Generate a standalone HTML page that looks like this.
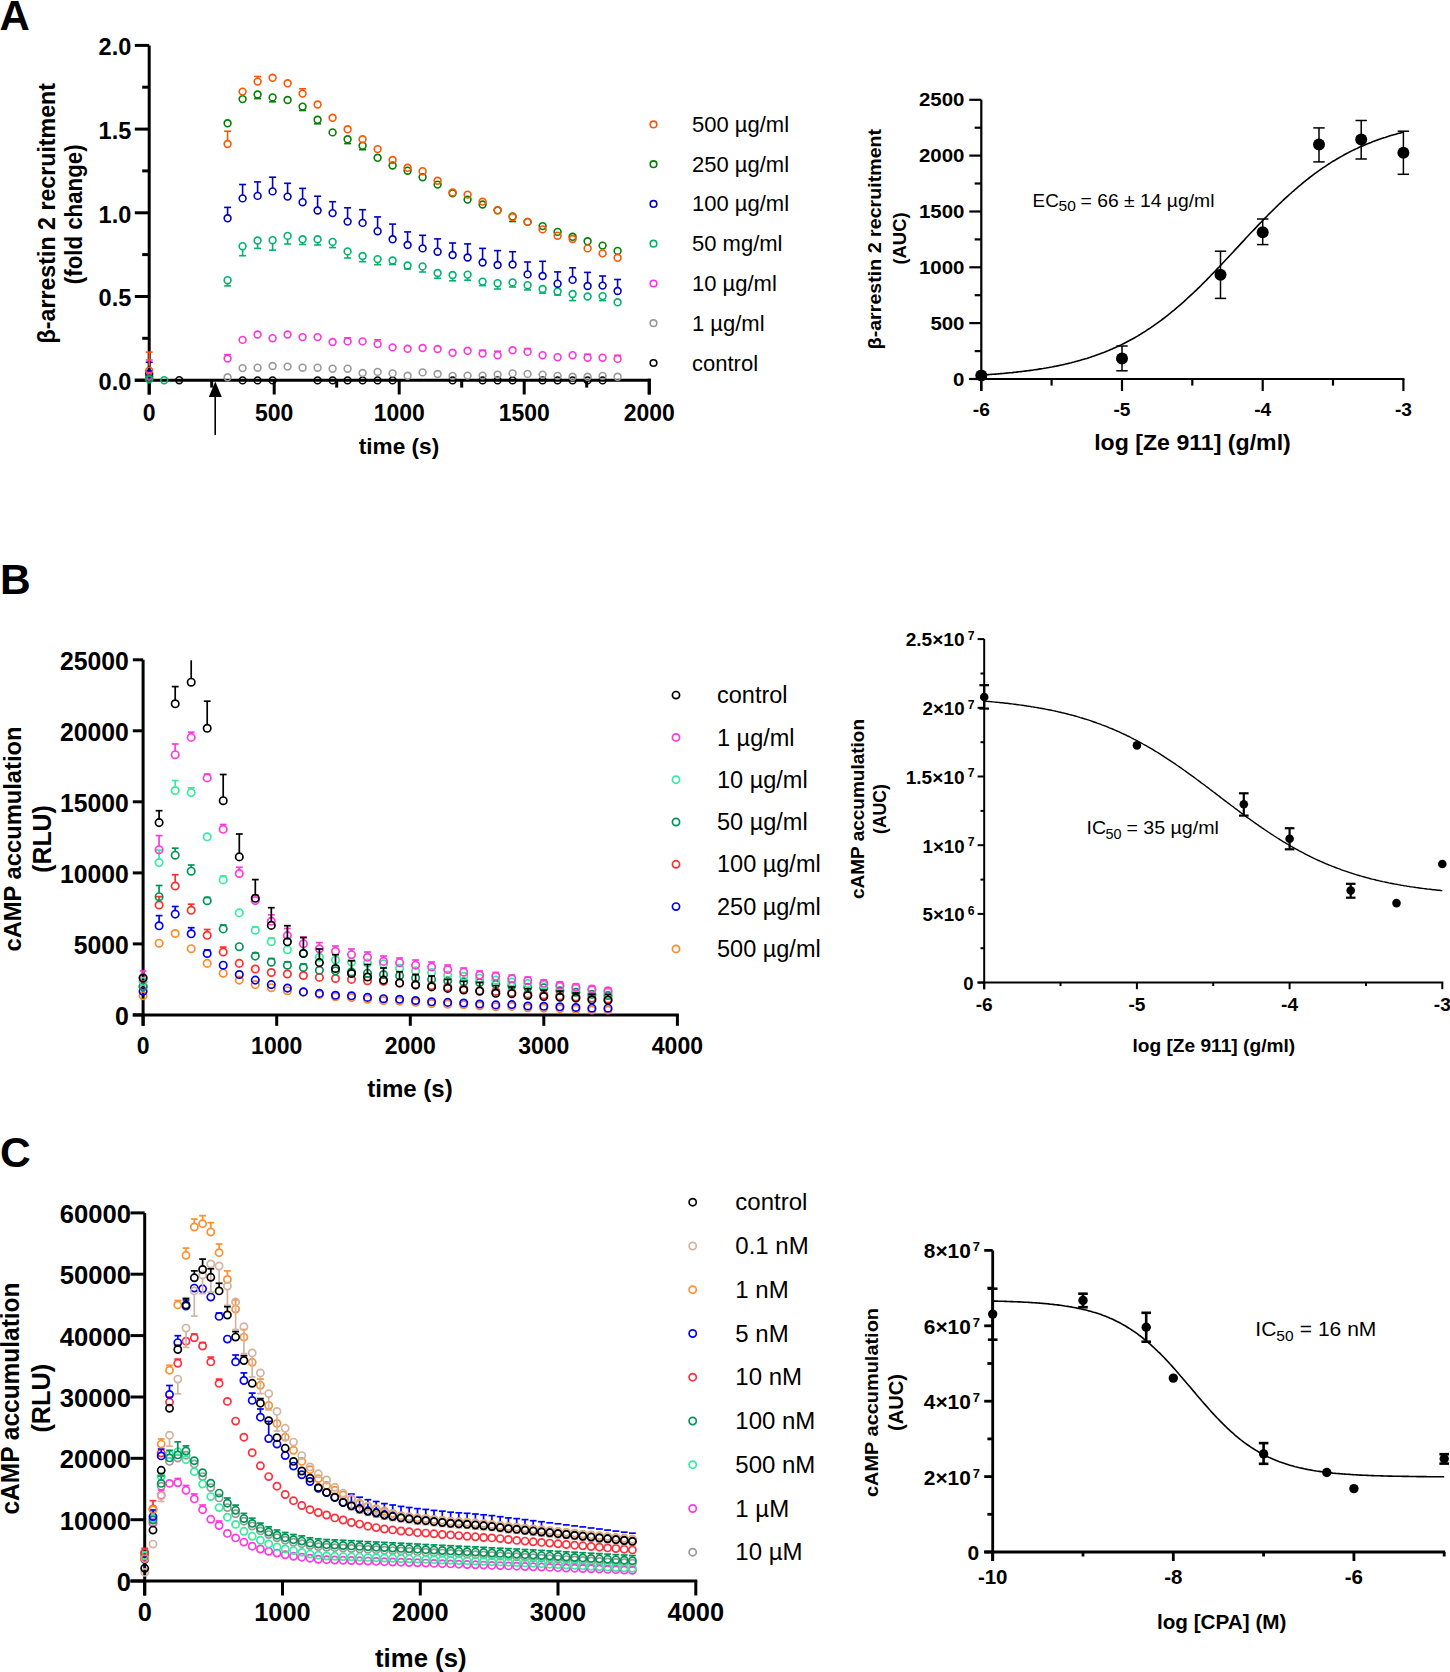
<!DOCTYPE html><html><head><meta charset="utf-8"><style>html,body{margin:0;padding:0;background:#fff;overflow:hidden}svg{display:block}</style></head><body>
<svg width="1450" height="1672" viewBox="0 0 1450 1672" font-family='"Liberation Sans", sans-serif'>
<rect width="1450" height="1672" fill="#fff"/>
<text x="-0.5" y="29.8" font-size="42" font-weight="bold" text-anchor="start" fill="#000">A</text>
<line x1="149.2" y1="45.4" x2="149.2" y2="394.5" stroke="#000" stroke-width="3" stroke-linecap="butt"/>
<line x1="134.8" y1="380.2" x2="650.8" y2="380.2" stroke="#000" stroke-width="3" stroke-linecap="butt"/>
<line x1="134.8" y1="380.2" x2="149.2" y2="380.2" stroke="#000" stroke-width="3" stroke-linecap="butt"/>
<text x="131.3" y="390.1" font-size="23.9" font-weight="bold" text-anchor="end" textLength="32.7" lengthAdjust="spacingAndGlyphs" fill="#000">0.0</text>
<line x1="142.2" y1="338.3" x2="149.2" y2="338.3" stroke="#000" stroke-width="3" stroke-linecap="butt"/>
<line x1="134.8" y1="296.5" x2="149.2" y2="296.5" stroke="#000" stroke-width="3" stroke-linecap="butt"/>
<text x="131.3" y="306.4" font-size="23.9" font-weight="bold" text-anchor="end" textLength="32.7" lengthAdjust="spacingAndGlyphs" fill="#000">0.5</text>
<line x1="142.2" y1="254.6" x2="149.2" y2="254.6" stroke="#000" stroke-width="3" stroke-linecap="butt"/>
<line x1="134.8" y1="212.8" x2="149.2" y2="212.8" stroke="#000" stroke-width="3" stroke-linecap="butt"/>
<text x="131.3" y="222.7" font-size="23.9" font-weight="bold" text-anchor="end" textLength="32.7" lengthAdjust="spacingAndGlyphs" fill="#000">1.0</text>
<line x1="142.2" y1="170.9" x2="149.2" y2="170.9" stroke="#000" stroke-width="3" stroke-linecap="butt"/>
<line x1="134.8" y1="129.1" x2="149.2" y2="129.1" stroke="#000" stroke-width="3" stroke-linecap="butt"/>
<text x="131.3" y="139" font-size="23.9" font-weight="bold" text-anchor="end" textLength="32.7" lengthAdjust="spacingAndGlyphs" fill="#000">1.5</text>
<line x1="142.2" y1="87.2" x2="149.2" y2="87.2" stroke="#000" stroke-width="3" stroke-linecap="butt"/>
<line x1="134.8" y1="45.4" x2="149.2" y2="45.4" stroke="#000" stroke-width="3" stroke-linecap="butt"/>
<text x="131.3" y="55.3" font-size="23.9" font-weight="bold" text-anchor="end" textLength="32.7" lengthAdjust="spacingAndGlyphs" fill="#000">2.0</text>
<line x1="149.2" y1="380.2" x2="149.2" y2="394.5" stroke="#000" stroke-width="3" stroke-linecap="butt"/>
<text x="149.2" y="420.8" font-size="23.9" font-weight="bold" text-anchor="middle" textLength="12.8" lengthAdjust="spacingAndGlyphs" fill="#000">0</text>
<line x1="211.7" y1="380.2" x2="211.7" y2="387.6" stroke="#000" stroke-width="3" stroke-linecap="butt"/>
<line x1="274.2" y1="380.2" x2="274.2" y2="394.5" stroke="#000" stroke-width="3" stroke-linecap="butt"/>
<text x="274.2" y="420.8" font-size="23.9" font-weight="bold" text-anchor="middle" textLength="38.4" lengthAdjust="spacingAndGlyphs" fill="#000">500</text>
<line x1="336.7" y1="380.2" x2="336.7" y2="387.6" stroke="#000" stroke-width="3" stroke-linecap="butt"/>
<line x1="399.2" y1="380.2" x2="399.2" y2="394.5" stroke="#000" stroke-width="3" stroke-linecap="butt"/>
<text x="399.2" y="420.8" font-size="23.9" font-weight="bold" text-anchor="middle" textLength="51.1" lengthAdjust="spacingAndGlyphs" fill="#000">1000</text>
<line x1="461.7" y1="380.2" x2="461.7" y2="387.6" stroke="#000" stroke-width="3" stroke-linecap="butt"/>
<line x1="524.2" y1="380.2" x2="524.2" y2="394.5" stroke="#000" stroke-width="3" stroke-linecap="butt"/>
<text x="524.2" y="420.8" font-size="23.9" font-weight="bold" text-anchor="middle" textLength="51.1" lengthAdjust="spacingAndGlyphs" fill="#000">1500</text>
<line x1="586.7" y1="380.2" x2="586.7" y2="387.6" stroke="#000" stroke-width="3" stroke-linecap="butt"/>
<line x1="649.2" y1="380.2" x2="649.2" y2="394.5" stroke="#000" stroke-width="3" stroke-linecap="butt"/>
<text x="649.2" y="420.8" font-size="23.9" font-weight="bold" text-anchor="middle" textLength="51.1" lengthAdjust="spacingAndGlyphs" fill="#000">2000</text>
<line x1="649.3" y1="378.7" x2="649.3" y2="394.5" stroke="#000" stroke-width="3" stroke-linecap="butt"/>
<text x="399" y="454.3" font-size="22.6" font-weight="bold" text-anchor="middle" textLength="80.4" lengthAdjust="spacingAndGlyphs" fill="#000">time (s)</text>
<text transform="translate(54.8,213.2) rotate(-90)" font-size="24" font-weight="bold" text-anchor="middle" textLength="260.4" lengthAdjust="spacingAndGlyphs" fill="#000">&#946;-arrestin 2 recruitment</text>
<text transform="translate(82,214.3) rotate(-90)" font-size="23" font-weight="bold" text-anchor="middle" textLength="139.8" lengthAdjust="spacingAndGlyphs" fill="#000">(fold change)</text>
<line x1="215.2" y1="396" x2="215.2" y2="435" stroke="#000" stroke-width="1.6" stroke-linecap="butt"/>
<polygon points="215.3,381.6 208.8,397 221.8,397" fill="#000"/>
<circle cx="149.2" cy="376.5" r="3.4" fill="none" stroke="#999999" stroke-width="1.6"/>
<circle cx="149.2" cy="376" r="3.4" fill="none" stroke="#FF33DD" stroke-width="1.6"/>
<line x1="145.7" y1="360" x2="152.7" y2="360" stroke="#FF33DD" stroke-width="1.6" stroke-linecap="butt"/>
<circle cx="149.2" cy="373.5" r="3.4" fill="none" stroke="#0000C0" stroke-width="1.6"/>
<line x1="145.7" y1="362.3" x2="152.7" y2="362.3" stroke="#0000C0" stroke-width="1.6" stroke-linecap="butt"/>
<line x1="149.2" y1="366" x2="149.2" y2="352.1" stroke="#FF5500" stroke-width="1.6" stroke-linecap="butt"/>
<line x1="145.7" y1="352.1" x2="152.7" y2="352.1" stroke="#FF5500" stroke-width="1.6" stroke-linecap="butt"/>
<circle cx="149.2" cy="370.6" r="3.4" fill="none" stroke="#FF5500" stroke-width="1.6"/>
<circle cx="149.2" cy="378.5" r="3.4" fill="none" stroke="#007F00" stroke-width="1.6"/>
<circle cx="149.2" cy="379.4" r="3.4" fill="none" stroke="#00B36B" stroke-width="1.6"/>
<circle cx="164.2" cy="380.2" r="3.4" fill="none" stroke="#00B36B" stroke-width="1.6"/>
<circle cx="179.2" cy="380.2" r="3.4" fill="none" stroke="#000000" stroke-width="1.6"/>
<circle cx="242.6" cy="380.4" r="3.4" fill="none" stroke="#000000" stroke-width="1.6"/>
<circle cx="257.6" cy="380.4" r="3.4" fill="none" stroke="#000000" stroke-width="1.6"/>
<circle cx="272.6" cy="380.4" r="3.4" fill="none" stroke="#000000" stroke-width="1.6"/>
<circle cx="317.6" cy="380.4" r="3.4" fill="none" stroke="#000000" stroke-width="1.6"/>
<circle cx="332.6" cy="380.4" r="3.4" fill="none" stroke="#000000" stroke-width="1.6"/>
<circle cx="347.6" cy="380.4" r="3.4" fill="none" stroke="#000000" stroke-width="1.6"/>
<circle cx="362.6" cy="380.4" r="3.4" fill="none" stroke="#000000" stroke-width="1.6"/>
<circle cx="377.6" cy="380.4" r="3.4" fill="none" stroke="#000000" stroke-width="1.6"/>
<circle cx="392.6" cy="380.4" r="3.4" fill="none" stroke="#000000" stroke-width="1.6"/>
<circle cx="452.6" cy="380.4" r="3.4" fill="none" stroke="#000000" stroke-width="1.6"/>
<circle cx="482.6" cy="380.4" r="3.4" fill="none" stroke="#000000" stroke-width="1.6"/>
<circle cx="497.6" cy="380.4" r="3.4" fill="none" stroke="#000000" stroke-width="1.6"/>
<circle cx="512.6" cy="380.4" r="3.4" fill="none" stroke="#000000" stroke-width="1.6"/>
<circle cx="542.6" cy="380.4" r="3.4" fill="none" stroke="#000000" stroke-width="1.6"/>
<circle cx="557.6" cy="380.4" r="3.4" fill="none" stroke="#000000" stroke-width="1.6"/>
<circle cx="572.6" cy="380.4" r="3.4" fill="none" stroke="#000000" stroke-width="1.6"/>
<circle cx="587.6" cy="380.4" r="3.4" fill="none" stroke="#000000" stroke-width="1.6"/>
<circle cx="602.6" cy="380.4" r="3.4" fill="none" stroke="#000000" stroke-width="1.6"/>
<circle cx="227.6" cy="377.3" r="3.4" fill="none" stroke="#999999" stroke-width="1.6"/>
<circle cx="242.6" cy="368.1" r="3.4" fill="none" stroke="#999999" stroke-width="1.6"/>
<circle cx="257.6" cy="367.7" r="3.4" fill="none" stroke="#999999" stroke-width="1.6"/>
<circle cx="272.6" cy="366" r="3.4" fill="none" stroke="#999999" stroke-width="1.6"/>
<circle cx="287.6" cy="366.6" r="3.4" fill="none" stroke="#999999" stroke-width="1.6"/>
<circle cx="302.6" cy="367.7" r="3.4" fill="none" stroke="#999999" stroke-width="1.6"/>
<circle cx="317.6" cy="367.7" r="3.4" fill="none" stroke="#999999" stroke-width="1.6"/>
<circle cx="332.6" cy="368.7" r="3.4" fill="none" stroke="#999999" stroke-width="1.6"/>
<circle cx="347.6" cy="368.7" r="3.4" fill="none" stroke="#999999" stroke-width="1.6"/>
<circle cx="362.6" cy="373" r="3.4" fill="none" stroke="#999999" stroke-width="1.6"/>
<circle cx="377.6" cy="371.9" r="3.4" fill="none" stroke="#999999" stroke-width="1.6"/>
<circle cx="392.6" cy="373.4" r="3.4" fill="none" stroke="#999999" stroke-width="1.6"/>
<circle cx="407.6" cy="375.8" r="3.4" fill="none" stroke="#999999" stroke-width="1.6"/>
<circle cx="422.6" cy="372.4" r="3.4" fill="none" stroke="#999999" stroke-width="1.6"/>
<circle cx="437.6" cy="374" r="3.4" fill="none" stroke="#999999" stroke-width="1.6"/>
<circle cx="452.6" cy="375.9" r="3.4" fill="none" stroke="#999999" stroke-width="1.6"/>
<circle cx="467.6" cy="375.6" r="3.4" fill="none" stroke="#999999" stroke-width="1.6"/>
<circle cx="482.6" cy="375.6" r="3.4" fill="none" stroke="#999999" stroke-width="1.6"/>
<circle cx="497.6" cy="374.6" r="3.4" fill="none" stroke="#999999" stroke-width="1.6"/>
<circle cx="512.6" cy="373.4" r="3.4" fill="none" stroke="#999999" stroke-width="1.6"/>
<circle cx="527.6" cy="373.9" r="3.4" fill="none" stroke="#999999" stroke-width="1.6"/>
<circle cx="542.6" cy="374.6" r="3.4" fill="none" stroke="#999999" stroke-width="1.6"/>
<circle cx="557.6" cy="375.9" r="3.4" fill="none" stroke="#999999" stroke-width="1.6"/>
<circle cx="572.6" cy="376.8" r="3.4" fill="none" stroke="#999999" stroke-width="1.6"/>
<circle cx="587.6" cy="376.8" r="3.4" fill="none" stroke="#999999" stroke-width="1.6"/>
<circle cx="602.6" cy="375.9" r="3.4" fill="none" stroke="#999999" stroke-width="1.6"/>
<circle cx="617.6" cy="376.8" r="3.4" fill="none" stroke="#999999" stroke-width="1.6"/>
<line x1="224.1" y1="354.6" x2="231.1" y2="354.6" stroke="#FF33DD" stroke-width="1.6" stroke-linecap="butt"/>
<line x1="344.1" y1="337.8" x2="351.1" y2="337.8" stroke="#FF33DD" stroke-width="1.6" stroke-linecap="butt"/>
<line x1="377.6" y1="340.7" x2="377.6" y2="339.8" stroke="#FF33DD" stroke-width="1.6" stroke-linecap="butt"/>
<line x1="374.1" y1="339.8" x2="381.1" y2="339.8" stroke="#FF33DD" stroke-width="1.6" stroke-linecap="butt"/>
<line x1="479.1" y1="350.2" x2="486.1" y2="350.2" stroke="#FF33DD" stroke-width="1.6" stroke-linecap="butt"/>
<line x1="497.6" y1="351.8" x2="497.6" y2="351.2" stroke="#FF33DD" stroke-width="1.6" stroke-linecap="butt"/>
<line x1="494.1" y1="351.2" x2="501.1" y2="351.2" stroke="#FF33DD" stroke-width="1.6" stroke-linecap="butt"/>
<line x1="524.1" y1="348.6" x2="531.1" y2="348.6" stroke="#FF33DD" stroke-width="1.6" stroke-linecap="butt"/>
<line x1="584.1" y1="354.2" x2="591.1" y2="354.2" stroke="#FF33DD" stroke-width="1.6" stroke-linecap="butt"/>
<line x1="614.1" y1="355.3" x2="621.1" y2="355.3" stroke="#FF33DD" stroke-width="1.6" stroke-linecap="butt"/>
<circle cx="227.6" cy="358.5" r="3.4" fill="none" stroke="#FF33DD" stroke-width="1.6"/>
<circle cx="242.6" cy="339.9" r="3.4" fill="none" stroke="#FF33DD" stroke-width="1.6"/>
<circle cx="257.6" cy="334.5" r="3.4" fill="none" stroke="#FF33DD" stroke-width="1.6"/>
<circle cx="272.6" cy="338.2" r="3.4" fill="none" stroke="#FF33DD" stroke-width="1.6"/>
<circle cx="287.6" cy="334.5" r="3.4" fill="none" stroke="#FF33DD" stroke-width="1.6"/>
<circle cx="302.6" cy="337.1" r="3.4" fill="none" stroke="#FF33DD" stroke-width="1.6"/>
<circle cx="317.6" cy="337.1" r="3.4" fill="none" stroke="#FF33DD" stroke-width="1.6"/>
<circle cx="332.6" cy="342" r="3.4" fill="none" stroke="#FF33DD" stroke-width="1.6"/>
<circle cx="347.6" cy="341.4" r="3.4" fill="none" stroke="#FF33DD" stroke-width="1.6"/>
<circle cx="362.6" cy="341.4" r="3.4" fill="none" stroke="#FF33DD" stroke-width="1.6"/>
<circle cx="377.6" cy="344.1" r="3.4" fill="none" stroke="#FF33DD" stroke-width="1.6"/>
<circle cx="392.6" cy="347.4" r="3.4" fill="none" stroke="#FF33DD" stroke-width="1.6"/>
<circle cx="407.6" cy="348.8" r="3.4" fill="none" stroke="#FF33DD" stroke-width="1.6"/>
<circle cx="422.6" cy="348" r="3.4" fill="none" stroke="#FF33DD" stroke-width="1.6"/>
<circle cx="437.6" cy="349" r="3.4" fill="none" stroke="#FF33DD" stroke-width="1.6"/>
<circle cx="452.6" cy="352.8" r="3.4" fill="none" stroke="#FF33DD" stroke-width="1.6"/>
<circle cx="467.6" cy="350.8" r="3.4" fill="none" stroke="#FF33DD" stroke-width="1.6"/>
<circle cx="482.6" cy="353.6" r="3.4" fill="none" stroke="#FF33DD" stroke-width="1.6"/>
<circle cx="497.6" cy="355.2" r="3.4" fill="none" stroke="#FF33DD" stroke-width="1.6"/>
<circle cx="512.6" cy="350.3" r="3.4" fill="none" stroke="#FF33DD" stroke-width="1.6"/>
<circle cx="527.6" cy="351.9" r="3.4" fill="none" stroke="#FF33DD" stroke-width="1.6"/>
<circle cx="542.6" cy="355.2" r="3.4" fill="none" stroke="#FF33DD" stroke-width="1.6"/>
<circle cx="557.6" cy="357.2" r="3.4" fill="none" stroke="#FF33DD" stroke-width="1.6"/>
<circle cx="572.6" cy="355.2" r="3.4" fill="none" stroke="#FF33DD" stroke-width="1.6"/>
<circle cx="587.6" cy="357.7" r="3.4" fill="none" stroke="#FF33DD" stroke-width="1.6"/>
<circle cx="602.6" cy="357.7" r="3.4" fill="none" stroke="#FF33DD" stroke-width="1.6"/>
<circle cx="617.6" cy="358.9" r="3.4" fill="none" stroke="#FF33DD" stroke-width="1.6"/>
<line x1="227.6" y1="283.6" x2="227.6" y2="285.9" stroke="#00B36B" stroke-width="1.6" stroke-linecap="butt"/>
<line x1="224.1" y1="285.9" x2="231.1" y2="285.9" stroke="#00B36B" stroke-width="1.6" stroke-linecap="butt"/>
<line x1="242.6" y1="249.6" x2="242.6" y2="255.7" stroke="#00B36B" stroke-width="1.6" stroke-linecap="butt"/>
<line x1="239.1" y1="255.7" x2="246.1" y2="255.7" stroke="#00B36B" stroke-width="1.6" stroke-linecap="butt"/>
<line x1="257.6" y1="243.9" x2="257.6" y2="248.4" stroke="#00B36B" stroke-width="1.6" stroke-linecap="butt"/>
<line x1="254.1" y1="248.4" x2="261.1" y2="248.4" stroke="#00B36B" stroke-width="1.6" stroke-linecap="butt"/>
<line x1="272.6" y1="243.6" x2="272.6" y2="250.2" stroke="#00B36B" stroke-width="1.6" stroke-linecap="butt"/>
<line x1="269.1" y1="250.2" x2="276.1" y2="250.2" stroke="#00B36B" stroke-width="1.6" stroke-linecap="butt"/>
<line x1="287.6" y1="239.3" x2="287.6" y2="244" stroke="#00B36B" stroke-width="1.6" stroke-linecap="butt"/>
<line x1="284.1" y1="244" x2="291.1" y2="244" stroke="#00B36B" stroke-width="1.6" stroke-linecap="butt"/>
<line x1="302.6" y1="242.7" x2="302.6" y2="244.5" stroke="#00B36B" stroke-width="1.6" stroke-linecap="butt"/>
<line x1="299.1" y1="244.5" x2="306.1" y2="244.5" stroke="#00B36B" stroke-width="1.6" stroke-linecap="butt"/>
<line x1="317.6" y1="242.7" x2="317.6" y2="245" stroke="#00B36B" stroke-width="1.6" stroke-linecap="butt"/>
<line x1="314.1" y1="245" x2="321.1" y2="245" stroke="#00B36B" stroke-width="1.6" stroke-linecap="butt"/>
<line x1="332.6" y1="245.3" x2="332.6" y2="247.6" stroke="#00B36B" stroke-width="1.6" stroke-linecap="butt"/>
<line x1="329.1" y1="247.6" x2="336.1" y2="247.6" stroke="#00B36B" stroke-width="1.6" stroke-linecap="butt"/>
<line x1="347.6" y1="254.8" x2="347.6" y2="258" stroke="#00B36B" stroke-width="1.6" stroke-linecap="butt"/>
<line x1="344.1" y1="258" x2="351.1" y2="258" stroke="#00B36B" stroke-width="1.6" stroke-linecap="butt"/>
<line x1="362.6" y1="259.4" x2="362.6" y2="261.7" stroke="#00B36B" stroke-width="1.6" stroke-linecap="butt"/>
<line x1="359.1" y1="261.7" x2="366.1" y2="261.7" stroke="#00B36B" stroke-width="1.6" stroke-linecap="butt"/>
<line x1="377.6" y1="262.5" x2="377.6" y2="264.7" stroke="#00B36B" stroke-width="1.6" stroke-linecap="butt"/>
<line x1="374.1" y1="264.7" x2="381.1" y2="264.7" stroke="#00B36B" stroke-width="1.6" stroke-linecap="butt"/>
<line x1="392.6" y1="263.9" x2="392.6" y2="264.5" stroke="#00B36B" stroke-width="1.6" stroke-linecap="butt"/>
<line x1="389.1" y1="264.5" x2="396.1" y2="264.5" stroke="#00B36B" stroke-width="1.6" stroke-linecap="butt"/>
<line x1="404.1" y1="269" x2="411.1" y2="269" stroke="#00B36B" stroke-width="1.6" stroke-linecap="butt"/>
<line x1="422.6" y1="269.8" x2="422.6" y2="272" stroke="#00B36B" stroke-width="1.6" stroke-linecap="butt"/>
<line x1="419.1" y1="272" x2="426.1" y2="272" stroke="#00B36B" stroke-width="1.6" stroke-linecap="butt"/>
<line x1="437.6" y1="276.4" x2="437.6" y2="278.3" stroke="#00B36B" stroke-width="1.6" stroke-linecap="butt"/>
<line x1="434.1" y1="278.3" x2="441.1" y2="278.3" stroke="#00B36B" stroke-width="1.6" stroke-linecap="butt"/>
<line x1="452.6" y1="278.4" x2="452.6" y2="280.8" stroke="#00B36B" stroke-width="1.6" stroke-linecap="butt"/>
<line x1="449.1" y1="280.8" x2="456.1" y2="280.8" stroke="#00B36B" stroke-width="1.6" stroke-linecap="butt"/>
<line x1="467.6" y1="278" x2="467.6" y2="280.2" stroke="#00B36B" stroke-width="1.6" stroke-linecap="butt"/>
<line x1="464.1" y1="280.2" x2="471.1" y2="280.2" stroke="#00B36B" stroke-width="1.6" stroke-linecap="butt"/>
<line x1="482.6" y1="285" x2="482.6" y2="285.6" stroke="#00B36B" stroke-width="1.6" stroke-linecap="butt"/>
<line x1="479.1" y1="285.6" x2="486.1" y2="285.6" stroke="#00B36B" stroke-width="1.6" stroke-linecap="butt"/>
<line x1="497.6" y1="286.6" x2="497.6" y2="289" stroke="#00B36B" stroke-width="1.6" stroke-linecap="butt"/>
<line x1="494.1" y1="289" x2="501.1" y2="289" stroke="#00B36B" stroke-width="1.6" stroke-linecap="butt"/>
<line x1="512.6" y1="285.8" x2="512.6" y2="287" stroke="#00B36B" stroke-width="1.6" stroke-linecap="butt"/>
<line x1="509.1" y1="287" x2="516.1" y2="287" stroke="#00B36B" stroke-width="1.6" stroke-linecap="butt"/>
<line x1="527.6" y1="288.6" x2="527.6" y2="289.9" stroke="#00B36B" stroke-width="1.6" stroke-linecap="butt"/>
<line x1="524.1" y1="289.9" x2="531.1" y2="289.9" stroke="#00B36B" stroke-width="1.6" stroke-linecap="butt"/>
<line x1="542.6" y1="292.4" x2="542.6" y2="293.1" stroke="#00B36B" stroke-width="1.6" stroke-linecap="butt"/>
<line x1="539.1" y1="293.1" x2="546.1" y2="293.1" stroke="#00B36B" stroke-width="1.6" stroke-linecap="butt"/>
<line x1="554.1" y1="295.1" x2="561.1" y2="295.1" stroke="#00B36B" stroke-width="1.6" stroke-linecap="butt"/>
<line x1="572.6" y1="297.4" x2="572.6" y2="300.6" stroke="#00B36B" stroke-width="1.6" stroke-linecap="butt"/>
<line x1="569.1" y1="300.6" x2="576.1" y2="300.6" stroke="#00B36B" stroke-width="1.6" stroke-linecap="butt"/>
<line x1="602.6" y1="299.5" x2="602.6" y2="300.6" stroke="#00B36B" stroke-width="1.6" stroke-linecap="butt"/>
<line x1="599.1" y1="300.6" x2="606.1" y2="300.6" stroke="#00B36B" stroke-width="1.6" stroke-linecap="butt"/>
<circle cx="227.6" cy="280.2" r="3.4" fill="none" stroke="#00B36B" stroke-width="1.6"/>
<circle cx="242.6" cy="246.2" r="3.4" fill="none" stroke="#00B36B" stroke-width="1.6"/>
<circle cx="257.6" cy="240.5" r="3.4" fill="none" stroke="#00B36B" stroke-width="1.6"/>
<circle cx="272.6" cy="240.2" r="3.4" fill="none" stroke="#00B36B" stroke-width="1.6"/>
<circle cx="287.6" cy="235.9" r="3.4" fill="none" stroke="#00B36B" stroke-width="1.6"/>
<circle cx="302.6" cy="239.3" r="3.4" fill="none" stroke="#00B36B" stroke-width="1.6"/>
<circle cx="317.6" cy="239.3" r="3.4" fill="none" stroke="#00B36B" stroke-width="1.6"/>
<circle cx="332.6" cy="241.9" r="3.4" fill="none" stroke="#00B36B" stroke-width="1.6"/>
<circle cx="347.6" cy="251.4" r="3.4" fill="none" stroke="#00B36B" stroke-width="1.6"/>
<circle cx="362.6" cy="256" r="3.4" fill="none" stroke="#00B36B" stroke-width="1.6"/>
<circle cx="377.6" cy="259.1" r="3.4" fill="none" stroke="#00B36B" stroke-width="1.6"/>
<circle cx="392.6" cy="260.5" r="3.4" fill="none" stroke="#00B36B" stroke-width="1.6"/>
<circle cx="407.6" cy="265.5" r="3.4" fill="none" stroke="#00B36B" stroke-width="1.6"/>
<circle cx="422.6" cy="266.4" r="3.4" fill="none" stroke="#00B36B" stroke-width="1.6"/>
<circle cx="437.6" cy="273" r="3.4" fill="none" stroke="#00B36B" stroke-width="1.6"/>
<circle cx="452.6" cy="275" r="3.4" fill="none" stroke="#00B36B" stroke-width="1.6"/>
<circle cx="467.6" cy="274.6" r="3.4" fill="none" stroke="#00B36B" stroke-width="1.6"/>
<circle cx="482.6" cy="281.6" r="3.4" fill="none" stroke="#00B36B" stroke-width="1.6"/>
<circle cx="497.6" cy="283.2" r="3.4" fill="none" stroke="#00B36B" stroke-width="1.6"/>
<circle cx="512.6" cy="282.4" r="3.4" fill="none" stroke="#00B36B" stroke-width="1.6"/>
<circle cx="527.6" cy="285.2" r="3.4" fill="none" stroke="#00B36B" stroke-width="1.6"/>
<circle cx="542.6" cy="289" r="3.4" fill="none" stroke="#00B36B" stroke-width="1.6"/>
<circle cx="557.6" cy="291.5" r="3.4" fill="none" stroke="#00B36B" stroke-width="1.6"/>
<circle cx="572.6" cy="294" r="3.4" fill="none" stroke="#00B36B" stroke-width="1.6"/>
<circle cx="587.6" cy="296.5" r="3.4" fill="none" stroke="#00B36B" stroke-width="1.6"/>
<circle cx="602.6" cy="296.1" r="3.4" fill="none" stroke="#00B36B" stroke-width="1.6"/>
<circle cx="617.6" cy="302.3" r="3.4" fill="none" stroke="#00B36B" stroke-width="1.6"/>
<line x1="227.6" y1="214.9" x2="227.6" y2="207.4" stroke="#0000C0" stroke-width="1.6" stroke-linecap="butt"/>
<line x1="224.1" y1="207.4" x2="231.1" y2="207.4" stroke="#0000C0" stroke-width="1.6" stroke-linecap="butt"/>
<line x1="242.6" y1="195" x2="242.6" y2="184.5" stroke="#0000C0" stroke-width="1.6" stroke-linecap="butt"/>
<line x1="239.1" y1="184.5" x2="246.1" y2="184.5" stroke="#0000C0" stroke-width="1.6" stroke-linecap="butt"/>
<line x1="257.6" y1="192.5" x2="257.6" y2="181.9" stroke="#0000C0" stroke-width="1.6" stroke-linecap="butt"/>
<line x1="254.1" y1="181.9" x2="261.1" y2="181.9" stroke="#0000C0" stroke-width="1.6" stroke-linecap="butt"/>
<line x1="272.6" y1="188" x2="272.6" y2="177.2" stroke="#0000C0" stroke-width="1.6" stroke-linecap="butt"/>
<line x1="269.1" y1="177.2" x2="276.1" y2="177.2" stroke="#0000C0" stroke-width="1.6" stroke-linecap="butt"/>
<line x1="287.6" y1="193.2" x2="287.6" y2="183.3" stroke="#0000C0" stroke-width="1.6" stroke-linecap="butt"/>
<line x1="284.1" y1="183.3" x2="291.1" y2="183.3" stroke="#0000C0" stroke-width="1.6" stroke-linecap="butt"/>
<line x1="302.6" y1="198.8" x2="302.6" y2="188.4" stroke="#0000C0" stroke-width="1.6" stroke-linecap="butt"/>
<line x1="299.1" y1="188.4" x2="306.1" y2="188.4" stroke="#0000C0" stroke-width="1.6" stroke-linecap="butt"/>
<line x1="317.6" y1="207.1" x2="317.6" y2="196.2" stroke="#0000C0" stroke-width="1.6" stroke-linecap="butt"/>
<line x1="314.1" y1="196.2" x2="321.1" y2="196.2" stroke="#0000C0" stroke-width="1.6" stroke-linecap="butt"/>
<line x1="332.6" y1="209.7" x2="332.6" y2="201.7" stroke="#0000C0" stroke-width="1.6" stroke-linecap="butt"/>
<line x1="329.1" y1="201.7" x2="336.1" y2="201.7" stroke="#0000C0" stroke-width="1.6" stroke-linecap="butt"/>
<line x1="347.6" y1="218.2" x2="347.6" y2="207.8" stroke="#0000C0" stroke-width="1.6" stroke-linecap="butt"/>
<line x1="344.1" y1="207.8" x2="351.1" y2="207.8" stroke="#0000C0" stroke-width="1.6" stroke-linecap="butt"/>
<line x1="362.6" y1="219.5" x2="362.6" y2="209.7" stroke="#0000C0" stroke-width="1.6" stroke-linecap="butt"/>
<line x1="359.1" y1="209.7" x2="366.1" y2="209.7" stroke="#0000C0" stroke-width="1.6" stroke-linecap="butt"/>
<line x1="377.6" y1="227.8" x2="377.6" y2="216.9" stroke="#0000C0" stroke-width="1.6" stroke-linecap="butt"/>
<line x1="374.1" y1="216.9" x2="381.1" y2="216.9" stroke="#0000C0" stroke-width="1.6" stroke-linecap="butt"/>
<line x1="392.6" y1="235.9" x2="392.6" y2="224.1" stroke="#0000C0" stroke-width="1.6" stroke-linecap="butt"/>
<line x1="389.1" y1="224.1" x2="396.1" y2="224.1" stroke="#0000C0" stroke-width="1.6" stroke-linecap="butt"/>
<line x1="407.6" y1="241.6" x2="407.6" y2="231.9" stroke="#0000C0" stroke-width="1.6" stroke-linecap="butt"/>
<line x1="404.1" y1="231.9" x2="411.1" y2="231.9" stroke="#0000C0" stroke-width="1.6" stroke-linecap="butt"/>
<line x1="422.6" y1="245" x2="422.6" y2="235.3" stroke="#0000C0" stroke-width="1.6" stroke-linecap="butt"/>
<line x1="419.1" y1="235.3" x2="426.1" y2="235.3" stroke="#0000C0" stroke-width="1.6" stroke-linecap="butt"/>
<line x1="437.6" y1="248.3" x2="437.6" y2="238.9" stroke="#0000C0" stroke-width="1.6" stroke-linecap="butt"/>
<line x1="434.1" y1="238.9" x2="441.1" y2="238.9" stroke="#0000C0" stroke-width="1.6" stroke-linecap="butt"/>
<line x1="452.6" y1="251.6" x2="452.6" y2="243" stroke="#0000C0" stroke-width="1.6" stroke-linecap="butt"/>
<line x1="449.1" y1="243" x2="456.1" y2="243" stroke="#0000C0" stroke-width="1.6" stroke-linecap="butt"/>
<line x1="467.6" y1="254.1" x2="467.6" y2="243.9" stroke="#0000C0" stroke-width="1.6" stroke-linecap="butt"/>
<line x1="464.1" y1="243.9" x2="471.1" y2="243.9" stroke="#0000C0" stroke-width="1.6" stroke-linecap="butt"/>
<line x1="482.6" y1="259.1" x2="482.6" y2="248.4" stroke="#0000C0" stroke-width="1.6" stroke-linecap="butt"/>
<line x1="479.1" y1="248.4" x2="486.1" y2="248.4" stroke="#0000C0" stroke-width="1.6" stroke-linecap="butt"/>
<line x1="497.6" y1="261.6" x2="497.6" y2="250.6" stroke="#0000C0" stroke-width="1.6" stroke-linecap="butt"/>
<line x1="494.1" y1="250.6" x2="501.1" y2="250.6" stroke="#0000C0" stroke-width="1.6" stroke-linecap="butt"/>
<line x1="512.6" y1="261.1" x2="512.6" y2="251.7" stroke="#0000C0" stroke-width="1.6" stroke-linecap="butt"/>
<line x1="509.1" y1="251.7" x2="516.1" y2="251.7" stroke="#0000C0" stroke-width="1.6" stroke-linecap="butt"/>
<line x1="527.6" y1="271" x2="527.6" y2="262" stroke="#0000C0" stroke-width="1.6" stroke-linecap="butt"/>
<line x1="524.1" y1="262" x2="531.1" y2="262" stroke="#0000C0" stroke-width="1.6" stroke-linecap="butt"/>
<line x1="542.6" y1="272.6" x2="542.6" y2="261.3" stroke="#0000C0" stroke-width="1.6" stroke-linecap="butt"/>
<line x1="539.1" y1="261.3" x2="546.1" y2="261.3" stroke="#0000C0" stroke-width="1.6" stroke-linecap="butt"/>
<line x1="557.6" y1="280.3" x2="557.6" y2="271.9" stroke="#0000C0" stroke-width="1.6" stroke-linecap="butt"/>
<line x1="554.1" y1="271.9" x2="561.1" y2="271.9" stroke="#0000C0" stroke-width="1.6" stroke-linecap="butt"/>
<line x1="572.6" y1="276.5" x2="572.6" y2="267.8" stroke="#0000C0" stroke-width="1.6" stroke-linecap="butt"/>
<line x1="569.1" y1="267.8" x2="576.1" y2="267.8" stroke="#0000C0" stroke-width="1.6" stroke-linecap="butt"/>
<line x1="587.6" y1="282.6" x2="587.6" y2="272.4" stroke="#0000C0" stroke-width="1.6" stroke-linecap="butt"/>
<line x1="584.1" y1="272.4" x2="591.1" y2="272.4" stroke="#0000C0" stroke-width="1.6" stroke-linecap="butt"/>
<line x1="602.6" y1="282.2" x2="602.6" y2="276" stroke="#0000C0" stroke-width="1.6" stroke-linecap="butt"/>
<line x1="599.1" y1="276" x2="606.1" y2="276" stroke="#0000C0" stroke-width="1.6" stroke-linecap="butt"/>
<line x1="617.6" y1="287.6" x2="617.6" y2="279.5" stroke="#0000C0" stroke-width="1.6" stroke-linecap="butt"/>
<line x1="614.1" y1="279.5" x2="621.1" y2="279.5" stroke="#0000C0" stroke-width="1.6" stroke-linecap="butt"/>
<circle cx="227.6" cy="218.3" r="3.4" fill="none" stroke="#0000C0" stroke-width="1.6"/>
<circle cx="242.6" cy="198.4" r="3.4" fill="none" stroke="#0000C0" stroke-width="1.6"/>
<circle cx="257.6" cy="195.9" r="3.4" fill="none" stroke="#0000C0" stroke-width="1.6"/>
<circle cx="272.6" cy="191.4" r="3.4" fill="none" stroke="#0000C0" stroke-width="1.6"/>
<circle cx="287.6" cy="196.6" r="3.4" fill="none" stroke="#0000C0" stroke-width="1.6"/>
<circle cx="302.6" cy="202.2" r="3.4" fill="none" stroke="#0000C0" stroke-width="1.6"/>
<circle cx="317.6" cy="210.5" r="3.4" fill="none" stroke="#0000C0" stroke-width="1.6"/>
<circle cx="332.6" cy="213.1" r="3.4" fill="none" stroke="#0000C0" stroke-width="1.6"/>
<circle cx="347.6" cy="221.6" r="3.4" fill="none" stroke="#0000C0" stroke-width="1.6"/>
<circle cx="362.6" cy="222.9" r="3.4" fill="none" stroke="#0000C0" stroke-width="1.6"/>
<circle cx="377.6" cy="231.2" r="3.4" fill="none" stroke="#0000C0" stroke-width="1.6"/>
<circle cx="392.6" cy="239.3" r="3.4" fill="none" stroke="#0000C0" stroke-width="1.6"/>
<circle cx="407.6" cy="245" r="3.4" fill="none" stroke="#0000C0" stroke-width="1.6"/>
<circle cx="422.6" cy="248.4" r="3.4" fill="none" stroke="#0000C0" stroke-width="1.6"/>
<circle cx="437.6" cy="251.7" r="3.4" fill="none" stroke="#0000C0" stroke-width="1.6"/>
<circle cx="452.6" cy="255" r="3.4" fill="none" stroke="#0000C0" stroke-width="1.6"/>
<circle cx="467.6" cy="257.5" r="3.4" fill="none" stroke="#0000C0" stroke-width="1.6"/>
<circle cx="482.6" cy="262.5" r="3.4" fill="none" stroke="#0000C0" stroke-width="1.6"/>
<circle cx="497.6" cy="265" r="3.4" fill="none" stroke="#0000C0" stroke-width="1.6"/>
<circle cx="512.6" cy="264.5" r="3.4" fill="none" stroke="#0000C0" stroke-width="1.6"/>
<circle cx="527.6" cy="274.4" r="3.4" fill="none" stroke="#0000C0" stroke-width="1.6"/>
<circle cx="542.6" cy="276" r="3.4" fill="none" stroke="#0000C0" stroke-width="1.6"/>
<circle cx="557.6" cy="283.7" r="3.4" fill="none" stroke="#0000C0" stroke-width="1.6"/>
<circle cx="572.6" cy="279.9" r="3.4" fill="none" stroke="#0000C0" stroke-width="1.6"/>
<circle cx="587.6" cy="286" r="3.4" fill="none" stroke="#0000C0" stroke-width="1.6"/>
<circle cx="602.6" cy="285.6" r="3.4" fill="none" stroke="#0000C0" stroke-width="1.6"/>
<circle cx="617.6" cy="291" r="3.4" fill="none" stroke="#0000C0" stroke-width="1.6"/>
<line x1="257.6" y1="97.9" x2="257.6" y2="98.6" stroke="#007F00" stroke-width="1.6" stroke-linecap="butt"/>
<line x1="254.1" y1="98.6" x2="261.1" y2="98.6" stroke="#007F00" stroke-width="1.6" stroke-linecap="butt"/>
<line x1="272.6" y1="100.8" x2="272.6" y2="101.8" stroke="#007F00" stroke-width="1.6" stroke-linecap="butt"/>
<line x1="269.1" y1="101.8" x2="276.1" y2="101.8" stroke="#007F00" stroke-width="1.6" stroke-linecap="butt"/>
<line x1="302.6" y1="110" x2="302.6" y2="110.5" stroke="#007F00" stroke-width="1.6" stroke-linecap="butt"/>
<line x1="299.1" y1="110.5" x2="306.1" y2="110.5" stroke="#007F00" stroke-width="1.6" stroke-linecap="butt"/>
<line x1="317.6" y1="123.2" x2="317.6" y2="123.8" stroke="#007F00" stroke-width="1.6" stroke-linecap="butt"/>
<line x1="314.1" y1="123.8" x2="321.1" y2="123.8" stroke="#007F00" stroke-width="1.6" stroke-linecap="butt"/>
<line x1="347.6" y1="142.7" x2="347.6" y2="143.6" stroke="#007F00" stroke-width="1.6" stroke-linecap="butt"/>
<line x1="344.1" y1="143.6" x2="351.1" y2="143.6" stroke="#007F00" stroke-width="1.6" stroke-linecap="butt"/>
<line x1="362.6" y1="149.1" x2="362.6" y2="149.7" stroke="#007F00" stroke-width="1.6" stroke-linecap="butt"/>
<line x1="359.1" y1="149.7" x2="366.1" y2="149.7" stroke="#007F00" stroke-width="1.6" stroke-linecap="butt"/>
<line x1="512.6" y1="219.9" x2="512.6" y2="221.5" stroke="#007F00" stroke-width="1.6" stroke-linecap="butt"/>
<line x1="509.1" y1="221.5" x2="516.1" y2="221.5" stroke="#007F00" stroke-width="1.6" stroke-linecap="butt"/>
<circle cx="227.6" cy="123.3" r="3.4" fill="none" stroke="#007F00" stroke-width="1.6"/>
<circle cx="242.6" cy="99.1" r="3.4" fill="none" stroke="#007F00" stroke-width="1.6"/>
<circle cx="257.6" cy="94.5" r="3.4" fill="none" stroke="#007F00" stroke-width="1.6"/>
<circle cx="272.6" cy="97.4" r="3.4" fill="none" stroke="#007F00" stroke-width="1.6"/>
<circle cx="287.6" cy="100" r="3.4" fill="none" stroke="#007F00" stroke-width="1.6"/>
<circle cx="302.6" cy="106.6" r="3.4" fill="none" stroke="#007F00" stroke-width="1.6"/>
<circle cx="317.6" cy="119.8" r="3.4" fill="none" stroke="#007F00" stroke-width="1.6"/>
<circle cx="332.6" cy="132.4" r="3.4" fill="none" stroke="#007F00" stroke-width="1.6"/>
<circle cx="347.6" cy="139.3" r="3.4" fill="none" stroke="#007F00" stroke-width="1.6"/>
<circle cx="362.6" cy="145.7" r="3.4" fill="none" stroke="#007F00" stroke-width="1.6"/>
<circle cx="377.6" cy="157.8" r="3.4" fill="none" stroke="#007F00" stroke-width="1.6"/>
<circle cx="392.6" cy="165.5" r="3.4" fill="none" stroke="#007F00" stroke-width="1.6"/>
<circle cx="407.6" cy="170.7" r="3.4" fill="none" stroke="#007F00" stroke-width="1.6"/>
<circle cx="422.6" cy="177.2" r="3.4" fill="none" stroke="#007F00" stroke-width="1.6"/>
<circle cx="437.6" cy="184.6" r="3.4" fill="none" stroke="#007F00" stroke-width="1.6"/>
<circle cx="452.6" cy="193.3" r="3.4" fill="none" stroke="#007F00" stroke-width="1.6"/>
<circle cx="467.6" cy="199.6" r="3.4" fill="none" stroke="#007F00" stroke-width="1.6"/>
<circle cx="482.6" cy="204.5" r="3.4" fill="none" stroke="#007F00" stroke-width="1.6"/>
<circle cx="497.6" cy="210.3" r="3.4" fill="none" stroke="#007F00" stroke-width="1.6"/>
<circle cx="512.6" cy="216.5" r="3.4" fill="none" stroke="#007F00" stroke-width="1.6"/>
<circle cx="527.6" cy="221.9" r="3.4" fill="none" stroke="#007F00" stroke-width="1.6"/>
<circle cx="542.6" cy="226.1" r="3.4" fill="none" stroke="#007F00" stroke-width="1.6"/>
<circle cx="557.6" cy="231.9" r="3.4" fill="none" stroke="#007F00" stroke-width="1.6"/>
<circle cx="572.6" cy="236.8" r="3.4" fill="none" stroke="#007F00" stroke-width="1.6"/>
<circle cx="587.6" cy="241.3" r="3.4" fill="none" stroke="#007F00" stroke-width="1.6"/>
<circle cx="602.6" cy="245.6" r="3.4" fill="none" stroke="#007F00" stroke-width="1.6"/>
<circle cx="617.6" cy="250.9" r="3.4" fill="none" stroke="#007F00" stroke-width="1.6"/>
<line x1="227.6" y1="140.6" x2="227.6" y2="131.2" stroke="#FF5500" stroke-width="1.6" stroke-linecap="butt"/>
<line x1="224.1" y1="131.2" x2="231.1" y2="131.2" stroke="#FF5500" stroke-width="1.6" stroke-linecap="butt"/>
<line x1="257.6" y1="78.2" x2="257.6" y2="76.5" stroke="#FF5500" stroke-width="1.6" stroke-linecap="butt"/>
<line x1="254.1" y1="76.5" x2="261.1" y2="76.5" stroke="#FF5500" stroke-width="1.6" stroke-linecap="butt"/>
<line x1="302.6" y1="90.2" x2="302.6" y2="88.8" stroke="#FF5500" stroke-width="1.6" stroke-linecap="butt"/>
<line x1="299.1" y1="88.8" x2="306.1" y2="88.8" stroke="#FF5500" stroke-width="1.6" stroke-linecap="butt"/>
<circle cx="227.6" cy="144" r="3.4" fill="none" stroke="#FF5500" stroke-width="1.6"/>
<circle cx="242.6" cy="91.6" r="3.4" fill="none" stroke="#FF5500" stroke-width="1.6"/>
<circle cx="257.6" cy="81.6" r="3.4" fill="none" stroke="#FF5500" stroke-width="1.6"/>
<circle cx="272.6" cy="77.8" r="3.4" fill="none" stroke="#FF5500" stroke-width="1.6"/>
<circle cx="287.6" cy="83.3" r="3.4" fill="none" stroke="#FF5500" stroke-width="1.6"/>
<circle cx="302.6" cy="93.6" r="3.4" fill="none" stroke="#FF5500" stroke-width="1.6"/>
<circle cx="317.6" cy="104.5" r="3.4" fill="none" stroke="#FF5500" stroke-width="1.6"/>
<circle cx="332.6" cy="117.8" r="3.4" fill="none" stroke="#FF5500" stroke-width="1.6"/>
<circle cx="347.6" cy="129.3" r="3.4" fill="none" stroke="#FF5500" stroke-width="1.6"/>
<circle cx="362.6" cy="139.3" r="3.4" fill="none" stroke="#FF5500" stroke-width="1.6"/>
<circle cx="377.6" cy="149.1" r="3.4" fill="none" stroke="#FF5500" stroke-width="1.6"/>
<circle cx="392.6" cy="160" r="3.4" fill="none" stroke="#FF5500" stroke-width="1.6"/>
<circle cx="407.6" cy="167.8" r="3.4" fill="none" stroke="#FF5500" stroke-width="1.6"/>
<circle cx="422.6" cy="171.2" r="3.4" fill="none" stroke="#FF5500" stroke-width="1.6"/>
<circle cx="437.6" cy="180.8" r="3.4" fill="none" stroke="#FF5500" stroke-width="1.6"/>
<circle cx="452.6" cy="192.5" r="3.4" fill="none" stroke="#FF5500" stroke-width="1.6"/>
<circle cx="467.6" cy="194.6" r="3.4" fill="none" stroke="#FF5500" stroke-width="1.6"/>
<circle cx="482.6" cy="201.6" r="3.4" fill="none" stroke="#FF5500" stroke-width="1.6"/>
<circle cx="497.6" cy="210.3" r="3.4" fill="none" stroke="#FF5500" stroke-width="1.6"/>
<circle cx="512.6" cy="217" r="3.4" fill="none" stroke="#FF5500" stroke-width="1.6"/>
<circle cx="527.6" cy="221.9" r="3.4" fill="none" stroke="#FF5500" stroke-width="1.6"/>
<circle cx="542.6" cy="229.4" r="3.4" fill="none" stroke="#FF5500" stroke-width="1.6"/>
<circle cx="557.6" cy="235.7" r="3.4" fill="none" stroke="#FF5500" stroke-width="1.6"/>
<circle cx="572.6" cy="239" r="3.4" fill="none" stroke="#FF5500" stroke-width="1.6"/>
<circle cx="587.6" cy="248.4" r="3.4" fill="none" stroke="#FF5500" stroke-width="1.6"/>
<circle cx="602.6" cy="253.4" r="3.4" fill="none" stroke="#FF5500" stroke-width="1.6"/>
<circle cx="617.6" cy="257.8" r="3.4" fill="none" stroke="#FF5500" stroke-width="1.6"/>
<circle cx="653.5" cy="124.4" r="3.3" fill="none" stroke="#FF5500" stroke-width="1.6"/>
<text x="692" y="131.9" font-size="22" text-anchor="start" fill="#000">500 &#181;g/ml</text>
<circle cx="653.5" cy="164.2" r="3.3" fill="none" stroke="#007F00" stroke-width="1.6"/>
<text x="692" y="171.7" font-size="22" text-anchor="start" fill="#000">250 &#181;g/ml</text>
<circle cx="653.5" cy="203.9" r="3.3" fill="none" stroke="#0000C0" stroke-width="1.6"/>
<text x="692" y="211.4" font-size="22" text-anchor="start" fill="#000">100 &#181;g/ml</text>
<circle cx="653.5" cy="243.7" r="3.3" fill="none" stroke="#00B36B" stroke-width="1.6"/>
<text x="692" y="251.2" font-size="22" text-anchor="start" fill="#000">50 mg/ml</text>
<circle cx="653.5" cy="283.5" r="3.3" fill="none" stroke="#FF33DD" stroke-width="1.6"/>
<text x="692" y="291" font-size="22" text-anchor="start" fill="#000">10 &#181;g/ml</text>
<circle cx="653.5" cy="323.2" r="3.3" fill="none" stroke="#999999" stroke-width="1.6"/>
<text x="692" y="330.8" font-size="22" text-anchor="start" fill="#000">1 &#181;g/ml</text>
<circle cx="653.5" cy="363" r="3.3" fill="none" stroke="#000000" stroke-width="1.6"/>
<text x="692" y="370.5" font-size="22" text-anchor="start" fill="#000">control</text>
<line x1="981.3" y1="99.8" x2="981.3" y2="391" stroke="#000" stroke-width="2.2" stroke-linecap="butt"/>
<line x1="969.3" y1="379" x2="1404.4" y2="379" stroke="#000" stroke-width="2.2" stroke-linecap="butt"/>
<line x1="969.3" y1="379" x2="981.3" y2="379" stroke="#000" stroke-width="2.2" stroke-linecap="butt"/>
<text x="964.5" y="385.5" font-size="17.5" font-weight="bold" text-anchor="end" textLength="11.4" lengthAdjust="spacingAndGlyphs" fill="#000">0</text>
<line x1="974.7" y1="351.1" x2="981.3" y2="351.1" stroke="#000" stroke-width="2.2" stroke-linecap="butt"/>
<line x1="969.3" y1="323.1" x2="981.3" y2="323.1" stroke="#000" stroke-width="2.2" stroke-linecap="butt"/>
<text x="964.5" y="329.6" font-size="17.5" font-weight="bold" text-anchor="end" textLength="34.1" lengthAdjust="spacingAndGlyphs" fill="#000">500</text>
<line x1="974.7" y1="295.2" x2="981.3" y2="295.2" stroke="#000" stroke-width="2.2" stroke-linecap="butt"/>
<line x1="969.3" y1="267.3" x2="981.3" y2="267.3" stroke="#000" stroke-width="2.2" stroke-linecap="butt"/>
<text x="964.5" y="273.8" font-size="17.5" font-weight="bold" text-anchor="end" textLength="45.5" lengthAdjust="spacingAndGlyphs" fill="#000">1000</text>
<line x1="974.7" y1="239.4" x2="981.3" y2="239.4" stroke="#000" stroke-width="2.2" stroke-linecap="butt"/>
<line x1="969.3" y1="211.5" x2="981.3" y2="211.5" stroke="#000" stroke-width="2.2" stroke-linecap="butt"/>
<text x="964.5" y="218" font-size="17.5" font-weight="bold" text-anchor="end" textLength="45.5" lengthAdjust="spacingAndGlyphs" fill="#000">1500</text>
<line x1="974.7" y1="183.5" x2="981.3" y2="183.5" stroke="#000" stroke-width="2.2" stroke-linecap="butt"/>
<line x1="969.3" y1="155.6" x2="981.3" y2="155.6" stroke="#000" stroke-width="2.2" stroke-linecap="butt"/>
<text x="964.5" y="162.1" font-size="17.5" font-weight="bold" text-anchor="end" textLength="45.5" lengthAdjust="spacingAndGlyphs" fill="#000">2000</text>
<line x1="974.7" y1="127.7" x2="981.3" y2="127.7" stroke="#000" stroke-width="2.2" stroke-linecap="butt"/>
<line x1="969.3" y1="99.8" x2="981.3" y2="99.8" stroke="#000" stroke-width="2.2" stroke-linecap="butt"/>
<text x="964.5" y="106.2" font-size="17.5" font-weight="bold" text-anchor="end" textLength="45.5" lengthAdjust="spacingAndGlyphs" fill="#000">2500</text>
<line x1="981.3" y1="379" x2="981.3" y2="391" stroke="#000" stroke-width="2.2" stroke-linecap="butt"/>
<text x="981.3" y="415.5" font-size="17.5" font-weight="bold" text-anchor="middle" textLength="17" lengthAdjust="spacingAndGlyphs" fill="#000">-6</text>
<line x1="1051.6" y1="379" x2="1051.6" y2="385.6" stroke="#000" stroke-width="2.2" stroke-linecap="butt"/>
<line x1="1122" y1="379" x2="1122" y2="391" stroke="#000" stroke-width="2.2" stroke-linecap="butt"/>
<text x="1122" y="415.5" font-size="17.5" font-weight="bold" text-anchor="middle" textLength="17" lengthAdjust="spacingAndGlyphs" fill="#000">-5</text>
<line x1="1192.3" y1="379" x2="1192.3" y2="385.6" stroke="#000" stroke-width="2.2" stroke-linecap="butt"/>
<line x1="1262.7" y1="379" x2="1262.7" y2="391" stroke="#000" stroke-width="2.2" stroke-linecap="butt"/>
<text x="1262.7" y="415.5" font-size="17.5" font-weight="bold" text-anchor="middle" textLength="17" lengthAdjust="spacingAndGlyphs" fill="#000">-4</text>
<line x1="1333" y1="379" x2="1333" y2="385.6" stroke="#000" stroke-width="2.2" stroke-linecap="butt"/>
<line x1="1403.4" y1="379" x2="1403.4" y2="391" stroke="#000" stroke-width="2.2" stroke-linecap="butt"/>
<text x="1403.4" y="415.5" font-size="17.5" font-weight="bold" text-anchor="middle" textLength="17" lengthAdjust="spacingAndGlyphs" fill="#000">-3</text>
<text x="1192.5" y="449.7" font-size="22" font-weight="bold" text-anchor="middle" textLength="196.6" lengthAdjust="spacingAndGlyphs" fill="#000">log [Ze 911] (g/ml)</text>
<text transform="translate(881,239.1) rotate(-90)" font-size="18" font-weight="bold" text-anchor="middle" textLength="220.5" lengthAdjust="spacingAndGlyphs" fill="#000">&#946;-arrestin 2 recruitment</text>
<text transform="translate(906,238.5) rotate(-90)" font-size="18.5" font-weight="bold" text-anchor="middle" textLength="52" lengthAdjust="spacingAndGlyphs" fill="#000">(AUC)</text>
<text x="1032.6" y="207.1" font-size="17.8" text-anchor="start" textLength="26.2" lengthAdjust="spacingAndGlyphs" fill="#000">EC</text>
<text x="1058.6" y="211.2" font-size="15.4" text-anchor="start" textLength="17.3" lengthAdjust="spacingAndGlyphs" fill="#000">50</text>
<text x="1080.5" y="207.1" font-size="17.8" text-anchor="start" textLength="134" lengthAdjust="spacingAndGlyphs" fill="#000">= 66 &#177; 14 &#181;g/ml</text>
<polyline points="981.3,375.1 982.7,375 984.1,374.9 985.5,374.8 986.9,374.7 988.3,374.6 989.7,374.5 991.1,374.4 992.6,374.3 994,374.2 995.4,374.1 996.8,374 998.2,373.9 999.6,373.7 1001,373.6 1002.4,373.5 1003.8,373.4 1005.2,373.2 1006.6,373.1 1008,373 1009.4,372.8 1010.8,372.7 1012.3,372.6 1013.7,372.4 1015.1,372.3 1016.5,372.1 1017.9,371.9 1019.3,371.8 1020.7,371.6 1022.1,371.5 1023.5,371.3 1024.9,371.1 1026.3,370.9 1027.7,370.8 1029.1,370.6 1030.5,370.4 1032,370.2 1033.4,370 1034.8,369.8 1036.2,369.6 1037.6,369.4 1039,369.1 1040.4,368.9 1041.8,368.7 1043.2,368.5 1044.6,368.2 1046,368 1047.4,367.7 1048.8,367.5 1050.2,367.2 1051.6,367 1053.1,366.7 1054.5,366.4 1055.9,366.2 1057.3,365.9 1058.7,365.6 1060.1,365.3 1061.5,365 1062.9,364.7 1064.3,364.4 1065.7,364 1067.1,363.7 1068.5,363.4 1069.9,363 1071.3,362.7 1072.8,362.3 1074.2,362 1075.6,361.6 1077,361.2 1078.4,360.8 1079.8,360.4 1081.2,360 1082.6,359.6 1084,359.2 1085.4,358.8 1086.8,358.4 1088.2,357.9 1089.6,357.5 1091,357 1092.5,356.5 1093.9,356.1 1095.3,355.6 1096.7,355.1 1098.1,354.6 1099.5,354.1 1100.9,353.5 1102.3,353 1103.7,352.5 1105.1,351.9 1106.5,351.3 1107.9,350.8 1109.3,350.2 1110.7,349.6 1112.2,349 1113.6,348.3 1115,347.7 1116.4,347.1 1117.8,346.4 1119.2,345.8 1120.6,345.1 1122,344.4 1123.4,343.7 1124.8,343 1126.2,342.3 1127.6,341.5 1129,340.8 1130.4,340 1131.8,339.3 1133.3,338.5 1134.7,337.7 1136.1,336.9 1137.5,336.1 1138.9,335.2 1140.3,334.4 1141.7,333.5 1143.1,332.6 1144.5,331.8 1145.9,330.9 1147.3,329.9 1148.7,329 1150.1,328.1 1151.5,327.1 1153,326.2 1154.4,325.2 1155.8,324.2 1157.2,323.2 1158.6,322.2 1160,321.1 1161.4,320.1 1162.8,319 1164.2,318 1165.6,316.9 1167,315.8 1168.4,314.7 1169.8,313.5 1171.2,312.4 1172.7,311.2 1174.1,310.1 1175.5,308.9 1176.9,307.7 1178.3,306.5 1179.7,305.3 1181.1,304.1 1182.5,302.8 1183.9,301.6 1185.3,300.3 1186.7,299 1188.1,297.7 1189.5,296.4 1190.9,295.1 1192.3,293.8 1193.8,292.5 1195.2,291.1 1196.6,289.8 1198,288.4 1199.4,287.1 1200.8,285.7 1202.2,284.3 1203.6,282.9 1205,281.5 1206.4,280.1 1207.8,278.6 1209.2,277.2 1210.6,275.8 1212,274.3 1213.5,272.8 1214.9,271.4 1216.3,269.9 1217.7,268.4 1219.1,267 1220.5,265.5 1221.9,264 1223.3,262.5 1224.7,261 1226.1,259.5 1227.5,258 1228.9,256.5 1230.3,255 1231.7,253.5 1233.2,252 1234.6,250.4 1236,248.9 1237.4,247.4 1238.8,245.9 1240.2,244.4 1241.6,242.9 1243,241.4 1244.4,239.9 1245.8,238.3 1247.2,236.8 1248.6,235.3 1250,233.8 1251.4,232.3 1252.9,230.8 1254.3,229.4 1255.7,227.9 1257.1,226.4 1258.5,224.9 1259.9,223.4 1261.3,222 1262.7,220.5 1264.1,219.1 1265.5,217.6 1266.9,216.2 1268.3,214.8 1269.7,213.4 1271.1,212 1272.5,210.6 1274,209.2 1275.4,207.8 1276.8,206.4 1278.2,205 1279.6,203.7 1281,202.4 1282.4,201 1283.8,199.7 1285.2,198.4 1286.6,197.1 1288,195.8 1289.4,194.5 1290.8,193.3 1292.2,192 1293.7,190.8 1295.1,189.5 1296.5,188.3 1297.9,187.1 1299.3,185.9 1300.7,184.8 1302.1,183.6 1303.5,182.4 1304.9,181.3 1306.3,180.2 1307.7,179.1 1309.1,178 1310.5,176.9 1311.9,175.8 1313.4,174.7 1314.8,173.7 1316.2,172.7 1317.6,171.6 1319,170.6 1320.4,169.6 1321.8,168.7 1323.2,167.7 1324.6,166.8 1326,165.8 1327.4,164.9 1328.8,164 1330.2,163.1 1331.6,162.2 1333,161.3 1334.5,160.5 1335.9,159.6 1337.3,158.8 1338.7,158 1340.1,157.1 1341.5,156.4 1342.9,155.6 1344.3,154.8 1345.7,154 1347.1,153.3 1348.5,152.6 1349.9,151.8 1351.3,151.1 1352.7,150.4 1354.2,149.7 1355.6,149.1 1357,148.4 1358.4,147.8 1359.8,147.1 1361.2,146.5 1362.6,145.9 1364,145.3 1365.4,144.7 1366.8,144.1 1368.2,143.5 1369.6,142.9 1371,142.4 1372.4,141.8 1373.9,141.3 1375.3,140.8 1376.7,140.3 1378.1,139.8 1379.5,139.3 1380.9,138.8 1382.3,138.3 1383.7,137.8 1385.1,137.4 1386.5,136.9 1387.9,136.5 1389.3,136 1390.7,135.6 1392.1,135.2 1393.6,134.8 1395,134.4 1396.4,134 1397.8,133.6 1399.2,133.2 1400.6,132.9 1402,132.5 1403.4,132.1" fill="none" stroke="#000" stroke-width="1.6"/>
<circle cx="981.3" cy="375.6" r="6" fill="#000" stroke="#000" stroke-width="0"/>
<line x1="1122" y1="346" x2="1122" y2="370.8" stroke="#000" stroke-width="1.5" stroke-linecap="butt"/>
<line x1="1116.3" y1="346" x2="1127.7" y2="346" stroke="#000" stroke-width="1.5" stroke-linecap="butt"/>
<line x1="1116.3" y1="370.8" x2="1127.7" y2="370.8" stroke="#000" stroke-width="1.5" stroke-linecap="butt"/>
<circle cx="1122" cy="358.5" r="6" fill="#000" stroke="#000" stroke-width="0"/>
<line x1="1220.5" y1="251.2" x2="1220.5" y2="298.4" stroke="#000" stroke-width="1.5" stroke-linecap="butt"/>
<line x1="1214.8" y1="251.2" x2="1226.2" y2="251.2" stroke="#000" stroke-width="1.5" stroke-linecap="butt"/>
<line x1="1214.8" y1="298.4" x2="1226.2" y2="298.4" stroke="#000" stroke-width="1.5" stroke-linecap="butt"/>
<circle cx="1220.5" cy="274.8" r="6" fill="#000" stroke="#000" stroke-width="0"/>
<line x1="1262.7" y1="219" x2="1262.7" y2="244.6" stroke="#000" stroke-width="1.5" stroke-linecap="butt"/>
<line x1="1257" y1="219" x2="1268.4" y2="219" stroke="#000" stroke-width="1.5" stroke-linecap="butt"/>
<line x1="1257" y1="244.6" x2="1268.4" y2="244.6" stroke="#000" stroke-width="1.5" stroke-linecap="butt"/>
<circle cx="1262.7" cy="232.2" r="6" fill="#000" stroke="#000" stroke-width="0"/>
<line x1="1319" y1="127.9" x2="1319" y2="161.9" stroke="#000" stroke-width="1.5" stroke-linecap="butt"/>
<line x1="1313.3" y1="127.9" x2="1324.7" y2="127.9" stroke="#000" stroke-width="1.5" stroke-linecap="butt"/>
<line x1="1313.3" y1="161.9" x2="1324.7" y2="161.9" stroke="#000" stroke-width="1.5" stroke-linecap="butt"/>
<circle cx="1319" cy="144.5" r="6" fill="#000" stroke="#000" stroke-width="0"/>
<line x1="1361.2" y1="120.5" x2="1361.2" y2="159" stroke="#000" stroke-width="1.5" stroke-linecap="butt"/>
<line x1="1355.5" y1="120.5" x2="1366.9" y2="120.5" stroke="#000" stroke-width="1.5" stroke-linecap="butt"/>
<line x1="1355.5" y1="159" x2="1366.9" y2="159" stroke="#000" stroke-width="1.5" stroke-linecap="butt"/>
<circle cx="1361.2" cy="139.5" r="6" fill="#000" stroke="#000" stroke-width="0"/>
<line x1="1403.4" y1="131.2" x2="1403.4" y2="174.3" stroke="#000" stroke-width="1.5" stroke-linecap="butt"/>
<line x1="1397.7" y1="131.2" x2="1409.1" y2="131.2" stroke="#000" stroke-width="1.5" stroke-linecap="butt"/>
<line x1="1397.7" y1="174.3" x2="1409.1" y2="174.3" stroke="#000" stroke-width="1.5" stroke-linecap="butt"/>
<circle cx="1403.4" cy="152.8" r="6" fill="#000" stroke="#000" stroke-width="0"/>
<text x="0" y="593.5" font-size="42.5" font-weight="bold" text-anchor="start" fill="#000">B</text>
<line x1="143.1" y1="659.8" x2="143.1" y2="1025.8" stroke="#000" stroke-width="3" stroke-linecap="butt"/>
<line x1="132.8" y1="1014.9" x2="678.9" y2="1014.9" stroke="#000" stroke-width="3" stroke-linecap="butt"/>
<line x1="132.8" y1="1014.9" x2="143.1" y2="1014.9" stroke="#000" stroke-width="3" stroke-linecap="butt"/>
<text x="128.8" y="1025.3" font-size="24.9" font-weight="bold" text-anchor="end" textLength="13.8" lengthAdjust="spacingAndGlyphs" fill="#000">0</text>
<line x1="132.8" y1="943.9" x2="143.1" y2="943.9" stroke="#000" stroke-width="3" stroke-linecap="butt"/>
<text x="128.8" y="954.3" font-size="24.9" font-weight="bold" text-anchor="end" textLength="55" lengthAdjust="spacingAndGlyphs" fill="#000">5000</text>
<line x1="132.8" y1="872.9" x2="143.1" y2="872.9" stroke="#000" stroke-width="3" stroke-linecap="butt"/>
<text x="128.8" y="883.3" font-size="24.9" font-weight="bold" text-anchor="end" textLength="68.8" lengthAdjust="spacingAndGlyphs" fill="#000">10000</text>
<line x1="132.8" y1="801.8" x2="143.1" y2="801.8" stroke="#000" stroke-width="3" stroke-linecap="butt"/>
<text x="128.8" y="812.2" font-size="24.9" font-weight="bold" text-anchor="end" textLength="68.8" lengthAdjust="spacingAndGlyphs" fill="#000">15000</text>
<line x1="132.8" y1="730.8" x2="143.1" y2="730.8" stroke="#000" stroke-width="3" stroke-linecap="butt"/>
<text x="128.8" y="741.2" font-size="24.9" font-weight="bold" text-anchor="end" textLength="68.8" lengthAdjust="spacingAndGlyphs" fill="#000">20000</text>
<line x1="132.8" y1="659.8" x2="143.1" y2="659.8" stroke="#000" stroke-width="3" stroke-linecap="butt"/>
<text x="128.8" y="670.2" font-size="24.9" font-weight="bold" text-anchor="end" textLength="68.8" lengthAdjust="spacingAndGlyphs" fill="#000">25000</text>
<line x1="143.1" y1="1014.9" x2="143.1" y2="1025.8" stroke="#000" stroke-width="3" stroke-linecap="butt"/>
<text x="143.1" y="1053.6" font-size="23" font-weight="bold" text-anchor="middle" fill="#000">0</text>
<line x1="276.7" y1="1014.9" x2="276.7" y2="1025.8" stroke="#000" stroke-width="3" stroke-linecap="butt"/>
<text x="276.7" y="1053.6" font-size="23" font-weight="bold" text-anchor="middle" fill="#000">1000</text>
<line x1="410.3" y1="1014.9" x2="410.3" y2="1025.8" stroke="#000" stroke-width="3" stroke-linecap="butt"/>
<text x="410.3" y="1053.6" font-size="23" font-weight="bold" text-anchor="middle" fill="#000">2000</text>
<line x1="543.8" y1="1014.9" x2="543.8" y2="1025.8" stroke="#000" stroke-width="3" stroke-linecap="butt"/>
<text x="543.8" y="1053.6" font-size="23" font-weight="bold" text-anchor="middle" fill="#000">3000</text>
<line x1="677.4" y1="1014.9" x2="677.4" y2="1025.8" stroke="#000" stroke-width="3" stroke-linecap="butt"/>
<text x="677.4" y="1053.6" font-size="23" font-weight="bold" text-anchor="middle" fill="#000">4000</text>
<text x="410" y="1096.9" font-size="24" font-weight="bold" text-anchor="middle" textLength="85.5" lengthAdjust="spacingAndGlyphs" fill="#000">time (s)</text>
<text transform="translate(21,839) rotate(-90)" font-size="24" font-weight="bold" text-anchor="middle" textLength="225" lengthAdjust="spacingAndGlyphs" fill="#000">cAMP accumulation</text>
<text transform="translate(50.5,839) rotate(-90)" font-size="25" font-weight="bold" text-anchor="middle" textLength="67.7" lengthAdjust="spacingAndGlyphs" fill="#000">(RLU)</text>
<circle cx="143.1" cy="995.7" r="3.7" fill="none" stroke="#FF8A28" stroke-width="1.7"/>
<circle cx="159.1" cy="943.2" r="3.7" fill="none" stroke="#FF8A28" stroke-width="1.7"/>
<circle cx="175.2" cy="933.5" r="3.7" fill="none" stroke="#FF8A28" stroke-width="1.7"/>
<circle cx="191.2" cy="948.7" r="3.7" fill="none" stroke="#FF8A28" stroke-width="1.7"/>
<circle cx="207.2" cy="963.4" r="3.7" fill="none" stroke="#FF8A28" stroke-width="1.7"/>
<circle cx="223.2" cy="973.2" r="3.7" fill="none" stroke="#FF8A28" stroke-width="1.7"/>
<circle cx="239.3" cy="980.1" r="3.7" fill="none" stroke="#FF8A28" stroke-width="1.7"/>
<circle cx="255.3" cy="984.6" r="3.7" fill="none" stroke="#FF8A28" stroke-width="1.7"/>
<circle cx="271.3" cy="987.7" r="3.7" fill="none" stroke="#FF8A28" stroke-width="1.7"/>
<circle cx="287.4" cy="990.7" r="3.7" fill="none" stroke="#FF8A28" stroke-width="1.7"/>
<circle cx="303.4" cy="992.2" r="3.7" fill="none" stroke="#FF8A28" stroke-width="1.7"/>
<circle cx="319.4" cy="994.5" r="3.7" fill="none" stroke="#FF8A28" stroke-width="1.7"/>
<circle cx="335.5" cy="996.8" r="3.7" fill="none" stroke="#FF8A28" stroke-width="1.7"/>
<circle cx="351.5" cy="997.6" r="3.7" fill="none" stroke="#FF8A28" stroke-width="1.7"/>
<circle cx="367.5" cy="999.2" r="3.7" fill="none" stroke="#FF8A28" stroke-width="1.7"/>
<circle cx="383.5" cy="1000.5" r="3.7" fill="none" stroke="#FF8A28" stroke-width="1.7"/>
<circle cx="399.6" cy="1001.1" r="3.7" fill="none" stroke="#FF8A28" stroke-width="1.7"/>
<circle cx="415.6" cy="1002.3" r="3.7" fill="none" stroke="#FF8A28" stroke-width="1.7"/>
<circle cx="431.6" cy="1003.6" r="3.7" fill="none" stroke="#FF8A28" stroke-width="1.7"/>
<circle cx="447.7" cy="1004.2" r="3.7" fill="none" stroke="#FF8A28" stroke-width="1.7"/>
<circle cx="463.7" cy="1004.8" r="3.7" fill="none" stroke="#FF8A28" stroke-width="1.7"/>
<circle cx="479.7" cy="1005.8" r="3.7" fill="none" stroke="#FF8A28" stroke-width="1.7"/>
<circle cx="495.8" cy="1006.7" r="3.7" fill="none" stroke="#FF8A28" stroke-width="1.7"/>
<circle cx="511.8" cy="1006.4" r="3.7" fill="none" stroke="#FF8A28" stroke-width="1.7"/>
<circle cx="527.8" cy="1007.8" r="3.7" fill="none" stroke="#FF8A28" stroke-width="1.7"/>
<circle cx="543.8" cy="1008.1" r="3.7" fill="none" stroke="#FF8A28" stroke-width="1.7"/>
<circle cx="559.9" cy="1008.6" r="3.7" fill="none" stroke="#FF8A28" stroke-width="1.7"/>
<circle cx="575.9" cy="1009.3" r="3.7" fill="none" stroke="#FF8A28" stroke-width="1.7"/>
<circle cx="591.9" cy="1010" r="3.7" fill="none" stroke="#FF8A28" stroke-width="1.7"/>
<circle cx="608" cy="1010" r="3.7" fill="none" stroke="#FF8A28" stroke-width="1.7"/>
<line x1="159.1" y1="922.1" x2="159.1" y2="915.6" stroke="#0000F5" stroke-width="1.7" stroke-linecap="butt"/>
<line x1="155.7" y1="915.6" x2="162.5" y2="915.6" stroke="#0000F5" stroke-width="1.7" stroke-linecap="butt"/>
<line x1="175.2" y1="910.4" x2="175.2" y2="906.5" stroke="#0000F5" stroke-width="1.7" stroke-linecap="butt"/>
<line x1="171.8" y1="906.5" x2="178.6" y2="906.5" stroke="#0000F5" stroke-width="1.7" stroke-linecap="butt"/>
<line x1="191.2" y1="930.1" x2="191.2" y2="927.7" stroke="#0000F5" stroke-width="1.7" stroke-linecap="butt"/>
<line x1="187.8" y1="927.7" x2="194.6" y2="927.7" stroke="#0000F5" stroke-width="1.7" stroke-linecap="butt"/>
<line x1="203.8" y1="950" x2="210.6" y2="950" stroke="#0000F5" stroke-width="1.7" stroke-linecap="butt"/>
<circle cx="143.1" cy="991.2" r="3.7" fill="none" stroke="#0000F5" stroke-width="1.7"/>
<circle cx="159.1" cy="925.8" r="3.7" fill="none" stroke="#0000F5" stroke-width="1.7"/>
<circle cx="175.2" cy="914.1" r="3.7" fill="none" stroke="#0000F5" stroke-width="1.7"/>
<circle cx="191.2" cy="933.8" r="3.7" fill="none" stroke="#0000F5" stroke-width="1.7"/>
<circle cx="207.2" cy="953.5" r="3.7" fill="none" stroke="#0000F5" stroke-width="1.7"/>
<circle cx="223.2" cy="965.2" r="3.7" fill="none" stroke="#0000F5" stroke-width="1.7"/>
<circle cx="239.3" cy="974.5" r="3.7" fill="none" stroke="#0000F5" stroke-width="1.7"/>
<circle cx="255.3" cy="980.1" r="3.7" fill="none" stroke="#0000F5" stroke-width="1.7"/>
<circle cx="271.3" cy="984.6" r="3.7" fill="none" stroke="#0000F5" stroke-width="1.7"/>
<circle cx="287.4" cy="988.1" r="3.7" fill="none" stroke="#0000F5" stroke-width="1.7"/>
<circle cx="303.4" cy="991.9" r="3.7" fill="none" stroke="#0000F5" stroke-width="1.7"/>
<circle cx="319.4" cy="993.4" r="3.7" fill="none" stroke="#0000F5" stroke-width="1.7"/>
<circle cx="335.5" cy="995.3" r="3.7" fill="none" stroke="#0000F5" stroke-width="1.7"/>
<circle cx="351.5" cy="995.8" r="3.7" fill="none" stroke="#0000F5" stroke-width="1.7"/>
<circle cx="367.5" cy="997.4" r="3.7" fill="none" stroke="#0000F5" stroke-width="1.7"/>
<circle cx="383.5" cy="998.7" r="3.7" fill="none" stroke="#0000F5" stroke-width="1.7"/>
<circle cx="399.6" cy="999.3" r="3.7" fill="none" stroke="#0000F5" stroke-width="1.7"/>
<circle cx="415.6" cy="1000.5" r="3.7" fill="none" stroke="#0000F5" stroke-width="1.7"/>
<circle cx="431.6" cy="1001.8" r="3.7" fill="none" stroke="#0000F5" stroke-width="1.7"/>
<circle cx="447.7" cy="1002.4" r="3.7" fill="none" stroke="#0000F5" stroke-width="1.7"/>
<circle cx="463.7" cy="1003" r="3.7" fill="none" stroke="#0000F5" stroke-width="1.7"/>
<circle cx="479.7" cy="1004" r="3.7" fill="none" stroke="#0000F5" stroke-width="1.7"/>
<circle cx="495.8" cy="1004.9" r="3.7" fill="none" stroke="#0000F5" stroke-width="1.7"/>
<circle cx="511.8" cy="1004.6" r="3.7" fill="none" stroke="#0000F5" stroke-width="1.7"/>
<circle cx="527.8" cy="1006" r="3.7" fill="none" stroke="#0000F5" stroke-width="1.7"/>
<circle cx="543.8" cy="1006.3" r="3.7" fill="none" stroke="#0000F5" stroke-width="1.7"/>
<circle cx="559.9" cy="1006.8" r="3.7" fill="none" stroke="#0000F5" stroke-width="1.7"/>
<circle cx="575.9" cy="1007.5" r="3.7" fill="none" stroke="#0000F5" stroke-width="1.7"/>
<circle cx="591.9" cy="1008.2" r="3.7" fill="none" stroke="#0000F5" stroke-width="1.7"/>
<circle cx="608" cy="1008.2" r="3.7" fill="none" stroke="#0000F5" stroke-width="1.7"/>
<line x1="159.1" y1="901.3" x2="159.1" y2="896.6" stroke="#FF2E2E" stroke-width="1.7" stroke-linecap="butt"/>
<line x1="155.7" y1="896.6" x2="162.5" y2="896.6" stroke="#FF2E2E" stroke-width="1.7" stroke-linecap="butt"/>
<line x1="175.2" y1="882.3" x2="175.2" y2="874.7" stroke="#FF2E2E" stroke-width="1.7" stroke-linecap="butt"/>
<line x1="171.8" y1="874.7" x2="178.6" y2="874.7" stroke="#FF2E2E" stroke-width="1.7" stroke-linecap="butt"/>
<line x1="191.2" y1="906.6" x2="191.2" y2="904.2" stroke="#FF2E2E" stroke-width="1.7" stroke-linecap="butt"/>
<line x1="187.8" y1="904.2" x2="194.6" y2="904.2" stroke="#FF2E2E" stroke-width="1.7" stroke-linecap="butt"/>
<line x1="207.2" y1="931.6" x2="207.2" y2="929.5" stroke="#FF2E2E" stroke-width="1.7" stroke-linecap="butt"/>
<line x1="203.8" y1="929.5" x2="210.6" y2="929.5" stroke="#FF2E2E" stroke-width="1.7" stroke-linecap="butt"/>
<line x1="223.2" y1="948.3" x2="223.2" y2="947.1" stroke="#FF2E2E" stroke-width="1.7" stroke-linecap="butt"/>
<line x1="219.8" y1="947.1" x2="226.6" y2="947.1" stroke="#FF2E2E" stroke-width="1.7" stroke-linecap="butt"/>
<circle cx="143.1" cy="986.2" r="3.7" fill="none" stroke="#FF2E2E" stroke-width="1.7"/>
<circle cx="159.1" cy="905" r="3.7" fill="none" stroke="#FF2E2E" stroke-width="1.7"/>
<circle cx="175.2" cy="886" r="3.7" fill="none" stroke="#FF2E2E" stroke-width="1.7"/>
<circle cx="191.2" cy="910.3" r="3.7" fill="none" stroke="#FF2E2E" stroke-width="1.7"/>
<circle cx="207.2" cy="935.3" r="3.7" fill="none" stroke="#FF2E2E" stroke-width="1.7"/>
<circle cx="223.2" cy="952" r="3.7" fill="none" stroke="#FF2E2E" stroke-width="1.7"/>
<circle cx="239.3" cy="963.4" r="3.7" fill="none" stroke="#FF2E2E" stroke-width="1.7"/>
<circle cx="255.3" cy="969" r="3.7" fill="none" stroke="#FF2E2E" stroke-width="1.7"/>
<circle cx="271.3" cy="972.5" r="3.7" fill="none" stroke="#FF2E2E" stroke-width="1.7"/>
<circle cx="287.4" cy="974" r="3.7" fill="none" stroke="#FF2E2E" stroke-width="1.7"/>
<circle cx="303.4" cy="975.5" r="3.7" fill="none" stroke="#FF2E2E" stroke-width="1.7"/>
<circle cx="319.4" cy="977.4" r="3.7" fill="none" stroke="#FF2E2E" stroke-width="1.7"/>
<circle cx="335.5" cy="978.5" r="3.7" fill="none" stroke="#FF2E2E" stroke-width="1.7"/>
<circle cx="351.5" cy="979.4" r="3.7" fill="none" stroke="#FF2E2E" stroke-width="1.7"/>
<circle cx="367.5" cy="980.7" r="3.7" fill="none" stroke="#FF2E2E" stroke-width="1.7"/>
<circle cx="383.5" cy="981.3" r="3.7" fill="none" stroke="#FF2E2E" stroke-width="1.7"/>
<circle cx="399.6" cy="983.2" r="3.7" fill="none" stroke="#FF2E2E" stroke-width="1.7"/>
<circle cx="415.6" cy="984.4" r="3.7" fill="none" stroke="#FF2E2E" stroke-width="1.7"/>
<circle cx="431.6" cy="985.6" r="3.7" fill="none" stroke="#FF2E2E" stroke-width="1.7"/>
<circle cx="447.7" cy="986.9" r="3.7" fill="none" stroke="#FF2E2E" stroke-width="1.7"/>
<circle cx="463.7" cy="988.8" r="3.7" fill="none" stroke="#FF2E2E" stroke-width="1.7"/>
<circle cx="479.7" cy="990.6" r="3.7" fill="none" stroke="#FF2E2E" stroke-width="1.7"/>
<circle cx="495.8" cy="991.5" r="3.7" fill="none" stroke="#FF2E2E" stroke-width="1.7"/>
<circle cx="511.8" cy="992.5" r="3.7" fill="none" stroke="#FF2E2E" stroke-width="1.7"/>
<circle cx="527.8" cy="994" r="3.7" fill="none" stroke="#FF2E2E" stroke-width="1.7"/>
<circle cx="543.8" cy="995" r="3.7" fill="none" stroke="#FF2E2E" stroke-width="1.7"/>
<circle cx="559.9" cy="996" r="3.7" fill="none" stroke="#FF2E2E" stroke-width="1.7"/>
<circle cx="575.9" cy="997" r="3.7" fill="none" stroke="#FF2E2E" stroke-width="1.7"/>
<circle cx="591.9" cy="998" r="3.7" fill="none" stroke="#FF2E2E" stroke-width="1.7"/>
<circle cx="608" cy="999" r="3.7" fill="none" stroke="#FF2E2E" stroke-width="1.7"/>
<line x1="159.1" y1="893" x2="159.1" y2="885.5" stroke="#009557" stroke-width="1.7" stroke-linecap="butt"/>
<line x1="155.7" y1="885.5" x2="162.5" y2="885.5" stroke="#009557" stroke-width="1.7" stroke-linecap="butt"/>
<line x1="175.2" y1="851.5" x2="175.2" y2="848.2" stroke="#009557" stroke-width="1.7" stroke-linecap="butt"/>
<line x1="171.8" y1="848.2" x2="178.6" y2="848.2" stroke="#009557" stroke-width="1.7" stroke-linecap="butt"/>
<line x1="191.2" y1="867.5" x2="191.2" y2="865" stroke="#009557" stroke-width="1.7" stroke-linecap="butt"/>
<line x1="187.8" y1="865" x2="194.6" y2="865" stroke="#009557" stroke-width="1.7" stroke-linecap="butt"/>
<line x1="203.8" y1="897.5" x2="210.6" y2="897.5" stroke="#009557" stroke-width="1.7" stroke-linecap="butt"/>
<line x1="219.8" y1="925" x2="226.6" y2="925" stroke="#009557" stroke-width="1.7" stroke-linecap="butt"/>
<line x1="251.9" y1="953" x2="258.7" y2="953" stroke="#009557" stroke-width="1.7" stroke-linecap="butt"/>
<line x1="267.9" y1="958.5" x2="274.7" y2="958.5" stroke="#009557" stroke-width="1.7" stroke-linecap="butt"/>
<line x1="284" y1="962" x2="290.8" y2="962" stroke="#009557" stroke-width="1.7" stroke-linecap="butt"/>
<line x1="300" y1="964" x2="306.8" y2="964" stroke="#009557" stroke-width="1.7" stroke-linecap="butt"/>
<circle cx="143.1" cy="986.8" r="3.7" fill="none" stroke="#009557" stroke-width="1.7"/>
<circle cx="159.1" cy="896.7" r="3.7" fill="none" stroke="#009557" stroke-width="1.7"/>
<circle cx="175.2" cy="855.2" r="3.7" fill="none" stroke="#009557" stroke-width="1.7"/>
<circle cx="191.2" cy="871.2" r="3.7" fill="none" stroke="#009557" stroke-width="1.7"/>
<circle cx="207.2" cy="900.7" r="3.7" fill="none" stroke="#009557" stroke-width="1.7"/>
<circle cx="223.2" cy="928.9" r="3.7" fill="none" stroke="#009557" stroke-width="1.7"/>
<circle cx="239.3" cy="946.7" r="3.7" fill="none" stroke="#009557" stroke-width="1.7"/>
<circle cx="255.3" cy="956.1" r="3.7" fill="none" stroke="#009557" stroke-width="1.7"/>
<circle cx="271.3" cy="962.2" r="3.7" fill="none" stroke="#009557" stroke-width="1.7"/>
<circle cx="287.4" cy="965.2" r="3.7" fill="none" stroke="#009557" stroke-width="1.7"/>
<circle cx="303.4" cy="967.5" r="3.7" fill="none" stroke="#009557" stroke-width="1.7"/>
<circle cx="319.4" cy="970.3" r="3.7" fill="none" stroke="#009557" stroke-width="1.7"/>
<circle cx="335.5" cy="970.8" r="3.7" fill="none" stroke="#009557" stroke-width="1.7"/>
<circle cx="351.5" cy="972" r="3.7" fill="none" stroke="#009557" stroke-width="1.7"/>
<circle cx="367.5" cy="973.2" r="3.7" fill="none" stroke="#009557" stroke-width="1.7"/>
<circle cx="383.5" cy="974.5" r="3.7" fill="none" stroke="#009557" stroke-width="1.7"/>
<circle cx="399.6" cy="975.7" r="3.7" fill="none" stroke="#009557" stroke-width="1.7"/>
<circle cx="415.6" cy="978" r="3.7" fill="none" stroke="#009557" stroke-width="1.7"/>
<circle cx="431.6" cy="979.4" r="3.7" fill="none" stroke="#009557" stroke-width="1.7"/>
<circle cx="447.7" cy="980.7" r="3.7" fill="none" stroke="#009557" stroke-width="1.7"/>
<circle cx="463.7" cy="981.9" r="3.7" fill="none" stroke="#009557" stroke-width="1.7"/>
<circle cx="479.7" cy="982.5" r="3.7" fill="none" stroke="#009557" stroke-width="1.7"/>
<circle cx="495.8" cy="984.3" r="3.7" fill="none" stroke="#009557" stroke-width="1.7"/>
<circle cx="511.8" cy="985.8" r="3.7" fill="none" stroke="#009557" stroke-width="1.7"/>
<circle cx="527.8" cy="987.2" r="3.7" fill="none" stroke="#009557" stroke-width="1.7"/>
<circle cx="543.8" cy="987.9" r="3.7" fill="none" stroke="#009557" stroke-width="1.7"/>
<circle cx="559.9" cy="990.8" r="3.7" fill="none" stroke="#009557" stroke-width="1.7"/>
<circle cx="575.9" cy="992.3" r="3.7" fill="none" stroke="#009557" stroke-width="1.7"/>
<circle cx="591.9" cy="994.4" r="3.7" fill="none" stroke="#009557" stroke-width="1.7"/>
<circle cx="608" cy="995.5" r="3.7" fill="none" stroke="#009557" stroke-width="1.7"/>
<line x1="159.1" y1="858.9" x2="159.1" y2="850" stroke="#33EE9E" stroke-width="1.7" stroke-linecap="butt"/>
<line x1="155.7" y1="850" x2="162.5" y2="850" stroke="#33EE9E" stroke-width="1.7" stroke-linecap="butt"/>
<line x1="175.2" y1="786.8" x2="175.2" y2="780.5" stroke="#33EE9E" stroke-width="1.7" stroke-linecap="butt"/>
<line x1="171.8" y1="780.5" x2="178.6" y2="780.5" stroke="#33EE9E" stroke-width="1.7" stroke-linecap="butt"/>
<line x1="191.2" y1="788.9" x2="191.2" y2="787.9" stroke="#33EE9E" stroke-width="1.7" stroke-linecap="butt"/>
<line x1="187.8" y1="787.9" x2="194.6" y2="787.9" stroke="#33EE9E" stroke-width="1.7" stroke-linecap="butt"/>
<line x1="219.8" y1="876" x2="226.6" y2="876" stroke="#33EE9E" stroke-width="1.7" stroke-linecap="butt"/>
<line x1="251.9" y1="927" x2="258.7" y2="927" stroke="#33EE9E" stroke-width="1.7" stroke-linecap="butt"/>
<line x1="267.9" y1="938" x2="274.7" y2="938" stroke="#33EE9E" stroke-width="1.7" stroke-linecap="butt"/>
<circle cx="143.1" cy="981.4" r="3.7" fill="none" stroke="#33EE9E" stroke-width="1.7"/>
<circle cx="159.1" cy="862.6" r="3.7" fill="none" stroke="#33EE9E" stroke-width="1.7"/>
<circle cx="175.2" cy="790.5" r="3.7" fill="none" stroke="#33EE9E" stroke-width="1.7"/>
<circle cx="191.2" cy="792.6" r="3.7" fill="none" stroke="#33EE9E" stroke-width="1.7"/>
<circle cx="207.2" cy="836.8" r="3.7" fill="none" stroke="#33EE9E" stroke-width="1.7"/>
<circle cx="223.2" cy="879.9" r="3.7" fill="none" stroke="#33EE9E" stroke-width="1.7"/>
<circle cx="239.3" cy="912.9" r="3.7" fill="none" stroke="#33EE9E" stroke-width="1.7"/>
<circle cx="255.3" cy="930.3" r="3.7" fill="none" stroke="#33EE9E" stroke-width="1.7"/>
<circle cx="271.3" cy="941.7" r="3.7" fill="none" stroke="#33EE9E" stroke-width="1.7"/>
<circle cx="287.4" cy="949.7" r="3.7" fill="none" stroke="#33EE9E" stroke-width="1.7"/>
<circle cx="303.4" cy="953" r="3.7" fill="none" stroke="#33EE9E" stroke-width="1.7"/>
<circle cx="319.4" cy="957.2" r="3.7" fill="none" stroke="#33EE9E" stroke-width="1.7"/>
<circle cx="335.5" cy="960" r="3.7" fill="none" stroke="#33EE9E" stroke-width="1.7"/>
<circle cx="351.5" cy="962" r="3.7" fill="none" stroke="#33EE9E" stroke-width="1.7"/>
<circle cx="367.5" cy="963" r="3.7" fill="none" stroke="#33EE9E" stroke-width="1.7"/>
<circle cx="383.5" cy="963.9" r="3.7" fill="none" stroke="#33EE9E" stroke-width="1.7"/>
<circle cx="399.6" cy="968.3" r="3.7" fill="none" stroke="#33EE9E" stroke-width="1.7"/>
<circle cx="415.6" cy="970.8" r="3.7" fill="none" stroke="#33EE9E" stroke-width="1.7"/>
<circle cx="431.6" cy="972.6" r="3.7" fill="none" stroke="#33EE9E" stroke-width="1.7"/>
<circle cx="447.7" cy="975.1" r="3.7" fill="none" stroke="#33EE9E" stroke-width="1.7"/>
<circle cx="463.7" cy="976.3" r="3.7" fill="none" stroke="#33EE9E" stroke-width="1.7"/>
<circle cx="479.7" cy="978.2" r="3.7" fill="none" stroke="#33EE9E" stroke-width="1.7"/>
<circle cx="495.8" cy="980" r="3.7" fill="none" stroke="#33EE9E" stroke-width="1.7"/>
<circle cx="511.8" cy="982.1" r="3.7" fill="none" stroke="#33EE9E" stroke-width="1.7"/>
<circle cx="527.8" cy="983.6" r="3.7" fill="none" stroke="#33EE9E" stroke-width="1.7"/>
<circle cx="543.8" cy="985" r="3.7" fill="none" stroke="#33EE9E" stroke-width="1.7"/>
<circle cx="559.9" cy="986.8" r="3.7" fill="none" stroke="#33EE9E" stroke-width="1.7"/>
<circle cx="575.9" cy="988.7" r="3.7" fill="none" stroke="#33EE9E" stroke-width="1.7"/>
<circle cx="591.9" cy="990.1" r="3.7" fill="none" stroke="#33EE9E" stroke-width="1.7"/>
<circle cx="608" cy="992.3" r="3.7" fill="none" stroke="#33EE9E" stroke-width="1.7"/>
<line x1="143.1" y1="973.8" x2="143.1" y2="971" stroke="#FF38E0" stroke-width="1.7" stroke-linecap="butt"/>
<line x1="139.7" y1="971" x2="146.5" y2="971" stroke="#FF38E0" stroke-width="1.7" stroke-linecap="butt"/>
<line x1="159.1" y1="846" x2="159.1" y2="835.6" stroke="#FF38E0" stroke-width="1.7" stroke-linecap="butt"/>
<line x1="155.7" y1="835.6" x2="162.5" y2="835.6" stroke="#FF38E0" stroke-width="1.7" stroke-linecap="butt"/>
<line x1="175.2" y1="751" x2="175.2" y2="744" stroke="#FF38E0" stroke-width="1.7" stroke-linecap="butt"/>
<line x1="171.8" y1="744" x2="178.6" y2="744" stroke="#FF38E0" stroke-width="1.7" stroke-linecap="butt"/>
<line x1="191.2" y1="733.7" x2="191.2" y2="732.2" stroke="#FF38E0" stroke-width="1.7" stroke-linecap="butt"/>
<line x1="187.8" y1="732.2" x2="194.6" y2="732.2" stroke="#FF38E0" stroke-width="1.7" stroke-linecap="butt"/>
<line x1="203.8" y1="774.1" x2="210.6" y2="774.1" stroke="#FF38E0" stroke-width="1.7" stroke-linecap="butt"/>
<line x1="223.2" y1="825.6" x2="223.2" y2="824.5" stroke="#FF38E0" stroke-width="1.7" stroke-linecap="butt"/>
<line x1="219.8" y1="824.5" x2="226.6" y2="824.5" stroke="#FF38E0" stroke-width="1.7" stroke-linecap="butt"/>
<line x1="239.3" y1="869.8" x2="239.3" y2="867.3" stroke="#FF38E0" stroke-width="1.7" stroke-linecap="butt"/>
<line x1="235.9" y1="867.3" x2="242.7" y2="867.3" stroke="#FF38E0" stroke-width="1.7" stroke-linecap="butt"/>
<line x1="255.3" y1="896.9" x2="255.3" y2="895" stroke="#FF38E0" stroke-width="1.7" stroke-linecap="butt"/>
<line x1="251.9" y1="895" x2="258.7" y2="895" stroke="#FF38E0" stroke-width="1.7" stroke-linecap="butt"/>
<line x1="271.3" y1="917.6" x2="271.3" y2="914.8" stroke="#FF38E0" stroke-width="1.7" stroke-linecap="butt"/>
<line x1="267.9" y1="914.8" x2="274.7" y2="914.8" stroke="#FF38E0" stroke-width="1.7" stroke-linecap="butt"/>
<line x1="287.4" y1="931.9" x2="287.4" y2="928.5" stroke="#FF38E0" stroke-width="1.7" stroke-linecap="butt"/>
<line x1="284" y1="928.5" x2="290.8" y2="928.5" stroke="#FF38E0" stroke-width="1.7" stroke-linecap="butt"/>
<line x1="303.4" y1="940" x2="303.4" y2="937" stroke="#FF38E0" stroke-width="1.7" stroke-linecap="butt"/>
<line x1="300" y1="937" x2="306.8" y2="937" stroke="#FF38E0" stroke-width="1.7" stroke-linecap="butt"/>
<line x1="319.4" y1="945.1" x2="319.4" y2="942.6" stroke="#FF38E0" stroke-width="1.7" stroke-linecap="butt"/>
<line x1="316" y1="942.6" x2="322.8" y2="942.6" stroke="#FF38E0" stroke-width="1.7" stroke-linecap="butt"/>
<line x1="335.5" y1="947.6" x2="335.5" y2="946" stroke="#FF38E0" stroke-width="1.7" stroke-linecap="butt"/>
<line x1="332.1" y1="946" x2="338.9" y2="946" stroke="#FF38E0" stroke-width="1.7" stroke-linecap="butt"/>
<line x1="351.5" y1="950.9" x2="351.5" y2="949" stroke="#FF38E0" stroke-width="1.7" stroke-linecap="butt"/>
<line x1="348.1" y1="949" x2="354.9" y2="949" stroke="#FF38E0" stroke-width="1.7" stroke-linecap="butt"/>
<line x1="367.5" y1="953.6" x2="367.5" y2="952" stroke="#FF38E0" stroke-width="1.7" stroke-linecap="butt"/>
<line x1="364.1" y1="952" x2="370.9" y2="952" stroke="#FF38E0" stroke-width="1.7" stroke-linecap="butt"/>
<line x1="383.5" y1="957.7" x2="383.5" y2="956" stroke="#FF38E0" stroke-width="1.7" stroke-linecap="butt"/>
<line x1="380.1" y1="956" x2="386.9" y2="956" stroke="#FF38E0" stroke-width="1.7" stroke-linecap="butt"/>
<line x1="399.6" y1="959" x2="399.6" y2="958" stroke="#FF38E0" stroke-width="1.7" stroke-linecap="butt"/>
<line x1="396.2" y1="958" x2="403" y2="958" stroke="#FF38E0" stroke-width="1.7" stroke-linecap="butt"/>
<line x1="415.6" y1="961.5" x2="415.6" y2="960" stroke="#FF38E0" stroke-width="1.7" stroke-linecap="butt"/>
<line x1="412.2" y1="960" x2="419" y2="960" stroke="#FF38E0" stroke-width="1.7" stroke-linecap="butt"/>
<line x1="431.6" y1="963.3" x2="431.6" y2="962" stroke="#FF38E0" stroke-width="1.7" stroke-linecap="butt"/>
<line x1="428.2" y1="962" x2="435" y2="962" stroke="#FF38E0" stroke-width="1.7" stroke-linecap="butt"/>
<line x1="447.7" y1="965.8" x2="447.7" y2="965" stroke="#FF38E0" stroke-width="1.7" stroke-linecap="butt"/>
<line x1="444.3" y1="965" x2="451.1" y2="965" stroke="#FF38E0" stroke-width="1.7" stroke-linecap="butt"/>
<line x1="463.7" y1="968.5" x2="463.7" y2="968" stroke="#FF38E0" stroke-width="1.7" stroke-linecap="butt"/>
<line x1="460.3" y1="968" x2="467.1" y2="968" stroke="#FF38E0" stroke-width="1.7" stroke-linecap="butt"/>
<line x1="476.3" y1="971" x2="483.1" y2="971" stroke="#FF38E0" stroke-width="1.7" stroke-linecap="butt"/>
<line x1="492.4" y1="972.5" x2="499.2" y2="972.5" stroke="#FF38E0" stroke-width="1.7" stroke-linecap="butt"/>
<line x1="508.4" y1="975" x2="515.2" y2="975" stroke="#FF38E0" stroke-width="1.7" stroke-linecap="butt"/>
<line x1="524.4" y1="977" x2="531.2" y2="977" stroke="#FF38E0" stroke-width="1.7" stroke-linecap="butt"/>
<line x1="540.4" y1="980" x2="547.2" y2="980" stroke="#FF38E0" stroke-width="1.7" stroke-linecap="butt"/>
<line x1="556.5" y1="982" x2="563.3" y2="982" stroke="#FF38E0" stroke-width="1.7" stroke-linecap="butt"/>
<line x1="572.5" y1="984" x2="579.3" y2="984" stroke="#FF38E0" stroke-width="1.7" stroke-linecap="butt"/>
<line x1="588.5" y1="986" x2="595.3" y2="986" stroke="#FF38E0" stroke-width="1.7" stroke-linecap="butt"/>
<line x1="604.6" y1="988" x2="611.4" y2="988" stroke="#FF38E0" stroke-width="1.7" stroke-linecap="butt"/>
<circle cx="143.1" cy="977.5" r="3.7" fill="none" stroke="#FF38E0" stroke-width="1.7"/>
<circle cx="159.1" cy="849.7" r="3.7" fill="none" stroke="#FF38E0" stroke-width="1.7"/>
<circle cx="175.2" cy="754.7" r="3.7" fill="none" stroke="#FF38E0" stroke-width="1.7"/>
<circle cx="191.2" cy="737.4" r="3.7" fill="none" stroke="#FF38E0" stroke-width="1.7"/>
<circle cx="207.2" cy="777.9" r="3.7" fill="none" stroke="#FF38E0" stroke-width="1.7"/>
<circle cx="223.2" cy="829.3" r="3.7" fill="none" stroke="#FF38E0" stroke-width="1.7"/>
<circle cx="239.3" cy="873.5" r="3.7" fill="none" stroke="#FF38E0" stroke-width="1.7"/>
<circle cx="255.3" cy="900.6" r="3.7" fill="none" stroke="#FF38E0" stroke-width="1.7"/>
<circle cx="271.3" cy="921.3" r="3.7" fill="none" stroke="#FF38E0" stroke-width="1.7"/>
<circle cx="287.4" cy="935.6" r="3.7" fill="none" stroke="#FF38E0" stroke-width="1.7"/>
<circle cx="303.4" cy="943.7" r="3.7" fill="none" stroke="#FF38E0" stroke-width="1.7"/>
<circle cx="319.4" cy="948.8" r="3.7" fill="none" stroke="#FF38E0" stroke-width="1.7"/>
<circle cx="335.5" cy="951.3" r="3.7" fill="none" stroke="#FF38E0" stroke-width="1.7"/>
<circle cx="351.5" cy="954.6" r="3.7" fill="none" stroke="#FF38E0" stroke-width="1.7"/>
<circle cx="367.5" cy="957.3" r="3.7" fill="none" stroke="#FF38E0" stroke-width="1.7"/>
<circle cx="383.5" cy="961.4" r="3.7" fill="none" stroke="#FF38E0" stroke-width="1.7"/>
<circle cx="399.6" cy="962.7" r="3.7" fill="none" stroke="#FF38E0" stroke-width="1.7"/>
<circle cx="415.6" cy="965.2" r="3.7" fill="none" stroke="#FF38E0" stroke-width="1.7"/>
<circle cx="431.6" cy="967" r="3.7" fill="none" stroke="#FF38E0" stroke-width="1.7"/>
<circle cx="447.7" cy="969.5" r="3.7" fill="none" stroke="#FF38E0" stroke-width="1.7"/>
<circle cx="463.7" cy="972.2" r="3.7" fill="none" stroke="#FF38E0" stroke-width="1.7"/>
<circle cx="479.7" cy="975.1" r="3.7" fill="none" stroke="#FF38E0" stroke-width="1.7"/>
<circle cx="495.8" cy="976.3" r="3.7" fill="none" stroke="#FF38E0" stroke-width="1.7"/>
<circle cx="511.8" cy="978.8" r="3.7" fill="none" stroke="#FF38E0" stroke-width="1.7"/>
<circle cx="527.8" cy="980.7" r="3.7" fill="none" stroke="#FF38E0" stroke-width="1.7"/>
<circle cx="543.8" cy="983.3" r="3.7" fill="none" stroke="#FF38E0" stroke-width="1.7"/>
<circle cx="559.9" cy="985.3" r="3.7" fill="none" stroke="#FF38E0" stroke-width="1.7"/>
<circle cx="575.9" cy="987.2" r="3.7" fill="none" stroke="#FF38E0" stroke-width="1.7"/>
<circle cx="591.9" cy="989.1" r="3.7" fill="none" stroke="#FF38E0" stroke-width="1.7"/>
<circle cx="608" cy="990.8" r="3.7" fill="none" stroke="#FF38E0" stroke-width="1.7"/>
<line x1="159.1" y1="818.9" x2="159.1" y2="810.7" stroke="#000000" stroke-width="1.7" stroke-linecap="butt"/>
<line x1="155.7" y1="810.7" x2="162.5" y2="810.7" stroke="#000000" stroke-width="1.7" stroke-linecap="butt"/>
<line x1="175.2" y1="700.1" x2="175.2" y2="686.6" stroke="#000000" stroke-width="1.7" stroke-linecap="butt"/>
<line x1="171.8" y1="686.6" x2="178.6" y2="686.6" stroke="#000000" stroke-width="1.7" stroke-linecap="butt"/>
<line x1="191.2" y1="678.5" x2="191.2" y2="660.3" stroke="#000000" stroke-width="1.7" stroke-linecap="butt"/>
<line x1="207.2" y1="724.6" x2="207.2" y2="701.2" stroke="#000000" stroke-width="1.7" stroke-linecap="butt"/>
<line x1="203.8" y1="701.2" x2="210.6" y2="701.2" stroke="#000000" stroke-width="1.7" stroke-linecap="butt"/>
<line x1="223.2" y1="797" x2="223.2" y2="774.5" stroke="#000000" stroke-width="1.7" stroke-linecap="butt"/>
<line x1="219.8" y1="774.5" x2="226.6" y2="774.5" stroke="#000000" stroke-width="1.7" stroke-linecap="butt"/>
<line x1="239.3" y1="853.2" x2="239.3" y2="834" stroke="#000000" stroke-width="1.7" stroke-linecap="butt"/>
<line x1="235.9" y1="834" x2="242.7" y2="834" stroke="#000000" stroke-width="1.7" stroke-linecap="butt"/>
<line x1="255.3" y1="894.6" x2="255.3" y2="879.6" stroke="#000000" stroke-width="1.7" stroke-linecap="butt"/>
<line x1="251.9" y1="879.6" x2="258.7" y2="879.6" stroke="#000000" stroke-width="1.7" stroke-linecap="butt"/>
<line x1="271.3" y1="921.7" x2="271.3" y2="907.7" stroke="#000000" stroke-width="1.7" stroke-linecap="butt"/>
<line x1="267.9" y1="907.7" x2="274.7" y2="907.7" stroke="#000000" stroke-width="1.7" stroke-linecap="butt"/>
<line x1="287.4" y1="938.1" x2="287.4" y2="925.7" stroke="#000000" stroke-width="1.7" stroke-linecap="butt"/>
<line x1="284" y1="925.7" x2="290.8" y2="925.7" stroke="#000000" stroke-width="1.7" stroke-linecap="butt"/>
<line x1="303.4" y1="949.8" x2="303.4" y2="937.6" stroke="#000000" stroke-width="1.7" stroke-linecap="butt"/>
<line x1="300" y1="937.6" x2="306.8" y2="937.6" stroke="#000000" stroke-width="1.7" stroke-linecap="butt"/>
<line x1="319.4" y1="958.9" x2="319.4" y2="949" stroke="#000000" stroke-width="1.7" stroke-linecap="butt"/>
<line x1="316" y1="949" x2="322.8" y2="949" stroke="#000000" stroke-width="1.7" stroke-linecap="butt"/>
<line x1="335.5" y1="964.8" x2="335.5" y2="954.7" stroke="#000000" stroke-width="1.7" stroke-linecap="butt"/>
<line x1="332.1" y1="954.7" x2="338.9" y2="954.7" stroke="#000000" stroke-width="1.7" stroke-linecap="butt"/>
<line x1="351.5" y1="969.8" x2="351.5" y2="960.8" stroke="#000000" stroke-width="1.7" stroke-linecap="butt"/>
<line x1="348.1" y1="960.8" x2="354.9" y2="960.8" stroke="#000000" stroke-width="1.7" stroke-linecap="butt"/>
<line x1="367.5" y1="973.3" x2="367.5" y2="964.5" stroke="#000000" stroke-width="1.7" stroke-linecap="butt"/>
<line x1="364.1" y1="964.5" x2="370.9" y2="964.5" stroke="#000000" stroke-width="1.7" stroke-linecap="butt"/>
<line x1="383.5" y1="976.4" x2="383.5" y2="968" stroke="#000000" stroke-width="1.7" stroke-linecap="butt"/>
<line x1="380.1" y1="968" x2="386.9" y2="968" stroke="#000000" stroke-width="1.7" stroke-linecap="butt"/>
<line x1="399.6" y1="979.2" x2="399.6" y2="971.7" stroke="#000000" stroke-width="1.7" stroke-linecap="butt"/>
<line x1="396.2" y1="971.7" x2="403" y2="971.7" stroke="#000000" stroke-width="1.7" stroke-linecap="butt"/>
<line x1="415.6" y1="981.3" x2="415.6" y2="974.5" stroke="#000000" stroke-width="1.7" stroke-linecap="butt"/>
<line x1="412.2" y1="974.5" x2="419" y2="974.5" stroke="#000000" stroke-width="1.7" stroke-linecap="butt"/>
<line x1="431.6" y1="983.2" x2="431.6" y2="976" stroke="#000000" stroke-width="1.7" stroke-linecap="butt"/>
<line x1="428.2" y1="976" x2="435" y2="976" stroke="#000000" stroke-width="1.7" stroke-linecap="butt"/>
<line x1="447.7" y1="984.7" x2="447.7" y2="979.4" stroke="#000000" stroke-width="1.7" stroke-linecap="butt"/>
<line x1="444.3" y1="979.4" x2="451.1" y2="979.4" stroke="#000000" stroke-width="1.7" stroke-linecap="butt"/>
<line x1="463.7" y1="986.3" x2="463.7" y2="981.3" stroke="#000000" stroke-width="1.7" stroke-linecap="butt"/>
<line x1="460.3" y1="981.3" x2="467.1" y2="981.3" stroke="#000000" stroke-width="1.7" stroke-linecap="butt"/>
<line x1="479.7" y1="987.5" x2="479.7" y2="982.5" stroke="#000000" stroke-width="1.7" stroke-linecap="butt"/>
<line x1="476.3" y1="982.5" x2="483.1" y2="982.5" stroke="#000000" stroke-width="1.7" stroke-linecap="butt"/>
<line x1="495.8" y1="989.6" x2="495.8" y2="985.6" stroke="#000000" stroke-width="1.7" stroke-linecap="butt"/>
<line x1="492.4" y1="985.6" x2="499.2" y2="985.6" stroke="#000000" stroke-width="1.7" stroke-linecap="butt"/>
<line x1="511.8" y1="990" x2="511.8" y2="987" stroke="#000000" stroke-width="1.7" stroke-linecap="butt"/>
<line x1="508.4" y1="987" x2="515.2" y2="987" stroke="#000000" stroke-width="1.7" stroke-linecap="butt"/>
<line x1="527.8" y1="991.8" x2="527.8" y2="988.7" stroke="#000000" stroke-width="1.7" stroke-linecap="butt"/>
<line x1="524.4" y1="988.7" x2="531.2" y2="988.7" stroke="#000000" stroke-width="1.7" stroke-linecap="butt"/>
<line x1="543.8" y1="992.9" x2="543.8" y2="990.1" stroke="#000000" stroke-width="1.7" stroke-linecap="butt"/>
<line x1="540.4" y1="990.1" x2="547.2" y2="990.1" stroke="#000000" stroke-width="1.7" stroke-linecap="butt"/>
<line x1="559.9" y1="993.6" x2="559.9" y2="991.1" stroke="#000000" stroke-width="1.7" stroke-linecap="butt"/>
<line x1="556.5" y1="991.1" x2="563.3" y2="991.1" stroke="#000000" stroke-width="1.7" stroke-linecap="butt"/>
<line x1="575.9" y1="994.4" x2="575.9" y2="993" stroke="#000000" stroke-width="1.7" stroke-linecap="butt"/>
<line x1="572.5" y1="993" x2="579.3" y2="993" stroke="#000000" stroke-width="1.7" stroke-linecap="butt"/>
<line x1="591.9" y1="996.1" x2="591.9" y2="994.2" stroke="#000000" stroke-width="1.7" stroke-linecap="butt"/>
<line x1="588.5" y1="994.2" x2="595.3" y2="994.2" stroke="#000000" stroke-width="1.7" stroke-linecap="butt"/>
<line x1="608" y1="996.5" x2="608" y2="994.4" stroke="#000000" stroke-width="1.7" stroke-linecap="butt"/>
<line x1="604.6" y1="994.4" x2="611.4" y2="994.4" stroke="#000000" stroke-width="1.7" stroke-linecap="butt"/>
<circle cx="143.1" cy="978.1" r="3.7" fill="none" stroke="#000000" stroke-width="1.7"/>
<circle cx="159.1" cy="822.6" r="3.7" fill="none" stroke="#000000" stroke-width="1.7"/>
<circle cx="175.2" cy="703.8" r="3.7" fill="none" stroke="#000000" stroke-width="1.7"/>
<circle cx="191.2" cy="682.2" r="3.7" fill="none" stroke="#000000" stroke-width="1.7"/>
<circle cx="207.2" cy="728.3" r="3.7" fill="none" stroke="#000000" stroke-width="1.7"/>
<circle cx="223.2" cy="800.7" r="3.7" fill="none" stroke="#000000" stroke-width="1.7"/>
<circle cx="239.3" cy="856.9" r="3.7" fill="none" stroke="#000000" stroke-width="1.7"/>
<circle cx="255.3" cy="898.3" r="3.7" fill="none" stroke="#000000" stroke-width="1.7"/>
<circle cx="271.3" cy="925.4" r="3.7" fill="none" stroke="#000000" stroke-width="1.7"/>
<circle cx="287.4" cy="941.8" r="3.7" fill="none" stroke="#000000" stroke-width="1.7"/>
<circle cx="303.4" cy="953.5" r="3.7" fill="none" stroke="#000000" stroke-width="1.7"/>
<circle cx="319.4" cy="962.6" r="3.7" fill="none" stroke="#000000" stroke-width="1.7"/>
<circle cx="335.5" cy="968.5" r="3.7" fill="none" stroke="#000000" stroke-width="1.7"/>
<circle cx="351.5" cy="973.5" r="3.7" fill="none" stroke="#000000" stroke-width="1.7"/>
<circle cx="367.5" cy="977" r="3.7" fill="none" stroke="#000000" stroke-width="1.7"/>
<circle cx="383.5" cy="980.1" r="3.7" fill="none" stroke="#000000" stroke-width="1.7"/>
<circle cx="399.6" cy="982.9" r="3.7" fill="none" stroke="#000000" stroke-width="1.7"/>
<circle cx="415.6" cy="985" r="3.7" fill="none" stroke="#000000" stroke-width="1.7"/>
<circle cx="431.6" cy="986.9" r="3.7" fill="none" stroke="#000000" stroke-width="1.7"/>
<circle cx="447.7" cy="988.4" r="3.7" fill="none" stroke="#000000" stroke-width="1.7"/>
<circle cx="463.7" cy="990" r="3.7" fill="none" stroke="#000000" stroke-width="1.7"/>
<circle cx="479.7" cy="991.2" r="3.7" fill="none" stroke="#000000" stroke-width="1.7"/>
<circle cx="495.8" cy="993.3" r="3.7" fill="none" stroke="#000000" stroke-width="1.7"/>
<circle cx="511.8" cy="993.7" r="3.7" fill="none" stroke="#000000" stroke-width="1.7"/>
<circle cx="527.8" cy="995.5" r="3.7" fill="none" stroke="#000000" stroke-width="1.7"/>
<circle cx="543.8" cy="996.6" r="3.7" fill="none" stroke="#000000" stroke-width="1.7"/>
<circle cx="559.9" cy="997.3" r="3.7" fill="none" stroke="#000000" stroke-width="1.7"/>
<circle cx="575.9" cy="998.1" r="3.7" fill="none" stroke="#000000" stroke-width="1.7"/>
<circle cx="591.9" cy="999.8" r="3.7" fill="none" stroke="#000000" stroke-width="1.7"/>
<circle cx="608" cy="1000.2" r="3.7" fill="none" stroke="#000000" stroke-width="1.7"/>
<circle cx="676" cy="695.1" r="3.6" fill="none" stroke="#000000" stroke-width="1.7"/>
<text x="717" y="703.2" font-size="23.5" text-anchor="start" fill="#000">control</text>
<circle cx="676" cy="737.4" r="3.6" fill="none" stroke="#FF38E0" stroke-width="1.7"/>
<text x="717" y="745.5" font-size="23.5" text-anchor="start" fill="#000">1 &#181;g/ml</text>
<circle cx="676" cy="779.7" r="3.6" fill="none" stroke="#33EE9E" stroke-width="1.7"/>
<text x="717" y="787.8" font-size="23.5" text-anchor="start" fill="#000">10 &#181;g/ml</text>
<circle cx="676" cy="822" r="3.6" fill="none" stroke="#009557" stroke-width="1.7"/>
<text x="717" y="830.1" font-size="23.5" text-anchor="start" fill="#000">50 &#181;g/ml</text>
<circle cx="676" cy="864.3" r="3.6" fill="none" stroke="#FF2E2E" stroke-width="1.7"/>
<text x="717" y="872.4" font-size="23.5" text-anchor="start" fill="#000">100 &#181;g/ml</text>
<circle cx="676" cy="906.6" r="3.6" fill="none" stroke="#0000F5" stroke-width="1.7"/>
<text x="717" y="914.7" font-size="23.5" text-anchor="start" fill="#000">250 &#181;g/ml</text>
<circle cx="676" cy="948.9" r="3.6" fill="none" stroke="#FF8A28" stroke-width="1.7"/>
<text x="717" y="957" font-size="23.5" text-anchor="start" fill="#000">500 &#181;g/ml</text>
<line x1="984.2" y1="639.1" x2="984.2" y2="989.2" stroke="#000" stroke-width="2" stroke-linecap="butt"/>
<line x1="977.6" y1="982.6" x2="1443.3" y2="982.6" stroke="#000" stroke-width="2" stroke-linecap="butt"/>
<line x1="977.6" y1="982.6" x2="984.2" y2="982.6" stroke="#000" stroke-width="2" stroke-linecap="butt"/>
<text x="973.5" y="990.1" font-size="18.5" font-weight="bold" text-anchor="end" fill="#000">0</text>
<line x1="980.5" y1="948.2" x2="984.2" y2="948.2" stroke="#000" stroke-width="2" stroke-linecap="butt"/>
<line x1="977.6" y1="913.9" x2="984.2" y2="913.9" stroke="#000" stroke-width="2" stroke-linecap="butt"/>
<text x="964.6" y="921.2" font-size="19" font-weight="bold" text-anchor="end" textLength="42.1" lengthAdjust="spacingAndGlyphs" fill="#000">5&#215;10</text>
<text x="967.8" y="914.6" font-size="12.2" font-weight="bold" text-anchor="start" fill="#000">6</text>
<line x1="980.5" y1="879.6" x2="984.2" y2="879.6" stroke="#000" stroke-width="2" stroke-linecap="butt"/>
<line x1="977.6" y1="845.2" x2="984.2" y2="845.2" stroke="#000" stroke-width="2" stroke-linecap="butt"/>
<text x="964.6" y="852.5" font-size="19" font-weight="bold" text-anchor="end" textLength="42.1" lengthAdjust="spacingAndGlyphs" fill="#000">1&#215;10</text>
<text x="967.8" y="845.9" font-size="12.2" font-weight="bold" text-anchor="start" fill="#000">7</text>
<line x1="980.5" y1="810.9" x2="984.2" y2="810.9" stroke="#000" stroke-width="2" stroke-linecap="butt"/>
<line x1="977.6" y1="776.5" x2="984.2" y2="776.5" stroke="#000" stroke-width="2" stroke-linecap="butt"/>
<text x="964.6" y="783.8" font-size="19" font-weight="bold" text-anchor="end" textLength="58.9" lengthAdjust="spacingAndGlyphs" fill="#000">1.5&#215;10</text>
<text x="967.8" y="777.2" font-size="12.2" font-weight="bold" text-anchor="start" fill="#000">7</text>
<line x1="980.5" y1="742.2" x2="984.2" y2="742.2" stroke="#000" stroke-width="2" stroke-linecap="butt"/>
<line x1="977.6" y1="707.8" x2="984.2" y2="707.8" stroke="#000" stroke-width="2" stroke-linecap="butt"/>
<text x="964.6" y="715.1" font-size="19" font-weight="bold" text-anchor="end" textLength="42.1" lengthAdjust="spacingAndGlyphs" fill="#000">2&#215;10</text>
<text x="967.8" y="708.5" font-size="12.2" font-weight="bold" text-anchor="start" fill="#000">7</text>
<line x1="980.5" y1="673.5" x2="984.2" y2="673.5" stroke="#000" stroke-width="2" stroke-linecap="butt"/>
<line x1="977.6" y1="639.1" x2="984.2" y2="639.1" stroke="#000" stroke-width="2" stroke-linecap="butt"/>
<text x="964.6" y="646.4" font-size="19" font-weight="bold" text-anchor="end" textLength="58.9" lengthAdjust="spacingAndGlyphs" fill="#000">2.5&#215;10</text>
<text x="967.8" y="639.8" font-size="12.2" font-weight="bold" text-anchor="start" fill="#000">7</text>
<line x1="984.2" y1="982.6" x2="984.2" y2="989.2" stroke="#000" stroke-width="2" stroke-linecap="butt"/>
<text x="984.2" y="1011" font-size="18" font-weight="bold" text-anchor="middle" textLength="17" lengthAdjust="spacingAndGlyphs" fill="#000">-6</text>
<line x1="1060.5" y1="982.6" x2="1060.5" y2="986.1" stroke="#000" stroke-width="2" stroke-linecap="butt"/>
<line x1="1136.9" y1="982.6" x2="1136.9" y2="989.2" stroke="#000" stroke-width="2" stroke-linecap="butt"/>
<text x="1136.9" y="1011" font-size="18" font-weight="bold" text-anchor="middle" textLength="17" lengthAdjust="spacingAndGlyphs" fill="#000">-5</text>
<line x1="1213.2" y1="982.6" x2="1213.2" y2="986.1" stroke="#000" stroke-width="2" stroke-linecap="butt"/>
<line x1="1289.6" y1="982.6" x2="1289.6" y2="989.2" stroke="#000" stroke-width="2" stroke-linecap="butt"/>
<text x="1289.6" y="1011" font-size="18" font-weight="bold" text-anchor="middle" textLength="17" lengthAdjust="spacingAndGlyphs" fill="#000">-4</text>
<line x1="1366" y1="982.6" x2="1366" y2="986.1" stroke="#000" stroke-width="2" stroke-linecap="butt"/>
<line x1="1442.3" y1="982.6" x2="1442.3" y2="989.2" stroke="#000" stroke-width="2" stroke-linecap="butt"/>
<text x="1442.3" y="1011" font-size="18" font-weight="bold" text-anchor="middle" textLength="17" lengthAdjust="spacingAndGlyphs" fill="#000">-3</text>
<text x="1213.8" y="1051.5" font-size="19" font-weight="bold" text-anchor="middle" textLength="162.8" lengthAdjust="spacingAndGlyphs" fill="#000">log [Ze 911] (g/ml)</text>
<text transform="translate(863.8,809) rotate(-90)" font-size="18" font-weight="bold" text-anchor="middle" textLength="180" lengthAdjust="spacingAndGlyphs" fill="#000">cAMP accumulation</text>
<text transform="translate(886,809) rotate(-90)" font-size="18" font-weight="bold" text-anchor="middle" textLength="50" lengthAdjust="spacingAndGlyphs" fill="#000">(AUC)</text>
<text x="1086.5" y="834.4" font-size="18.8" text-anchor="start" textLength="19.6" lengthAdjust="spacingAndGlyphs" fill="#000">IC</text>
<text x="1105.5" y="838.6" font-size="14.2" text-anchor="start" textLength="16" lengthAdjust="spacingAndGlyphs" fill="#000">50</text>
<text x="1126.4" y="834.4" font-size="18.8" text-anchor="start" textLength="92.5" lengthAdjust="spacingAndGlyphs" fill="#000">= 35 &#181;g/ml</text>
<polyline points="984.2,701.1 985.7,701.2 987.3,701.4 988.8,701.5 990.3,701.6 991.8,701.8 993.4,701.9 994.9,702.1 996.4,702.2 997.9,702.4 999.5,702.5 1001,702.7 1002.5,702.8 1004.1,703 1005.6,703.2 1007.1,703.3 1008.6,703.5 1010.2,703.7 1011.7,703.9 1013.2,704.1 1014.7,704.3 1016.3,704.5 1017.8,704.7 1019.3,704.9 1020.8,705.1 1022.4,705.3 1023.9,705.5 1025.4,705.7 1027,706 1028.5,706.2 1030,706.4 1031.5,706.7 1033.1,706.9 1034.6,707.2 1036.1,707.4 1037.6,707.7 1039.2,708 1040.7,708.2 1042.2,708.5 1043.8,708.8 1045.3,709.1 1046.8,709.4 1048.3,709.7 1049.9,710 1051.4,710.3 1052.9,710.6 1054.4,710.9 1056,711.3 1057.5,711.6 1059,712 1060.5,712.3 1062.1,712.7 1063.6,713 1065.1,713.4 1066.7,713.8 1068.2,714.2 1069.7,714.6 1071.2,715 1072.8,715.4 1074.3,715.8 1075.8,716.2 1077.3,716.7 1078.9,717.1 1080.4,717.6 1081.9,718 1083.5,718.5 1085,719 1086.5,719.4 1088,719.9 1089.6,720.4 1091.1,720.9 1092.6,721.5 1094.1,722 1095.7,722.5 1097.2,723.1 1098.7,723.6 1100.3,724.2 1101.8,724.8 1103.3,725.3 1104.8,725.9 1106.4,726.5 1107.9,727.1 1109.4,727.8 1110.9,728.4 1112.5,729 1114,729.7 1115.5,730.3 1117,731 1118.6,731.7 1120.1,732.4 1121.6,733.1 1123.2,733.8 1124.7,734.5 1126.2,735.2 1127.7,736 1129.3,736.7 1130.8,737.5 1132.3,738.3 1133.8,739.1 1135.4,739.8 1136.9,740.6 1138.4,741.5 1140,742.3 1141.5,743.1 1143,744 1144.5,744.8 1146.1,745.7 1147.6,746.6 1149.1,747.4 1150.6,748.3 1152.2,749.2 1153.7,750.1 1155.2,751.1 1156.8,752 1158.3,752.9 1159.8,753.9 1161.3,754.9 1162.9,755.8 1164.4,756.8 1165.9,757.8 1167.4,758.8 1169,759.8 1170.5,760.8 1172,761.8 1173.5,762.9 1175.1,763.9 1176.6,765 1178.1,766 1179.7,767.1 1181.2,768.1 1182.7,769.2 1184.2,770.3 1185.8,771.4 1187.3,772.5 1188.8,773.6 1190.3,774.7 1191.9,775.8 1193.4,776.9 1194.9,778 1196.5,779.2 1198,780.3 1199.5,781.4 1201,782.6 1202.6,783.7 1204.1,784.8 1205.6,786 1207.1,787.1 1208.7,788.3 1210.2,789.5 1211.7,790.6 1213.2,791.8 1214.8,792.9 1216.3,794.1 1217.8,795.3 1219.4,796.4 1220.9,797.6 1222.4,798.7 1223.9,799.9 1225.5,801.1 1227,802.2 1228.5,803.4 1230,804.5 1231.6,805.7 1233.1,806.8 1234.6,808 1236.2,809.1 1237.7,810.3 1239.2,811.4 1240.7,812.6 1242.3,813.7 1243.8,814.8 1245.3,815.9 1246.8,817.1 1248.4,818.2 1249.9,819.3 1251.4,820.4 1253,821.5 1254.5,822.6 1256,823.6 1257.5,824.7 1259.1,825.8 1260.6,826.8 1262.1,827.9 1263.6,828.9 1265.2,830 1266.7,831 1268.2,832 1269.7,833 1271.3,834.1 1272.8,835 1274.3,836 1275.9,837 1277.4,838 1278.9,838.9 1280.4,839.9 1282,840.8 1283.5,841.8 1285,842.7 1286.5,843.6 1288.1,844.5 1289.6,845.4 1291.1,846.3 1292.7,847.2 1294.2,848 1295.7,848.9 1297.2,849.7 1298.8,850.6 1300.3,851.4 1301.8,852.2 1303.3,853 1304.9,853.8 1306.4,854.6 1307.9,855.3 1309.5,856.1 1311,856.9 1312.5,857.6 1314,858.3 1315.6,859.1 1317.1,859.8 1318.6,860.5 1320.1,861.2 1321.7,861.8 1323.2,862.5 1324.7,863.2 1326.2,863.8 1327.8,864.5 1329.3,865.1 1330.8,865.7 1332.4,866.3 1333.9,866.9 1335.4,867.5 1336.9,868.1 1338.5,868.7 1340,869.2 1341.5,869.8 1343,870.3 1344.6,870.9 1346.1,871.4 1347.6,871.9 1349.2,872.4 1350.7,872.9 1352.2,873.4 1353.7,873.9 1355.3,874.4 1356.8,874.8 1358.3,875.3 1359.8,875.7 1361.4,876.2 1362.9,876.6 1364.4,877 1366,877.5 1367.5,877.9 1369,878.3 1370.5,878.7 1372.1,879.1 1373.6,879.4 1375.1,879.8 1376.6,880.2 1378.2,880.5 1379.7,880.9 1381.2,881.2 1382.7,881.6 1384.3,881.9 1385.8,882.2 1387.3,882.5 1388.9,882.9 1390.4,883.2 1391.9,883.5 1393.4,883.8 1395,884.1 1396.5,884.3 1398,884.6 1399.5,884.9 1401.1,885.2 1402.6,885.4 1404.1,885.7 1405.7,885.9 1407.2,886.2 1408.7,886.4 1410.2,886.7 1411.8,886.9 1413.3,887.1 1414.8,887.3 1416.3,887.6 1417.9,887.8 1419.4,888 1420.9,888.2 1422.4,888.4 1424,888.6 1425.5,888.8 1427,889 1428.6,889.1 1430.1,889.3 1431.6,889.5 1433.1,889.7 1434.7,889.8 1436.2,890 1437.7,890.2 1439.2,890.3 1440.8,890.5 1442.3,890.6" fill="none" stroke="#000" stroke-width="1.4"/>
<line x1="984.2" y1="685.2" x2="984.2" y2="708.6" stroke="#000" stroke-width="2.2" stroke-linecap="butt"/>
<line x1="979.4" y1="685.2" x2="989" y2="685.2" stroke="#000" stroke-width="2.2" stroke-linecap="butt"/>
<line x1="979.4" y1="708.6" x2="989" y2="708.6" stroke="#000" stroke-width="2.2" stroke-linecap="butt"/>
<circle cx="984.2" cy="697" r="4.3" fill="#000" stroke="#000" stroke-width="0"/>
<circle cx="1136.9" cy="745.4" r="4.3" fill="#000" stroke="#000" stroke-width="0"/>
<line x1="1243.8" y1="793.3" x2="1243.8" y2="815.6" stroke="#000" stroke-width="2.2" stroke-linecap="butt"/>
<line x1="1239" y1="793.3" x2="1248.6" y2="793.3" stroke="#000" stroke-width="2.2" stroke-linecap="butt"/>
<line x1="1239" y1="815.6" x2="1248.6" y2="815.6" stroke="#000" stroke-width="2.2" stroke-linecap="butt"/>
<circle cx="1243.8" cy="804.3" r="4.3" fill="#000" stroke="#000" stroke-width="0"/>
<line x1="1289.6" y1="828.2" x2="1289.6" y2="849.3" stroke="#000" stroke-width="2.2" stroke-linecap="butt"/>
<line x1="1284.8" y1="828.2" x2="1294.4" y2="828.2" stroke="#000" stroke-width="2.2" stroke-linecap="butt"/>
<line x1="1284.8" y1="849.3" x2="1294.4" y2="849.3" stroke="#000" stroke-width="2.2" stroke-linecap="butt"/>
<circle cx="1289.6" cy="838.8" r="4.3" fill="#000" stroke="#000" stroke-width="0"/>
<line x1="1350.7" y1="883.8" x2="1350.7" y2="897.7" stroke="#000" stroke-width="2.2" stroke-linecap="butt"/>
<line x1="1345.9" y1="883.8" x2="1355.5" y2="883.8" stroke="#000" stroke-width="2.2" stroke-linecap="butt"/>
<line x1="1345.9" y1="897.7" x2="1355.5" y2="897.7" stroke="#000" stroke-width="2.2" stroke-linecap="butt"/>
<circle cx="1350.7" cy="890.5" r="4.3" fill="#000" stroke="#000" stroke-width="0"/>
<circle cx="1396.5" cy="903.1" r="4.3" fill="#000" stroke="#000" stroke-width="0"/>
<circle cx="1442.3" cy="864" r="4.3" fill="#000" stroke="#000" stroke-width="0"/>
<text x="0" y="1167.3" font-size="42.5" font-weight="bold" text-anchor="start" fill="#000">C</text>
<line x1="144.7" y1="1212.9" x2="144.7" y2="1595.5" stroke="#000" stroke-width="3" stroke-linecap="butt"/>
<line x1="130.5" y1="1581" x2="697.3" y2="1581" stroke="#000" stroke-width="3" stroke-linecap="butt"/>
<line x1="130.5" y1="1581" x2="144.7" y2="1581" stroke="#000" stroke-width="3" stroke-linecap="butt"/>
<text x="130.9" y="1591" font-size="26.3" font-weight="bold" text-anchor="end" textLength="14.2" lengthAdjust="spacingAndGlyphs" fill="#000">0</text>
<line x1="130.5" y1="1519.7" x2="144.7" y2="1519.7" stroke="#000" stroke-width="3" stroke-linecap="butt"/>
<text x="130.9" y="1529.7" font-size="26.3" font-weight="bold" text-anchor="end" textLength="71.2" lengthAdjust="spacingAndGlyphs" fill="#000">10000</text>
<line x1="130.5" y1="1458.3" x2="144.7" y2="1458.3" stroke="#000" stroke-width="3" stroke-linecap="butt"/>
<text x="130.9" y="1468.3" font-size="26.3" font-weight="bold" text-anchor="end" textLength="71.2" lengthAdjust="spacingAndGlyphs" fill="#000">20000</text>
<line x1="130.5" y1="1397" x2="144.7" y2="1397" stroke="#000" stroke-width="3" stroke-linecap="butt"/>
<text x="130.9" y="1407" font-size="26.3" font-weight="bold" text-anchor="end" textLength="71.2" lengthAdjust="spacingAndGlyphs" fill="#000">30000</text>
<line x1="130.5" y1="1335.6" x2="144.7" y2="1335.6" stroke="#000" stroke-width="3" stroke-linecap="butt"/>
<text x="130.9" y="1345.6" font-size="26.3" font-weight="bold" text-anchor="end" textLength="71.2" lengthAdjust="spacingAndGlyphs" fill="#000">40000</text>
<line x1="130.5" y1="1274.2" x2="144.7" y2="1274.2" stroke="#000" stroke-width="3" stroke-linecap="butt"/>
<text x="130.9" y="1284.2" font-size="26.3" font-weight="bold" text-anchor="end" textLength="71.2" lengthAdjust="spacingAndGlyphs" fill="#000">50000</text>
<line x1="130.5" y1="1212.9" x2="144.7" y2="1212.9" stroke="#000" stroke-width="3" stroke-linecap="butt"/>
<text x="130.9" y="1222.9" font-size="26.3" font-weight="bold" text-anchor="end" textLength="71.2" lengthAdjust="spacingAndGlyphs" fill="#000">60000</text>
<line x1="144.7" y1="1581" x2="144.7" y2="1595.5" stroke="#000" stroke-width="3" stroke-linecap="butt"/>
<text x="144.7" y="1620.8" font-size="26" font-weight="bold" text-anchor="middle" textLength="14.1" lengthAdjust="spacingAndGlyphs" fill="#000">0</text>
<line x1="282.5" y1="1581" x2="282.5" y2="1595.5" stroke="#000" stroke-width="3" stroke-linecap="butt"/>
<text x="282.5" y="1620.8" font-size="26" font-weight="bold" text-anchor="middle" textLength="56.5" lengthAdjust="spacingAndGlyphs" fill="#000">1000</text>
<line x1="420.3" y1="1581" x2="420.3" y2="1595.5" stroke="#000" stroke-width="3" stroke-linecap="butt"/>
<text x="420.3" y="1620.8" font-size="26" font-weight="bold" text-anchor="middle" textLength="56.5" lengthAdjust="spacingAndGlyphs" fill="#000">2000</text>
<line x1="558" y1="1581" x2="558" y2="1595.5" stroke="#000" stroke-width="3" stroke-linecap="butt"/>
<text x="558" y="1620.8" font-size="26" font-weight="bold" text-anchor="middle" textLength="56.5" lengthAdjust="spacingAndGlyphs" fill="#000">3000</text>
<line x1="695.8" y1="1581" x2="695.8" y2="1595.5" stroke="#000" stroke-width="3" stroke-linecap="butt"/>
<text x="695.8" y="1620.8" font-size="26" font-weight="bold" text-anchor="middle" textLength="56.5" lengthAdjust="spacingAndGlyphs" fill="#000">4000</text>
<text x="420.8" y="1666.5" font-size="26" font-weight="bold" text-anchor="middle" textLength="91.5" lengthAdjust="spacingAndGlyphs" fill="#000">time (s)</text>
<text transform="translate(18.6,1398.5) rotate(-90)" font-size="26" font-weight="bold" text-anchor="middle" textLength="232" lengthAdjust="spacingAndGlyphs" fill="#000">cAMP accumulation</text>
<text transform="translate(49.6,1398.2) rotate(-90)" font-size="26" font-weight="bold" text-anchor="middle" textLength="68.7" lengthAdjust="spacingAndGlyphs" fill="#000">(RLU)</text>
<circle cx="144.7" cy="1556" r="3.6" fill="none" stroke="#999999" stroke-width="1.7"/>
<circle cx="153" cy="1523" r="3.6" fill="none" stroke="#999999" stroke-width="1.7"/>
<circle cx="161.2" cy="1486.2" r="3.6" fill="none" stroke="#999999" stroke-width="1.7"/>
<circle cx="169.5" cy="1461.4" r="3.6" fill="none" stroke="#999999" stroke-width="1.7"/>
<circle cx="177.8" cy="1458" r="3.6" fill="none" stroke="#999999" stroke-width="1.7"/>
<circle cx="186" cy="1455.2" r="3.6" fill="none" stroke="#999999" stroke-width="1.7"/>
<circle cx="194.3" cy="1463.9" r="3.6" fill="none" stroke="#999999" stroke-width="1.7"/>
<circle cx="202.6" cy="1476.6" r="3.6" fill="none" stroke="#999999" stroke-width="1.7"/>
<circle cx="210.8" cy="1487.6" r="3.6" fill="none" stroke="#999999" stroke-width="1.7"/>
<circle cx="219.1" cy="1497.9" r="3.6" fill="none" stroke="#999999" stroke-width="1.7"/>
<circle cx="227.4" cy="1507.6" r="3.6" fill="none" stroke="#999999" stroke-width="1.7"/>
<circle cx="235.6" cy="1513.8" r="3.6" fill="none" stroke="#999999" stroke-width="1.7"/>
<circle cx="243.9" cy="1521.2" r="3.6" fill="none" stroke="#999999" stroke-width="1.7"/>
<circle cx="252.2" cy="1526" r="3.6" fill="none" stroke="#999999" stroke-width="1.7"/>
<circle cx="260.4" cy="1530.9" r="3.6" fill="none" stroke="#999999" stroke-width="1.7"/>
<circle cx="268.7" cy="1534.6" r="3.6" fill="none" stroke="#999999" stroke-width="1.7"/>
<circle cx="277" cy="1537.8" r="3.6" fill="none" stroke="#999999" stroke-width="1.7"/>
<circle cx="285.2" cy="1540.3" r="3.6" fill="none" stroke="#999999" stroke-width="1.7"/>
<circle cx="293.5" cy="1542.3" r="3.6" fill="none" stroke="#999999" stroke-width="1.7"/>
<circle cx="301.8" cy="1543.7" r="3.6" fill="none" stroke="#999999" stroke-width="1.7"/>
<circle cx="310" cy="1545.6" r="3.6" fill="none" stroke="#999999" stroke-width="1.7"/>
<circle cx="318.3" cy="1546.7" r="3.6" fill="none" stroke="#999999" stroke-width="1.7"/>
<circle cx="326.6" cy="1547.3" r="3.6" fill="none" stroke="#999999" stroke-width="1.7"/>
<circle cx="334.8" cy="1547.7" r="3.6" fill="none" stroke="#999999" stroke-width="1.7"/>
<circle cx="343.1" cy="1548.1" r="3.6" fill="none" stroke="#999999" stroke-width="1.7"/>
<circle cx="351.4" cy="1548.5" r="3.6" fill="none" stroke="#999999" stroke-width="1.7"/>
<circle cx="359.6" cy="1549" r="3.6" fill="none" stroke="#999999" stroke-width="1.7"/>
<circle cx="367.9" cy="1549.4" r="3.6" fill="none" stroke="#999999" stroke-width="1.7"/>
<circle cx="376.2" cy="1549.8" r="3.6" fill="none" stroke="#999999" stroke-width="1.7"/>
<circle cx="384.4" cy="1550.2" r="3.6" fill="none" stroke="#999999" stroke-width="1.7"/>
<circle cx="392.7" cy="1550.6" r="3.6" fill="none" stroke="#999999" stroke-width="1.7"/>
<circle cx="401" cy="1551" r="3.6" fill="none" stroke="#999999" stroke-width="1.7"/>
<circle cx="409.2" cy="1551.4" r="3.6" fill="none" stroke="#999999" stroke-width="1.7"/>
<circle cx="417.5" cy="1551.8" r="3.6" fill="none" stroke="#999999" stroke-width="1.7"/>
<circle cx="425.8" cy="1552.3" r="3.6" fill="none" stroke="#999999" stroke-width="1.7"/>
<circle cx="434" cy="1552.7" r="3.6" fill="none" stroke="#999999" stroke-width="1.7"/>
<circle cx="442.3" cy="1553.1" r="3.6" fill="none" stroke="#999999" stroke-width="1.7"/>
<circle cx="450.6" cy="1553.5" r="3.6" fill="none" stroke="#999999" stroke-width="1.7"/>
<circle cx="458.8" cy="1553.9" r="3.6" fill="none" stroke="#999999" stroke-width="1.7"/>
<circle cx="467.1" cy="1554.3" r="3.6" fill="none" stroke="#999999" stroke-width="1.7"/>
<circle cx="475.4" cy="1554.7" r="3.6" fill="none" stroke="#999999" stroke-width="1.7"/>
<circle cx="483.6" cy="1555.1" r="3.6" fill="none" stroke="#999999" stroke-width="1.7"/>
<circle cx="491.9" cy="1555.6" r="3.6" fill="none" stroke="#999999" stroke-width="1.7"/>
<circle cx="500.2" cy="1556" r="3.6" fill="none" stroke="#999999" stroke-width="1.7"/>
<circle cx="508.4" cy="1556.4" r="3.6" fill="none" stroke="#999999" stroke-width="1.7"/>
<circle cx="516.7" cy="1556.8" r="3.6" fill="none" stroke="#999999" stroke-width="1.7"/>
<circle cx="525" cy="1557.3" r="3.6" fill="none" stroke="#999999" stroke-width="1.7"/>
<circle cx="533.2" cy="1557.7" r="3.6" fill="none" stroke="#999999" stroke-width="1.7"/>
<circle cx="541.5" cy="1558.2" r="3.6" fill="none" stroke="#999999" stroke-width="1.7"/>
<circle cx="549.8" cy="1558.7" r="3.6" fill="none" stroke="#999999" stroke-width="1.7"/>
<circle cx="558" cy="1559.1" r="3.6" fill="none" stroke="#999999" stroke-width="1.7"/>
<circle cx="566.3" cy="1559.6" r="3.6" fill="none" stroke="#999999" stroke-width="1.7"/>
<circle cx="574.6" cy="1560" r="3.6" fill="none" stroke="#999999" stroke-width="1.7"/>
<circle cx="582.8" cy="1560.5" r="3.6" fill="none" stroke="#999999" stroke-width="1.7"/>
<circle cx="591.1" cy="1561" r="3.6" fill="none" stroke="#999999" stroke-width="1.7"/>
<circle cx="599.4" cy="1561.4" r="3.6" fill="none" stroke="#999999" stroke-width="1.7"/>
<circle cx="607.6" cy="1561.9" r="3.6" fill="none" stroke="#999999" stroke-width="1.7"/>
<circle cx="615.9" cy="1562.4" r="3.6" fill="none" stroke="#999999" stroke-width="1.7"/>
<circle cx="624.2" cy="1562.8" r="3.6" fill="none" stroke="#999999" stroke-width="1.7"/>
<circle cx="632.4" cy="1563.3" r="3.6" fill="none" stroke="#999999" stroke-width="1.7"/>
<line x1="161.2" y1="1491.6" x2="161.2" y2="1490" stroke="#FF38E0" stroke-width="1.7" stroke-linecap="butt"/>
<line x1="157.8" y1="1490" x2="164.6" y2="1490" stroke="#FF38E0" stroke-width="1.7" stroke-linecap="butt"/>
<line x1="177.8" y1="1479.2" x2="177.8" y2="1478.5" stroke="#FF38E0" stroke-width="1.7" stroke-linecap="butt"/>
<line x1="174.4" y1="1478.5" x2="181.2" y2="1478.5" stroke="#FF38E0" stroke-width="1.7" stroke-linecap="butt"/>
<line x1="186" y1="1486.7" x2="186" y2="1485.5" stroke="#FF38E0" stroke-width="1.7" stroke-linecap="butt"/>
<line x1="182.6" y1="1485.5" x2="189.4" y2="1485.5" stroke="#FF38E0" stroke-width="1.7" stroke-linecap="butt"/>
<line x1="194.3" y1="1495.3" x2="194.3" y2="1494" stroke="#FF38E0" stroke-width="1.7" stroke-linecap="butt"/>
<line x1="190.9" y1="1494" x2="197.7" y2="1494" stroke="#FF38E0" stroke-width="1.7" stroke-linecap="butt"/>
<line x1="202.6" y1="1506.1" x2="202.6" y2="1505" stroke="#FF38E0" stroke-width="1.7" stroke-linecap="butt"/>
<line x1="199.2" y1="1505" x2="206" y2="1505" stroke="#FF38E0" stroke-width="1.7" stroke-linecap="butt"/>
<line x1="219.1" y1="1521.9" x2="219.1" y2="1521" stroke="#FF38E0" stroke-width="1.7" stroke-linecap="butt"/>
<line x1="215.7" y1="1521" x2="222.5" y2="1521" stroke="#FF38E0" stroke-width="1.7" stroke-linecap="butt"/>
<circle cx="144.7" cy="1556" r="3.6" fill="none" stroke="#FF38E0" stroke-width="1.7"/>
<circle cx="153" cy="1522.8" r="3.6" fill="none" stroke="#FF38E0" stroke-width="1.7"/>
<circle cx="161.2" cy="1495.2" r="3.6" fill="none" stroke="#FF38E0" stroke-width="1.7"/>
<circle cx="169.5" cy="1483.4" r="3.6" fill="none" stroke="#FF38E0" stroke-width="1.7"/>
<circle cx="177.8" cy="1482.8" r="3.6" fill="none" stroke="#FF38E0" stroke-width="1.7"/>
<circle cx="186" cy="1490.3" r="3.6" fill="none" stroke="#FF38E0" stroke-width="1.7"/>
<circle cx="194.3" cy="1498.9" r="3.6" fill="none" stroke="#FF38E0" stroke-width="1.7"/>
<circle cx="202.6" cy="1509.7" r="3.6" fill="none" stroke="#FF38E0" stroke-width="1.7"/>
<circle cx="210.8" cy="1519.3" r="3.6" fill="none" stroke="#FF38E0" stroke-width="1.7"/>
<circle cx="219.1" cy="1525.5" r="3.6" fill="none" stroke="#FF38E0" stroke-width="1.7"/>
<circle cx="227.4" cy="1533.4" r="3.6" fill="none" stroke="#FF38E0" stroke-width="1.7"/>
<circle cx="235.6" cy="1537.9" r="3.6" fill="none" stroke="#FF38E0" stroke-width="1.7"/>
<circle cx="243.9" cy="1542.1" r="3.6" fill="none" stroke="#FF38E0" stroke-width="1.7"/>
<circle cx="252.2" cy="1546.2" r="3.6" fill="none" stroke="#FF38E0" stroke-width="1.7"/>
<circle cx="260.4" cy="1549" r="3.6" fill="none" stroke="#FF38E0" stroke-width="1.7"/>
<circle cx="268.7" cy="1551.3" r="3.6" fill="none" stroke="#FF38E0" stroke-width="1.7"/>
<circle cx="277" cy="1553.1" r="3.6" fill="none" stroke="#FF38E0" stroke-width="1.7"/>
<circle cx="285.2" cy="1554.8" r="3.6" fill="none" stroke="#FF38E0" stroke-width="1.7"/>
<circle cx="293.5" cy="1556.3" r="3.6" fill="none" stroke="#FF38E0" stroke-width="1.7"/>
<circle cx="301.8" cy="1557.2" r="3.6" fill="none" stroke="#FF38E0" stroke-width="1.7"/>
<circle cx="310" cy="1558.2" r="3.6" fill="none" stroke="#FF38E0" stroke-width="1.7"/>
<circle cx="318.3" cy="1559.3" r="3.6" fill="none" stroke="#FF38E0" stroke-width="1.7"/>
<circle cx="326.6" cy="1559.7" r="3.6" fill="none" stroke="#FF38E0" stroke-width="1.7"/>
<circle cx="334.8" cy="1560" r="3.6" fill="none" stroke="#FF38E0" stroke-width="1.7"/>
<circle cx="343.1" cy="1560.3" r="3.6" fill="none" stroke="#FF38E0" stroke-width="1.7"/>
<circle cx="351.4" cy="1560.5" r="3.6" fill="none" stroke="#FF38E0" stroke-width="1.7"/>
<circle cx="359.6" cy="1560.8" r="3.6" fill="none" stroke="#FF38E0" stroke-width="1.7"/>
<circle cx="367.9" cy="1561.1" r="3.6" fill="none" stroke="#FF38E0" stroke-width="1.7"/>
<circle cx="376.2" cy="1561.4" r="3.6" fill="none" stroke="#FF38E0" stroke-width="1.7"/>
<circle cx="384.4" cy="1561.7" r="3.6" fill="none" stroke="#FF38E0" stroke-width="1.7"/>
<circle cx="392.7" cy="1562" r="3.6" fill="none" stroke="#FF38E0" stroke-width="1.7"/>
<circle cx="401" cy="1562.2" r="3.6" fill="none" stroke="#FF38E0" stroke-width="1.7"/>
<circle cx="409.2" cy="1562.5" r="3.6" fill="none" stroke="#FF38E0" stroke-width="1.7"/>
<circle cx="417.5" cy="1562.8" r="3.6" fill="none" stroke="#FF38E0" stroke-width="1.7"/>
<circle cx="425.8" cy="1563.1" r="3.6" fill="none" stroke="#FF38E0" stroke-width="1.7"/>
<circle cx="434" cy="1563.4" r="3.6" fill="none" stroke="#FF38E0" stroke-width="1.7"/>
<circle cx="442.3" cy="1563.7" r="3.6" fill="none" stroke="#FF38E0" stroke-width="1.7"/>
<circle cx="450.6" cy="1563.9" r="3.6" fill="none" stroke="#FF38E0" stroke-width="1.7"/>
<circle cx="458.8" cy="1564.2" r="3.6" fill="none" stroke="#FF38E0" stroke-width="1.7"/>
<circle cx="467.1" cy="1564.5" r="3.6" fill="none" stroke="#FF38E0" stroke-width="1.7"/>
<circle cx="475.4" cy="1564.8" r="3.6" fill="none" stroke="#FF38E0" stroke-width="1.7"/>
<circle cx="483.6" cy="1565.1" r="3.6" fill="none" stroke="#FF38E0" stroke-width="1.7"/>
<circle cx="491.9" cy="1565.4" r="3.6" fill="none" stroke="#FF38E0" stroke-width="1.7"/>
<circle cx="500.2" cy="1565.6" r="3.6" fill="none" stroke="#FF38E0" stroke-width="1.7"/>
<circle cx="508.4" cy="1565.9" r="3.6" fill="none" stroke="#FF38E0" stroke-width="1.7"/>
<circle cx="516.7" cy="1566.2" r="3.6" fill="none" stroke="#FF38E0" stroke-width="1.7"/>
<circle cx="525" cy="1566.5" r="3.6" fill="none" stroke="#FF38E0" stroke-width="1.7"/>
<circle cx="533.2" cy="1566.8" r="3.6" fill="none" stroke="#FF38E0" stroke-width="1.7"/>
<circle cx="541.5" cy="1567.1" r="3.6" fill="none" stroke="#FF38E0" stroke-width="1.7"/>
<circle cx="549.8" cy="1567.4" r="3.6" fill="none" stroke="#FF38E0" stroke-width="1.7"/>
<circle cx="558" cy="1567.7" r="3.6" fill="none" stroke="#FF38E0" stroke-width="1.7"/>
<circle cx="566.3" cy="1568" r="3.6" fill="none" stroke="#FF38E0" stroke-width="1.7"/>
<circle cx="574.6" cy="1568.2" r="3.6" fill="none" stroke="#FF38E0" stroke-width="1.7"/>
<circle cx="582.8" cy="1568.5" r="3.6" fill="none" stroke="#FF38E0" stroke-width="1.7"/>
<circle cx="591.1" cy="1568.8" r="3.6" fill="none" stroke="#FF38E0" stroke-width="1.7"/>
<circle cx="599.4" cy="1569.1" r="3.6" fill="none" stroke="#FF38E0" stroke-width="1.7"/>
<circle cx="607.6" cy="1569.4" r="3.6" fill="none" stroke="#FF38E0" stroke-width="1.7"/>
<circle cx="615.9" cy="1569.7" r="3.6" fill="none" stroke="#FF38E0" stroke-width="1.7"/>
<circle cx="624.2" cy="1570" r="3.6" fill="none" stroke="#FF38E0" stroke-width="1.7"/>
<circle cx="632.4" cy="1570.3" r="3.6" fill="none" stroke="#FF38E0" stroke-width="1.7"/>
<circle cx="144.7" cy="1555.5" r="3.6" fill="none" stroke="#33EE9E" stroke-width="1.7"/>
<circle cx="153" cy="1518.5" r="3.6" fill="none" stroke="#33EE9E" stroke-width="1.7"/>
<circle cx="161.2" cy="1476.6" r="3.6" fill="none" stroke="#33EE9E" stroke-width="1.7"/>
<circle cx="169.5" cy="1454.5" r="3.6" fill="none" stroke="#33EE9E" stroke-width="1.7"/>
<circle cx="177.8" cy="1451.7" r="3.6" fill="none" stroke="#33EE9E" stroke-width="1.7"/>
<circle cx="186" cy="1459.7" r="3.6" fill="none" stroke="#33EE9E" stroke-width="1.7"/>
<circle cx="194.3" cy="1471.7" r="3.6" fill="none" stroke="#33EE9E" stroke-width="1.7"/>
<circle cx="202.6" cy="1484.1" r="3.6" fill="none" stroke="#33EE9E" stroke-width="1.7"/>
<circle cx="210.8" cy="1496.6" r="3.6" fill="none" stroke="#33EE9E" stroke-width="1.7"/>
<circle cx="219.1" cy="1507.6" r="3.6" fill="none" stroke="#33EE9E" stroke-width="1.7"/>
<circle cx="227.4" cy="1517.2" r="3.6" fill="none" stroke="#33EE9E" stroke-width="1.7"/>
<circle cx="235.6" cy="1524.4" r="3.6" fill="none" stroke="#33EE9E" stroke-width="1.7"/>
<circle cx="243.9" cy="1531.3" r="3.6" fill="none" stroke="#33EE9E" stroke-width="1.7"/>
<circle cx="252.2" cy="1536.3" r="3.6" fill="none" stroke="#33EE9E" stroke-width="1.7"/>
<circle cx="260.4" cy="1540.3" r="3.6" fill="none" stroke="#33EE9E" stroke-width="1.7"/>
<circle cx="268.7" cy="1543.9" r="3.6" fill="none" stroke="#33EE9E" stroke-width="1.7"/>
<circle cx="277" cy="1546.9" r="3.6" fill="none" stroke="#33EE9E" stroke-width="1.7"/>
<circle cx="285.2" cy="1549" r="3.6" fill="none" stroke="#33EE9E" stroke-width="1.7"/>
<circle cx="293.5" cy="1550.6" r="3.6" fill="none" stroke="#33EE9E" stroke-width="1.7"/>
<circle cx="301.8" cy="1552.4" r="3.6" fill="none" stroke="#33EE9E" stroke-width="1.7"/>
<circle cx="310" cy="1554.1" r="3.6" fill="none" stroke="#33EE9E" stroke-width="1.7"/>
<circle cx="318.3" cy="1555.2" r="3.6" fill="none" stroke="#33EE9E" stroke-width="1.7"/>
<circle cx="326.6" cy="1556" r="3.6" fill="none" stroke="#33EE9E" stroke-width="1.7"/>
<circle cx="334.8" cy="1556.3" r="3.6" fill="none" stroke="#33EE9E" stroke-width="1.7"/>
<circle cx="343.1" cy="1556.6" r="3.6" fill="none" stroke="#33EE9E" stroke-width="1.7"/>
<circle cx="351.4" cy="1556.8" r="3.6" fill="none" stroke="#33EE9E" stroke-width="1.7"/>
<circle cx="359.6" cy="1557.1" r="3.6" fill="none" stroke="#33EE9E" stroke-width="1.7"/>
<circle cx="367.9" cy="1557.4" r="3.6" fill="none" stroke="#33EE9E" stroke-width="1.7"/>
<circle cx="376.2" cy="1557.7" r="3.6" fill="none" stroke="#33EE9E" stroke-width="1.7"/>
<circle cx="384.4" cy="1558" r="3.6" fill="none" stroke="#33EE9E" stroke-width="1.7"/>
<circle cx="392.7" cy="1558.3" r="3.6" fill="none" stroke="#33EE9E" stroke-width="1.7"/>
<circle cx="401" cy="1558.5" r="3.6" fill="none" stroke="#33EE9E" stroke-width="1.7"/>
<circle cx="409.2" cy="1558.8" r="3.6" fill="none" stroke="#33EE9E" stroke-width="1.7"/>
<circle cx="417.5" cy="1559.1" r="3.6" fill="none" stroke="#33EE9E" stroke-width="1.7"/>
<circle cx="425.8" cy="1559.4" r="3.6" fill="none" stroke="#33EE9E" stroke-width="1.7"/>
<circle cx="434" cy="1559.7" r="3.6" fill="none" stroke="#33EE9E" stroke-width="1.7"/>
<circle cx="442.3" cy="1560" r="3.6" fill="none" stroke="#33EE9E" stroke-width="1.7"/>
<circle cx="450.6" cy="1560.2" r="3.6" fill="none" stroke="#33EE9E" stroke-width="1.7"/>
<circle cx="458.8" cy="1560.5" r="3.6" fill="none" stroke="#33EE9E" stroke-width="1.7"/>
<circle cx="467.1" cy="1560.8" r="3.6" fill="none" stroke="#33EE9E" stroke-width="1.7"/>
<circle cx="475.4" cy="1561.1" r="3.6" fill="none" stroke="#33EE9E" stroke-width="1.7"/>
<circle cx="483.6" cy="1561.4" r="3.6" fill="none" stroke="#33EE9E" stroke-width="1.7"/>
<circle cx="491.9" cy="1561.7" r="3.6" fill="none" stroke="#33EE9E" stroke-width="1.7"/>
<circle cx="500.2" cy="1561.9" r="3.6" fill="none" stroke="#33EE9E" stroke-width="1.7"/>
<circle cx="508.4" cy="1562.2" r="3.6" fill="none" stroke="#33EE9E" stroke-width="1.7"/>
<circle cx="516.7" cy="1562.5" r="3.6" fill="none" stroke="#33EE9E" stroke-width="1.7"/>
<circle cx="525" cy="1562.9" r="3.6" fill="none" stroke="#33EE9E" stroke-width="1.7"/>
<circle cx="533.2" cy="1563.3" r="3.6" fill="none" stroke="#33EE9E" stroke-width="1.7"/>
<circle cx="541.5" cy="1563.7" r="3.6" fill="none" stroke="#33EE9E" stroke-width="1.7"/>
<circle cx="549.8" cy="1564.2" r="3.6" fill="none" stroke="#33EE9E" stroke-width="1.7"/>
<circle cx="558" cy="1564.6" r="3.6" fill="none" stroke="#33EE9E" stroke-width="1.7"/>
<circle cx="566.3" cy="1565" r="3.6" fill="none" stroke="#33EE9E" stroke-width="1.7"/>
<circle cx="574.6" cy="1565.4" r="3.6" fill="none" stroke="#33EE9E" stroke-width="1.7"/>
<circle cx="582.8" cy="1565.8" r="3.6" fill="none" stroke="#33EE9E" stroke-width="1.7"/>
<circle cx="591.1" cy="1566.2" r="3.6" fill="none" stroke="#33EE9E" stroke-width="1.7"/>
<circle cx="599.4" cy="1566.6" r="3.6" fill="none" stroke="#33EE9E" stroke-width="1.7"/>
<circle cx="607.6" cy="1567.1" r="3.6" fill="none" stroke="#33EE9E" stroke-width="1.7"/>
<circle cx="615.9" cy="1567.5" r="3.6" fill="none" stroke="#33EE9E" stroke-width="1.7"/>
<circle cx="624.2" cy="1567.9" r="3.6" fill="none" stroke="#33EE9E" stroke-width="1.7"/>
<circle cx="632.4" cy="1568.3" r="3.6" fill="none" stroke="#33EE9E" stroke-width="1.7"/>
<line x1="161.2" y1="1479.8" x2="161.2" y2="1476" stroke="#009557" stroke-width="1.7" stroke-linecap="butt"/>
<line x1="157.8" y1="1476" x2="164.6" y2="1476" stroke="#009557" stroke-width="1.7" stroke-linecap="butt"/>
<line x1="169.5" y1="1454.3" x2="169.5" y2="1450.3" stroke="#009557" stroke-width="1.7" stroke-linecap="butt"/>
<line x1="166.1" y1="1450.3" x2="172.9" y2="1450.3" stroke="#009557" stroke-width="1.7" stroke-linecap="butt"/>
<line x1="177.8" y1="1451.3" x2="177.8" y2="1441.8" stroke="#009557" stroke-width="1.7" stroke-linecap="butt"/>
<line x1="174.4" y1="1441.8" x2="181.2" y2="1441.8" stroke="#009557" stroke-width="1.7" stroke-linecap="butt"/>
<line x1="186" y1="1447.4" x2="186" y2="1445.9" stroke="#009557" stroke-width="1.7" stroke-linecap="butt"/>
<line x1="182.6" y1="1445.9" x2="189.4" y2="1445.9" stroke="#009557" stroke-width="1.7" stroke-linecap="butt"/>
<line x1="227.4" y1="1499.6" x2="227.4" y2="1498" stroke="#009557" stroke-width="1.7" stroke-linecap="butt"/>
<line x1="224" y1="1498" x2="230.8" y2="1498" stroke="#009557" stroke-width="1.7" stroke-linecap="butt"/>
<line x1="235.6" y1="1506.7" x2="235.6" y2="1505.1" stroke="#009557" stroke-width="1.7" stroke-linecap="butt"/>
<line x1="232.2" y1="1505.1" x2="239" y2="1505.1" stroke="#009557" stroke-width="1.7" stroke-linecap="butt"/>
<line x1="243.9" y1="1515" x2="243.9" y2="1513.4" stroke="#009557" stroke-width="1.7" stroke-linecap="butt"/>
<line x1="240.5" y1="1513.4" x2="247.3" y2="1513.4" stroke="#009557" stroke-width="1.7" stroke-linecap="butt"/>
<line x1="252.2" y1="1519.8" x2="252.2" y2="1518.2" stroke="#009557" stroke-width="1.7" stroke-linecap="butt"/>
<line x1="248.8" y1="1518.2" x2="255.6" y2="1518.2" stroke="#009557" stroke-width="1.7" stroke-linecap="butt"/>
<line x1="260.4" y1="1524.7" x2="260.4" y2="1523.1" stroke="#009557" stroke-width="1.7" stroke-linecap="butt"/>
<line x1="257" y1="1523.1" x2="263.8" y2="1523.1" stroke="#009557" stroke-width="1.7" stroke-linecap="butt"/>
<line x1="268.7" y1="1528.4" x2="268.7" y2="1526.8" stroke="#009557" stroke-width="1.7" stroke-linecap="butt"/>
<line x1="265.3" y1="1526.8" x2="272.1" y2="1526.8" stroke="#009557" stroke-width="1.7" stroke-linecap="butt"/>
<line x1="277" y1="1531.6" x2="277" y2="1530" stroke="#009557" stroke-width="1.7" stroke-linecap="butt"/>
<line x1="273.6" y1="1530" x2="280.4" y2="1530" stroke="#009557" stroke-width="1.7" stroke-linecap="butt"/>
<line x1="285.2" y1="1534.1" x2="285.2" y2="1532.5" stroke="#009557" stroke-width="1.7" stroke-linecap="butt"/>
<line x1="281.8" y1="1532.5" x2="288.6" y2="1532.5" stroke="#009557" stroke-width="1.7" stroke-linecap="butt"/>
<line x1="293.5" y1="1536.1" x2="293.5" y2="1534.5" stroke="#009557" stroke-width="1.7" stroke-linecap="butt"/>
<line x1="290.1" y1="1534.5" x2="296.9" y2="1534.5" stroke="#009557" stroke-width="1.7" stroke-linecap="butt"/>
<line x1="301.8" y1="1537.5" x2="301.8" y2="1535.9" stroke="#009557" stroke-width="1.7" stroke-linecap="butt"/>
<line x1="298.4" y1="1535.9" x2="305.2" y2="1535.9" stroke="#009557" stroke-width="1.7" stroke-linecap="butt"/>
<line x1="310" y1="1539.4" x2="310" y2="1537.8" stroke="#009557" stroke-width="1.7" stroke-linecap="butt"/>
<line x1="306.6" y1="1537.8" x2="313.4" y2="1537.8" stroke="#009557" stroke-width="1.7" stroke-linecap="butt"/>
<line x1="318.3" y1="1540.5" x2="318.3" y2="1538.9" stroke="#009557" stroke-width="1.7" stroke-linecap="butt"/>
<line x1="314.9" y1="1538.9" x2="321.7" y2="1538.9" stroke="#009557" stroke-width="1.7" stroke-linecap="butt"/>
<line x1="326.6" y1="1541.1" x2="326.6" y2="1539.5" stroke="#009557" stroke-width="1.7" stroke-linecap="butt"/>
<line x1="323.2" y1="1539.5" x2="330" y2="1539.5" stroke="#009557" stroke-width="1.7" stroke-linecap="butt"/>
<line x1="334.8" y1="1541.5" x2="334.8" y2="1539.9" stroke="#009557" stroke-width="1.7" stroke-linecap="butt"/>
<line x1="331.4" y1="1539.9" x2="338.2" y2="1539.9" stroke="#009557" stroke-width="1.7" stroke-linecap="butt"/>
<line x1="343.1" y1="1541.9" x2="343.1" y2="1540.3" stroke="#009557" stroke-width="1.7" stroke-linecap="butt"/>
<line x1="339.7" y1="1540.3" x2="346.5" y2="1540.3" stroke="#009557" stroke-width="1.7" stroke-linecap="butt"/>
<line x1="351.4" y1="1542.3" x2="351.4" y2="1540.7" stroke="#009557" stroke-width="1.7" stroke-linecap="butt"/>
<line x1="348" y1="1540.7" x2="354.8" y2="1540.7" stroke="#009557" stroke-width="1.7" stroke-linecap="butt"/>
<line x1="359.6" y1="1542.8" x2="359.6" y2="1541.2" stroke="#009557" stroke-width="1.7" stroke-linecap="butt"/>
<line x1="356.2" y1="1541.2" x2="363" y2="1541.2" stroke="#009557" stroke-width="1.7" stroke-linecap="butt"/>
<line x1="367.9" y1="1543.2" x2="367.9" y2="1541.6" stroke="#009557" stroke-width="1.7" stroke-linecap="butt"/>
<line x1="364.5" y1="1541.6" x2="371.3" y2="1541.6" stroke="#009557" stroke-width="1.7" stroke-linecap="butt"/>
<line x1="376.2" y1="1543.6" x2="376.2" y2="1542" stroke="#009557" stroke-width="1.7" stroke-linecap="butt"/>
<line x1="372.8" y1="1542" x2="379.6" y2="1542" stroke="#009557" stroke-width="1.7" stroke-linecap="butt"/>
<line x1="384.4" y1="1544" x2="384.4" y2="1542.4" stroke="#009557" stroke-width="1.7" stroke-linecap="butt"/>
<line x1="381" y1="1542.4" x2="387.8" y2="1542.4" stroke="#009557" stroke-width="1.7" stroke-linecap="butt"/>
<line x1="392.7" y1="1544.4" x2="392.7" y2="1542.8" stroke="#009557" stroke-width="1.7" stroke-linecap="butt"/>
<line x1="389.3" y1="1542.8" x2="396.1" y2="1542.8" stroke="#009557" stroke-width="1.7" stroke-linecap="butt"/>
<line x1="401" y1="1544.8" x2="401" y2="1543.2" stroke="#009557" stroke-width="1.7" stroke-linecap="butt"/>
<line x1="397.6" y1="1543.2" x2="404.4" y2="1543.2" stroke="#009557" stroke-width="1.7" stroke-linecap="butt"/>
<line x1="409.2" y1="1545.2" x2="409.2" y2="1543.6" stroke="#009557" stroke-width="1.7" stroke-linecap="butt"/>
<line x1="405.8" y1="1543.6" x2="412.6" y2="1543.6" stroke="#009557" stroke-width="1.7" stroke-linecap="butt"/>
<line x1="417.5" y1="1545.6" x2="417.5" y2="1544" stroke="#009557" stroke-width="1.7" stroke-linecap="butt"/>
<line x1="414.1" y1="1544" x2="420.9" y2="1544" stroke="#009557" stroke-width="1.7" stroke-linecap="butt"/>
<line x1="425.8" y1="1546.1" x2="425.8" y2="1544.5" stroke="#009557" stroke-width="1.7" stroke-linecap="butt"/>
<line x1="422.4" y1="1544.5" x2="429.2" y2="1544.5" stroke="#009557" stroke-width="1.7" stroke-linecap="butt"/>
<line x1="434" y1="1546.5" x2="434" y2="1544.9" stroke="#009557" stroke-width="1.7" stroke-linecap="butt"/>
<line x1="430.6" y1="1544.9" x2="437.4" y2="1544.9" stroke="#009557" stroke-width="1.7" stroke-linecap="butt"/>
<line x1="442.3" y1="1546.9" x2="442.3" y2="1545.3" stroke="#009557" stroke-width="1.7" stroke-linecap="butt"/>
<line x1="438.9" y1="1545.3" x2="445.7" y2="1545.3" stroke="#009557" stroke-width="1.7" stroke-linecap="butt"/>
<line x1="450.6" y1="1547.3" x2="450.6" y2="1545.7" stroke="#009557" stroke-width="1.7" stroke-linecap="butt"/>
<line x1="447.2" y1="1545.7" x2="454" y2="1545.7" stroke="#009557" stroke-width="1.7" stroke-linecap="butt"/>
<line x1="458.8" y1="1547.7" x2="458.8" y2="1546.1" stroke="#009557" stroke-width="1.7" stroke-linecap="butt"/>
<line x1="455.4" y1="1546.1" x2="462.2" y2="1546.1" stroke="#009557" stroke-width="1.7" stroke-linecap="butt"/>
<line x1="467.1" y1="1548.1" x2="467.1" y2="1546.5" stroke="#009557" stroke-width="1.7" stroke-linecap="butt"/>
<line x1="463.7" y1="1546.5" x2="470.5" y2="1546.5" stroke="#009557" stroke-width="1.7" stroke-linecap="butt"/>
<line x1="475.4" y1="1548.5" x2="475.4" y2="1546.9" stroke="#009557" stroke-width="1.7" stroke-linecap="butt"/>
<line x1="472" y1="1546.9" x2="478.8" y2="1546.9" stroke="#009557" stroke-width="1.7" stroke-linecap="butt"/>
<line x1="483.6" y1="1548.9" x2="483.6" y2="1547.3" stroke="#009557" stroke-width="1.7" stroke-linecap="butt"/>
<line x1="480.2" y1="1547.3" x2="487" y2="1547.3" stroke="#009557" stroke-width="1.7" stroke-linecap="butt"/>
<line x1="491.9" y1="1549.4" x2="491.9" y2="1547.8" stroke="#009557" stroke-width="1.7" stroke-linecap="butt"/>
<line x1="488.5" y1="1547.8" x2="495.3" y2="1547.8" stroke="#009557" stroke-width="1.7" stroke-linecap="butt"/>
<line x1="500.2" y1="1549.8" x2="500.2" y2="1548.2" stroke="#009557" stroke-width="1.7" stroke-linecap="butt"/>
<line x1="496.8" y1="1548.2" x2="503.6" y2="1548.2" stroke="#009557" stroke-width="1.7" stroke-linecap="butt"/>
<line x1="508.4" y1="1550.2" x2="508.4" y2="1548.6" stroke="#009557" stroke-width="1.7" stroke-linecap="butt"/>
<line x1="505" y1="1548.6" x2="511.8" y2="1548.6" stroke="#009557" stroke-width="1.7" stroke-linecap="butt"/>
<line x1="516.7" y1="1550.6" x2="516.7" y2="1549" stroke="#009557" stroke-width="1.7" stroke-linecap="butt"/>
<line x1="513.3" y1="1549" x2="520.1" y2="1549" stroke="#009557" stroke-width="1.7" stroke-linecap="butt"/>
<line x1="525" y1="1551.1" x2="525" y2="1549.5" stroke="#009557" stroke-width="1.7" stroke-linecap="butt"/>
<line x1="521.6" y1="1549.5" x2="528.4" y2="1549.5" stroke="#009557" stroke-width="1.7" stroke-linecap="butt"/>
<line x1="533.2" y1="1551.5" x2="533.2" y2="1549.9" stroke="#009557" stroke-width="1.7" stroke-linecap="butt"/>
<line x1="529.8" y1="1549.9" x2="536.6" y2="1549.9" stroke="#009557" stroke-width="1.7" stroke-linecap="butt"/>
<line x1="541.5" y1="1552" x2="541.5" y2="1550.4" stroke="#009557" stroke-width="1.7" stroke-linecap="butt"/>
<line x1="538.1" y1="1550.4" x2="544.9" y2="1550.4" stroke="#009557" stroke-width="1.7" stroke-linecap="butt"/>
<line x1="549.8" y1="1552.5" x2="549.8" y2="1550.9" stroke="#009557" stroke-width="1.7" stroke-linecap="butt"/>
<line x1="546.4" y1="1550.9" x2="553.2" y2="1550.9" stroke="#009557" stroke-width="1.7" stroke-linecap="butt"/>
<line x1="558" y1="1552.9" x2="558" y2="1551.3" stroke="#009557" stroke-width="1.7" stroke-linecap="butt"/>
<line x1="554.6" y1="1551.3" x2="561.4" y2="1551.3" stroke="#009557" stroke-width="1.7" stroke-linecap="butt"/>
<line x1="566.3" y1="1553.4" x2="566.3" y2="1551.8" stroke="#009557" stroke-width="1.7" stroke-linecap="butt"/>
<line x1="562.9" y1="1551.8" x2="569.7" y2="1551.8" stroke="#009557" stroke-width="1.7" stroke-linecap="butt"/>
<line x1="574.6" y1="1553.9" x2="574.6" y2="1552.2" stroke="#009557" stroke-width="1.7" stroke-linecap="butt"/>
<line x1="571.2" y1="1552.2" x2="578" y2="1552.2" stroke="#009557" stroke-width="1.7" stroke-linecap="butt"/>
<line x1="582.8" y1="1554.3" x2="582.8" y2="1552.7" stroke="#009557" stroke-width="1.7" stroke-linecap="butt"/>
<line x1="579.4" y1="1552.7" x2="586.2" y2="1552.7" stroke="#009557" stroke-width="1.7" stroke-linecap="butt"/>
<line x1="591.1" y1="1554.8" x2="591.1" y2="1553.2" stroke="#009557" stroke-width="1.7" stroke-linecap="butt"/>
<line x1="587.7" y1="1553.2" x2="594.5" y2="1553.2" stroke="#009557" stroke-width="1.7" stroke-linecap="butt"/>
<line x1="599.4" y1="1555.2" x2="599.4" y2="1553.6" stroke="#009557" stroke-width="1.7" stroke-linecap="butt"/>
<line x1="596" y1="1553.6" x2="602.8" y2="1553.6" stroke="#009557" stroke-width="1.7" stroke-linecap="butt"/>
<line x1="607.6" y1="1555.7" x2="607.6" y2="1554.1" stroke="#009557" stroke-width="1.7" stroke-linecap="butt"/>
<line x1="604.2" y1="1554.1" x2="611" y2="1554.1" stroke="#009557" stroke-width="1.7" stroke-linecap="butt"/>
<line x1="615.9" y1="1556.2" x2="615.9" y2="1554.6" stroke="#009557" stroke-width="1.7" stroke-linecap="butt"/>
<line x1="612.5" y1="1554.6" x2="619.3" y2="1554.6" stroke="#009557" stroke-width="1.7" stroke-linecap="butt"/>
<line x1="624.2" y1="1556.6" x2="624.2" y2="1555" stroke="#009557" stroke-width="1.7" stroke-linecap="butt"/>
<line x1="620.8" y1="1555" x2="627.6" y2="1555" stroke="#009557" stroke-width="1.7" stroke-linecap="butt"/>
<line x1="632.4" y1="1557.1" x2="632.4" y2="1555.5" stroke="#009557" stroke-width="1.7" stroke-linecap="butt"/>
<line x1="629" y1="1555.5" x2="635.8" y2="1555.5" stroke="#009557" stroke-width="1.7" stroke-linecap="butt"/>
<circle cx="144.7" cy="1553.1" r="3.6" fill="none" stroke="#009557" stroke-width="1.7"/>
<circle cx="153" cy="1520" r="3.6" fill="none" stroke="#009557" stroke-width="1.7"/>
<circle cx="161.2" cy="1483.4" r="3.6" fill="none" stroke="#009557" stroke-width="1.7"/>
<circle cx="169.5" cy="1457.9" r="3.6" fill="none" stroke="#009557" stroke-width="1.7"/>
<circle cx="177.8" cy="1454.9" r="3.6" fill="none" stroke="#009557" stroke-width="1.7"/>
<circle cx="186" cy="1451" r="3.6" fill="none" stroke="#009557" stroke-width="1.7"/>
<circle cx="194.3" cy="1460.7" r="3.6" fill="none" stroke="#009557" stroke-width="1.7"/>
<circle cx="202.6" cy="1472.7" r="3.6" fill="none" stroke="#009557" stroke-width="1.7"/>
<circle cx="210.8" cy="1483.2" r="3.6" fill="none" stroke="#009557" stroke-width="1.7"/>
<circle cx="219.1" cy="1493.1" r="3.6" fill="none" stroke="#009557" stroke-width="1.7"/>
<circle cx="227.4" cy="1503.2" r="3.6" fill="none" stroke="#009557" stroke-width="1.7"/>
<circle cx="235.6" cy="1510.3" r="3.6" fill="none" stroke="#009557" stroke-width="1.7"/>
<circle cx="243.9" cy="1518.6" r="3.6" fill="none" stroke="#009557" stroke-width="1.7"/>
<circle cx="252.2" cy="1523.4" r="3.6" fill="none" stroke="#009557" stroke-width="1.7"/>
<circle cx="260.4" cy="1528.3" r="3.6" fill="none" stroke="#009557" stroke-width="1.7"/>
<circle cx="268.7" cy="1532" r="3.6" fill="none" stroke="#009557" stroke-width="1.7"/>
<circle cx="277" cy="1535.2" r="3.6" fill="none" stroke="#009557" stroke-width="1.7"/>
<circle cx="285.2" cy="1537.7" r="3.6" fill="none" stroke="#009557" stroke-width="1.7"/>
<circle cx="293.5" cy="1539.7" r="3.6" fill="none" stroke="#009557" stroke-width="1.7"/>
<circle cx="301.8" cy="1541.1" r="3.6" fill="none" stroke="#009557" stroke-width="1.7"/>
<circle cx="310" cy="1543" r="3.6" fill="none" stroke="#009557" stroke-width="1.7"/>
<circle cx="318.3" cy="1544.1" r="3.6" fill="none" stroke="#009557" stroke-width="1.7"/>
<circle cx="326.6" cy="1544.7" r="3.6" fill="none" stroke="#009557" stroke-width="1.7"/>
<circle cx="334.8" cy="1545.1" r="3.6" fill="none" stroke="#009557" stroke-width="1.7"/>
<circle cx="343.1" cy="1545.5" r="3.6" fill="none" stroke="#009557" stroke-width="1.7"/>
<circle cx="351.4" cy="1545.9" r="3.6" fill="none" stroke="#009557" stroke-width="1.7"/>
<circle cx="359.6" cy="1546.4" r="3.6" fill="none" stroke="#009557" stroke-width="1.7"/>
<circle cx="367.9" cy="1546.8" r="3.6" fill="none" stroke="#009557" stroke-width="1.7"/>
<circle cx="376.2" cy="1547.2" r="3.6" fill="none" stroke="#009557" stroke-width="1.7"/>
<circle cx="384.4" cy="1547.6" r="3.6" fill="none" stroke="#009557" stroke-width="1.7"/>
<circle cx="392.7" cy="1548" r="3.6" fill="none" stroke="#009557" stroke-width="1.7"/>
<circle cx="401" cy="1548.4" r="3.6" fill="none" stroke="#009557" stroke-width="1.7"/>
<circle cx="409.2" cy="1548.8" r="3.6" fill="none" stroke="#009557" stroke-width="1.7"/>
<circle cx="417.5" cy="1549.2" r="3.6" fill="none" stroke="#009557" stroke-width="1.7"/>
<circle cx="425.8" cy="1549.7" r="3.6" fill="none" stroke="#009557" stroke-width="1.7"/>
<circle cx="434" cy="1550.1" r="3.6" fill="none" stroke="#009557" stroke-width="1.7"/>
<circle cx="442.3" cy="1550.5" r="3.6" fill="none" stroke="#009557" stroke-width="1.7"/>
<circle cx="450.6" cy="1550.9" r="3.6" fill="none" stroke="#009557" stroke-width="1.7"/>
<circle cx="458.8" cy="1551.3" r="3.6" fill="none" stroke="#009557" stroke-width="1.7"/>
<circle cx="467.1" cy="1551.7" r="3.6" fill="none" stroke="#009557" stroke-width="1.7"/>
<circle cx="475.4" cy="1552.1" r="3.6" fill="none" stroke="#009557" stroke-width="1.7"/>
<circle cx="483.6" cy="1552.5" r="3.6" fill="none" stroke="#009557" stroke-width="1.7"/>
<circle cx="491.9" cy="1553" r="3.6" fill="none" stroke="#009557" stroke-width="1.7"/>
<circle cx="500.2" cy="1553.4" r="3.6" fill="none" stroke="#009557" stroke-width="1.7"/>
<circle cx="508.4" cy="1553.8" r="3.6" fill="none" stroke="#009557" stroke-width="1.7"/>
<circle cx="516.7" cy="1554.2" r="3.6" fill="none" stroke="#009557" stroke-width="1.7"/>
<circle cx="525" cy="1554.7" r="3.6" fill="none" stroke="#009557" stroke-width="1.7"/>
<circle cx="533.2" cy="1555.1" r="3.6" fill="none" stroke="#009557" stroke-width="1.7"/>
<circle cx="541.5" cy="1555.6" r="3.6" fill="none" stroke="#009557" stroke-width="1.7"/>
<circle cx="549.8" cy="1556.1" r="3.6" fill="none" stroke="#009557" stroke-width="1.7"/>
<circle cx="558" cy="1556.5" r="3.6" fill="none" stroke="#009557" stroke-width="1.7"/>
<circle cx="566.3" cy="1557" r="3.6" fill="none" stroke="#009557" stroke-width="1.7"/>
<circle cx="574.6" cy="1557.5" r="3.6" fill="none" stroke="#009557" stroke-width="1.7"/>
<circle cx="582.8" cy="1557.9" r="3.6" fill="none" stroke="#009557" stroke-width="1.7"/>
<circle cx="591.1" cy="1558.4" r="3.6" fill="none" stroke="#009557" stroke-width="1.7"/>
<circle cx="599.4" cy="1558.8" r="3.6" fill="none" stroke="#009557" stroke-width="1.7"/>
<circle cx="607.6" cy="1559.3" r="3.6" fill="none" stroke="#009557" stroke-width="1.7"/>
<circle cx="615.9" cy="1559.8" r="3.6" fill="none" stroke="#009557" stroke-width="1.7"/>
<circle cx="624.2" cy="1560.2" r="3.6" fill="none" stroke="#009557" stroke-width="1.7"/>
<circle cx="632.4" cy="1560.7" r="3.6" fill="none" stroke="#009557" stroke-width="1.7"/>
<line x1="144.7" y1="1548.8" x2="144.7" y2="1548.3" stroke="#FF2E3A" stroke-width="1.7" stroke-linecap="butt"/>
<line x1="141.3" y1="1548.3" x2="148.1" y2="1548.3" stroke="#FF2E3A" stroke-width="1.7" stroke-linecap="butt"/>
<line x1="153" y1="1505.4" x2="153" y2="1500.7" stroke="#FF2E3A" stroke-width="1.7" stroke-linecap="butt"/>
<line x1="149.6" y1="1500.7" x2="156.4" y2="1500.7" stroke="#FF2E3A" stroke-width="1.7" stroke-linecap="butt"/>
<line x1="169.5" y1="1398.5" x2="169.5" y2="1397" stroke="#FF2E3A" stroke-width="1.7" stroke-linecap="butt"/>
<line x1="166.1" y1="1397" x2="172.9" y2="1397" stroke="#FF2E3A" stroke-width="1.7" stroke-linecap="butt"/>
<line x1="177.8" y1="1359.7" x2="177.8" y2="1359.1" stroke="#FF2E3A" stroke-width="1.7" stroke-linecap="butt"/>
<line x1="174.4" y1="1359.1" x2="181.2" y2="1359.1" stroke="#FF2E3A" stroke-width="1.7" stroke-linecap="butt"/>
<line x1="190.9" y1="1334" x2="197.7" y2="1334" stroke="#FF2E3A" stroke-width="1.7" stroke-linecap="butt"/>
<line x1="199.2" y1="1342.6" x2="206" y2="1342.6" stroke="#FF2E3A" stroke-width="1.7" stroke-linecap="butt"/>
<line x1="210.8" y1="1358.3" x2="210.8" y2="1357.1" stroke="#FF2E3A" stroke-width="1.7" stroke-linecap="butt"/>
<line x1="207.4" y1="1357.1" x2="214.2" y2="1357.1" stroke="#FF2E3A" stroke-width="1.7" stroke-linecap="butt"/>
<line x1="219.1" y1="1379.8" x2="219.1" y2="1379.1" stroke="#FF2E3A" stroke-width="1.7" stroke-linecap="butt"/>
<line x1="215.7" y1="1379.1" x2="222.5" y2="1379.1" stroke="#FF2E3A" stroke-width="1.7" stroke-linecap="butt"/>
<circle cx="144.7" cy="1552.4" r="3.6" fill="none" stroke="#FF2E3A" stroke-width="1.7"/>
<circle cx="153" cy="1509" r="3.6" fill="none" stroke="#FF2E3A" stroke-width="1.7"/>
<circle cx="161.2" cy="1453.1" r="3.6" fill="none" stroke="#FF2E3A" stroke-width="1.7"/>
<circle cx="169.5" cy="1402.1" r="3.6" fill="none" stroke="#FF2E3A" stroke-width="1.7"/>
<circle cx="177.8" cy="1363.3" r="3.6" fill="none" stroke="#FF2E3A" stroke-width="1.7"/>
<circle cx="186" cy="1341.2" r="3.6" fill="none" stroke="#FF2E3A" stroke-width="1.7"/>
<circle cx="194.3" cy="1337.8" r="3.6" fill="none" stroke="#FF2E3A" stroke-width="1.7"/>
<circle cx="202.6" cy="1346" r="3.6" fill="none" stroke="#FF2E3A" stroke-width="1.7"/>
<circle cx="210.8" cy="1361.9" r="3.6" fill="none" stroke="#FF2E3A" stroke-width="1.7"/>
<circle cx="219.1" cy="1383.4" r="3.6" fill="none" stroke="#FF2E3A" stroke-width="1.7"/>
<circle cx="227.4" cy="1401.4" r="3.6" fill="none" stroke="#FF2E3A" stroke-width="1.7"/>
<circle cx="235.6" cy="1421.1" r="3.6" fill="none" stroke="#FF2E3A" stroke-width="1.7"/>
<circle cx="243.9" cy="1437.2" r="3.6" fill="none" stroke="#FF2E3A" stroke-width="1.7"/>
<circle cx="252.2" cy="1452.7" r="3.6" fill="none" stroke="#FF2E3A" stroke-width="1.7"/>
<circle cx="260.4" cy="1465.8" r="3.6" fill="none" stroke="#FF2E3A" stroke-width="1.7"/>
<circle cx="268.7" cy="1476.6" r="3.6" fill="none" stroke="#FF2E3A" stroke-width="1.7"/>
<circle cx="277" cy="1486.2" r="3.6" fill="none" stroke="#FF2E3A" stroke-width="1.7"/>
<circle cx="285.2" cy="1494.5" r="3.6" fill="none" stroke="#FF2E3A" stroke-width="1.7"/>
<circle cx="293.5" cy="1500.7" r="3.6" fill="none" stroke="#FF2E3A" stroke-width="1.7"/>
<circle cx="301.8" cy="1505.5" r="3.6" fill="none" stroke="#FF2E3A" stroke-width="1.7"/>
<circle cx="310" cy="1509.7" r="3.6" fill="none" stroke="#FF2E3A" stroke-width="1.7"/>
<circle cx="318.3" cy="1512.5" r="3.6" fill="none" stroke="#FF2E3A" stroke-width="1.7"/>
<circle cx="326.6" cy="1515" r="3.6" fill="none" stroke="#FF2E3A" stroke-width="1.7"/>
<circle cx="334.8" cy="1517.9" r="3.6" fill="none" stroke="#FF2E3A" stroke-width="1.7"/>
<circle cx="343.1" cy="1520" r="3.6" fill="none" stroke="#FF2E3A" stroke-width="1.7"/>
<circle cx="351.4" cy="1522.5" r="3.6" fill="none" stroke="#FF2E3A" stroke-width="1.7"/>
<circle cx="359.6" cy="1524.1" r="3.6" fill="none" stroke="#FF2E3A" stroke-width="1.7"/>
<circle cx="367.9" cy="1526.2" r="3.6" fill="none" stroke="#FF2E3A" stroke-width="1.7"/>
<circle cx="376.2" cy="1527.6" r="3.6" fill="none" stroke="#FF2E3A" stroke-width="1.7"/>
<circle cx="384.4" cy="1529" r="3.6" fill="none" stroke="#FF2E3A" stroke-width="1.7"/>
<circle cx="392.7" cy="1529.9" r="3.6" fill="none" stroke="#FF2E3A" stroke-width="1.7"/>
<circle cx="401" cy="1531" r="3.6" fill="none" stroke="#FF2E3A" stroke-width="1.7"/>
<circle cx="409.2" cy="1531.7" r="3.6" fill="none" stroke="#FF2E3A" stroke-width="1.7"/>
<circle cx="417.5" cy="1532.7" r="3.6" fill="none" stroke="#FF2E3A" stroke-width="1.7"/>
<circle cx="425.8" cy="1533.1" r="3.6" fill="none" stroke="#FF2E3A" stroke-width="1.7"/>
<circle cx="434" cy="1533.8" r="3.6" fill="none" stroke="#FF2E3A" stroke-width="1.7"/>
<circle cx="442.3" cy="1534.5" r="3.6" fill="none" stroke="#FF2E3A" stroke-width="1.7"/>
<circle cx="450.6" cy="1534.9" r="3.6" fill="none" stroke="#FF2E3A" stroke-width="1.7"/>
<circle cx="458.8" cy="1535.6" r="3.6" fill="none" stroke="#FF2E3A" stroke-width="1.7"/>
<circle cx="467.1" cy="1536.3" r="3.6" fill="none" stroke="#FF2E3A" stroke-width="1.7"/>
<circle cx="475.4" cy="1536.8" r="3.6" fill="none" stroke="#FF2E3A" stroke-width="1.7"/>
<circle cx="483.6" cy="1537.5" r="3.6" fill="none" stroke="#FF2E3A" stroke-width="1.7"/>
<circle cx="491.9" cy="1537.9" r="3.6" fill="none" stroke="#FF2E3A" stroke-width="1.7"/>
<circle cx="500.2" cy="1538.6" r="3.6" fill="none" stroke="#FF2E3A" stroke-width="1.7"/>
<circle cx="508.4" cy="1539.5" r="3.6" fill="none" stroke="#FF2E3A" stroke-width="1.7"/>
<circle cx="516.7" cy="1540.4" r="3.6" fill="none" stroke="#FF2E3A" stroke-width="1.7"/>
<circle cx="525" cy="1541.1" r="3.6" fill="none" stroke="#FF2E3A" stroke-width="1.7"/>
<circle cx="533.2" cy="1541.8" r="3.6" fill="none" stroke="#FF2E3A" stroke-width="1.7"/>
<circle cx="541.5" cy="1542.4" r="3.6" fill="none" stroke="#FF2E3A" stroke-width="1.7"/>
<circle cx="549.8" cy="1543.1" r="3.6" fill="none" stroke="#FF2E3A" stroke-width="1.7"/>
<circle cx="558" cy="1543.8" r="3.6" fill="none" stroke="#FF2E3A" stroke-width="1.7"/>
<circle cx="566.3" cy="1544.5" r="3.6" fill="none" stroke="#FF2E3A" stroke-width="1.7"/>
<circle cx="574.6" cy="1545.2" r="3.6" fill="none" stroke="#FF2E3A" stroke-width="1.7"/>
<circle cx="582.8" cy="1545.8" r="3.6" fill="none" stroke="#FF2E3A" stroke-width="1.7"/>
<circle cx="591.1" cy="1546.5" r="3.6" fill="none" stroke="#FF2E3A" stroke-width="1.7"/>
<circle cx="599.4" cy="1547.2" r="3.6" fill="none" stroke="#FF2E3A" stroke-width="1.7"/>
<circle cx="607.6" cy="1547.9" r="3.6" fill="none" stroke="#FF2E3A" stroke-width="1.7"/>
<circle cx="615.9" cy="1548.5" r="3.6" fill="none" stroke="#FF2E3A" stroke-width="1.7"/>
<circle cx="624.2" cy="1549.2" r="3.6" fill="none" stroke="#FF2E3A" stroke-width="1.7"/>
<circle cx="632.4" cy="1549.9" r="3.6" fill="none" stroke="#FF2E3A" stroke-width="1.7"/>
<line x1="153" y1="1513" x2="153" y2="1510" stroke="#0000FF" stroke-width="1.7" stroke-linecap="butt"/>
<line x1="149.6" y1="1510" x2="156.4" y2="1510" stroke="#0000FF" stroke-width="1.7" stroke-linecap="butt"/>
<line x1="161.2" y1="1452.3" x2="161.2" y2="1449" stroke="#0000FF" stroke-width="1.7" stroke-linecap="butt"/>
<line x1="157.8" y1="1449" x2="164.6" y2="1449" stroke="#0000FF" stroke-width="1.7" stroke-linecap="butt"/>
<line x1="169.5" y1="1390.9" x2="169.5" y2="1385.5" stroke="#0000FF" stroke-width="1.7" stroke-linecap="butt"/>
<line x1="166.1" y1="1385.5" x2="172.9" y2="1385.5" stroke="#0000FF" stroke-width="1.7" stroke-linecap="butt"/>
<line x1="177.8" y1="1339" x2="177.8" y2="1335.7" stroke="#0000FF" stroke-width="1.7" stroke-linecap="butt"/>
<line x1="174.4" y1="1335.7" x2="181.2" y2="1335.7" stroke="#0000FF" stroke-width="1.7" stroke-linecap="butt"/>
<line x1="186" y1="1302.4" x2="186" y2="1300" stroke="#0000FF" stroke-width="1.7" stroke-linecap="butt"/>
<line x1="182.6" y1="1300" x2="189.4" y2="1300" stroke="#0000FF" stroke-width="1.7" stroke-linecap="butt"/>
<line x1="215.7" y1="1313" x2="222.5" y2="1313" stroke="#0000FF" stroke-width="1.7" stroke-linecap="butt"/>
<line x1="235.6" y1="1358.3" x2="235.6" y2="1355" stroke="#0000FF" stroke-width="1.7" stroke-linecap="butt"/>
<line x1="232.2" y1="1355" x2="239" y2="1355" stroke="#0000FF" stroke-width="1.7" stroke-linecap="butt"/>
<line x1="243.9" y1="1376.9" x2="243.9" y2="1372.9" stroke="#0000FF" stroke-width="1.7" stroke-linecap="butt"/>
<line x1="240.5" y1="1372.9" x2="247.3" y2="1372.9" stroke="#0000FF" stroke-width="1.7" stroke-linecap="butt"/>
<line x1="252.2" y1="1396.8" x2="252.2" y2="1393.1" stroke="#0000FF" stroke-width="1.7" stroke-linecap="butt"/>
<line x1="248.8" y1="1393.1" x2="255.6" y2="1393.1" stroke="#0000FF" stroke-width="1.7" stroke-linecap="butt"/>
<line x1="260.4" y1="1413.6" x2="260.4" y2="1409" stroke="#0000FF" stroke-width="1.7" stroke-linecap="butt"/>
<line x1="257" y1="1409" x2="263.8" y2="1409" stroke="#0000FF" stroke-width="1.7" stroke-linecap="butt"/>
<line x1="268.7" y1="1435" x2="268.7" y2="1421.4" stroke="#0000FF" stroke-width="1.7" stroke-linecap="butt"/>
<line x1="265.3" y1="1421.4" x2="272.1" y2="1421.4" stroke="#0000FF" stroke-width="1.7" stroke-linecap="butt"/>
<line x1="351.4" y1="1501.5" x2="351.4" y2="1494.1" stroke="#0000FF" stroke-width="1.7" stroke-linecap="butt"/>
<line x1="348" y1="1494.1" x2="354.8" y2="1494.1" stroke="#0000FF" stroke-width="1.7" stroke-linecap="butt"/>
<line x1="359.6" y1="1504.6" x2="359.6" y2="1497.2" stroke="#0000FF" stroke-width="1.7" stroke-linecap="butt"/>
<line x1="356.2" y1="1497.2" x2="363" y2="1497.2" stroke="#0000FF" stroke-width="1.7" stroke-linecap="butt"/>
<line x1="367.9" y1="1507" x2="367.9" y2="1499.7" stroke="#0000FF" stroke-width="1.7" stroke-linecap="butt"/>
<line x1="364.5" y1="1499.7" x2="371.3" y2="1499.7" stroke="#0000FF" stroke-width="1.7" stroke-linecap="butt"/>
<line x1="376.2" y1="1508.7" x2="376.2" y2="1501.5" stroke="#0000FF" stroke-width="1.7" stroke-linecap="butt"/>
<line x1="372.8" y1="1501.5" x2="379.6" y2="1501.5" stroke="#0000FF" stroke-width="1.7" stroke-linecap="butt"/>
<line x1="384.4" y1="1510.8" x2="384.4" y2="1503.6" stroke="#0000FF" stroke-width="1.7" stroke-linecap="butt"/>
<line x1="381" y1="1503.6" x2="387.8" y2="1503.6" stroke="#0000FF" stroke-width="1.7" stroke-linecap="butt"/>
<line x1="392.7" y1="1512.2" x2="392.7" y2="1505" stroke="#0000FF" stroke-width="1.7" stroke-linecap="butt"/>
<line x1="389.3" y1="1505" x2="396.1" y2="1505" stroke="#0000FF" stroke-width="1.7" stroke-linecap="butt"/>
<line x1="401" y1="1513.5" x2="401" y2="1506.4" stroke="#0000FF" stroke-width="1.7" stroke-linecap="butt"/>
<line x1="397.6" y1="1506.4" x2="404.4" y2="1506.4" stroke="#0000FF" stroke-width="1.7" stroke-linecap="butt"/>
<line x1="409.2" y1="1514.5" x2="409.2" y2="1507.5" stroke="#0000FF" stroke-width="1.7" stroke-linecap="butt"/>
<line x1="405.8" y1="1507.5" x2="412.6" y2="1507.5" stroke="#0000FF" stroke-width="1.7" stroke-linecap="butt"/>
<line x1="417.5" y1="1515.6" x2="417.5" y2="1508.6" stroke="#0000FF" stroke-width="1.7" stroke-linecap="butt"/>
<line x1="414.1" y1="1508.6" x2="420.9" y2="1508.6" stroke="#0000FF" stroke-width="1.7" stroke-linecap="butt"/>
<line x1="425.8" y1="1516.3" x2="425.8" y2="1509.4" stroke="#0000FF" stroke-width="1.7" stroke-linecap="butt"/>
<line x1="422.4" y1="1509.4" x2="429.2" y2="1509.4" stroke="#0000FF" stroke-width="1.7" stroke-linecap="butt"/>
<line x1="434" y1="1517.3" x2="434" y2="1510.4" stroke="#0000FF" stroke-width="1.7" stroke-linecap="butt"/>
<line x1="430.6" y1="1510.4" x2="437.4" y2="1510.4" stroke="#0000FF" stroke-width="1.7" stroke-linecap="butt"/>
<line x1="442.3" y1="1518.1" x2="442.3" y2="1511.2" stroke="#0000FF" stroke-width="1.7" stroke-linecap="butt"/>
<line x1="438.9" y1="1511.2" x2="445.7" y2="1511.2" stroke="#0000FF" stroke-width="1.7" stroke-linecap="butt"/>
<line x1="450.6" y1="1519" x2="450.6" y2="1512.2" stroke="#0000FF" stroke-width="1.7" stroke-linecap="butt"/>
<line x1="447.2" y1="1512.2" x2="454" y2="1512.2" stroke="#0000FF" stroke-width="1.7" stroke-linecap="butt"/>
<line x1="458.8" y1="1519.5" x2="458.8" y2="1512.8" stroke="#0000FF" stroke-width="1.7" stroke-linecap="butt"/>
<line x1="455.4" y1="1512.8" x2="462.2" y2="1512.8" stroke="#0000FF" stroke-width="1.7" stroke-linecap="butt"/>
<line x1="467.1" y1="1520" x2="467.1" y2="1513.3" stroke="#0000FF" stroke-width="1.7" stroke-linecap="butt"/>
<line x1="463.7" y1="1513.3" x2="470.5" y2="1513.3" stroke="#0000FF" stroke-width="1.7" stroke-linecap="butt"/>
<line x1="475.4" y1="1520.7" x2="475.4" y2="1514" stroke="#0000FF" stroke-width="1.7" stroke-linecap="butt"/>
<line x1="472" y1="1514" x2="478.8" y2="1514" stroke="#0000FF" stroke-width="1.7" stroke-linecap="butt"/>
<line x1="483.6" y1="1521.4" x2="483.6" y2="1514.8" stroke="#0000FF" stroke-width="1.7" stroke-linecap="butt"/>
<line x1="480.2" y1="1514.8" x2="487" y2="1514.8" stroke="#0000FF" stroke-width="1.7" stroke-linecap="butt"/>
<line x1="491.9" y1="1522.2" x2="491.9" y2="1515.6" stroke="#0000FF" stroke-width="1.7" stroke-linecap="butt"/>
<line x1="488.5" y1="1515.6" x2="495.3" y2="1515.6" stroke="#0000FF" stroke-width="1.7" stroke-linecap="butt"/>
<line x1="500.2" y1="1523.2" x2="500.2" y2="1516.7" stroke="#0000FF" stroke-width="1.7" stroke-linecap="butt"/>
<line x1="496.8" y1="1516.7" x2="503.6" y2="1516.7" stroke="#0000FF" stroke-width="1.7" stroke-linecap="butt"/>
<line x1="508.4" y1="1524.3" x2="508.4" y2="1517.9" stroke="#0000FF" stroke-width="1.7" stroke-linecap="butt"/>
<line x1="505" y1="1517.9" x2="511.8" y2="1517.9" stroke="#0000FF" stroke-width="1.7" stroke-linecap="butt"/>
<line x1="516.7" y1="1525" x2="516.7" y2="1518.6" stroke="#0000FF" stroke-width="1.7" stroke-linecap="butt"/>
<line x1="513.3" y1="1518.6" x2="520.1" y2="1518.6" stroke="#0000FF" stroke-width="1.7" stroke-linecap="butt"/>
<line x1="525" y1="1525.9" x2="525" y2="1519.6" stroke="#0000FF" stroke-width="1.7" stroke-linecap="butt"/>
<line x1="521.6" y1="1519.6" x2="528.4" y2="1519.6" stroke="#0000FF" stroke-width="1.7" stroke-linecap="butt"/>
<line x1="533.2" y1="1526.7" x2="533.2" y2="1520.7" stroke="#0000FF" stroke-width="1.7" stroke-linecap="butt"/>
<line x1="529.8" y1="1520.7" x2="536.6" y2="1520.7" stroke="#0000FF" stroke-width="1.7" stroke-linecap="butt"/>
<line x1="541.5" y1="1527.6" x2="541.5" y2="1521.7" stroke="#0000FF" stroke-width="1.7" stroke-linecap="butt"/>
<line x1="538.1" y1="1521.7" x2="544.9" y2="1521.7" stroke="#0000FF" stroke-width="1.7" stroke-linecap="butt"/>
<line x1="546.4" y1="1522.8" x2="553.2" y2="1522.8" stroke="#0000FF" stroke-width="1.7" stroke-linecap="butt"/>
<line x1="554.6" y1="1523.8" x2="561.4" y2="1523.8" stroke="#0000FF" stroke-width="1.7" stroke-linecap="butt"/>
<line x1="562.9" y1="1524.9" x2="569.7" y2="1524.9" stroke="#0000FF" stroke-width="1.7" stroke-linecap="butt"/>
<line x1="571.2" y1="1525.9" x2="578" y2="1525.9" stroke="#0000FF" stroke-width="1.7" stroke-linecap="butt"/>
<line x1="579.4" y1="1526.9" x2="586.2" y2="1526.9" stroke="#0000FF" stroke-width="1.7" stroke-linecap="butt"/>
<line x1="587.7" y1="1528" x2="594.5" y2="1528" stroke="#0000FF" stroke-width="1.7" stroke-linecap="butt"/>
<line x1="596" y1="1529" x2="602.8" y2="1529" stroke="#0000FF" stroke-width="1.7" stroke-linecap="butt"/>
<line x1="604.2" y1="1530.1" x2="611" y2="1530.1" stroke="#0000FF" stroke-width="1.7" stroke-linecap="butt"/>
<line x1="612.5" y1="1531.1" x2="619.3" y2="1531.1" stroke="#0000FF" stroke-width="1.7" stroke-linecap="butt"/>
<line x1="620.8" y1="1532.2" x2="627.6" y2="1532.2" stroke="#0000FF" stroke-width="1.7" stroke-linecap="butt"/>
<line x1="629" y1="1533.2" x2="635.8" y2="1533.2" stroke="#0000FF" stroke-width="1.7" stroke-linecap="butt"/>
<circle cx="144.7" cy="1559.3" r="3.6" fill="none" stroke="#0000FF" stroke-width="1.7"/>
<circle cx="153" cy="1516.6" r="3.6" fill="none" stroke="#0000FF" stroke-width="1.7"/>
<circle cx="161.2" cy="1455.9" r="3.6" fill="none" stroke="#0000FF" stroke-width="1.7"/>
<circle cx="169.5" cy="1394.5" r="3.6" fill="none" stroke="#0000FF" stroke-width="1.7"/>
<circle cx="177.8" cy="1342.6" r="3.6" fill="none" stroke="#0000FF" stroke-width="1.7"/>
<circle cx="186" cy="1306" r="3.6" fill="none" stroke="#0000FF" stroke-width="1.7"/>
<circle cx="194.3" cy="1288.1" r="3.6" fill="none" stroke="#0000FF" stroke-width="1.7"/>
<circle cx="202.6" cy="1288.8" r="3.6" fill="none" stroke="#0000FF" stroke-width="1.7"/>
<circle cx="210.8" cy="1297.1" r="3.6" fill="none" stroke="#0000FF" stroke-width="1.7"/>
<circle cx="219.1" cy="1316.4" r="3.6" fill="none" stroke="#0000FF" stroke-width="1.7"/>
<circle cx="227.4" cy="1339.1" r="3.6" fill="none" stroke="#0000FF" stroke-width="1.7"/>
<circle cx="235.6" cy="1361.9" r="3.6" fill="none" stroke="#0000FF" stroke-width="1.7"/>
<circle cx="243.9" cy="1380.5" r="3.6" fill="none" stroke="#0000FF" stroke-width="1.7"/>
<circle cx="252.2" cy="1400.4" r="3.6" fill="none" stroke="#0000FF" stroke-width="1.7"/>
<circle cx="260.4" cy="1417.2" r="3.6" fill="none" stroke="#0000FF" stroke-width="1.7"/>
<circle cx="268.7" cy="1438.6" r="3.6" fill="none" stroke="#0000FF" stroke-width="1.7"/>
<circle cx="277" cy="1444.1" r="3.6" fill="none" stroke="#0000FF" stroke-width="1.7"/>
<circle cx="285.2" cy="1455.6" r="3.6" fill="none" stroke="#0000FF" stroke-width="1.7"/>
<circle cx="293.5" cy="1466.1" r="3.6" fill="none" stroke="#0000FF" stroke-width="1.7"/>
<circle cx="301.8" cy="1474.8" r="3.6" fill="none" stroke="#0000FF" stroke-width="1.7"/>
<circle cx="310" cy="1481.5" r="3.6" fill="none" stroke="#0000FF" stroke-width="1.7"/>
<circle cx="318.3" cy="1488.3" r="3.6" fill="none" stroke="#0000FF" stroke-width="1.7"/>
<circle cx="326.6" cy="1492.6" r="3.6" fill="none" stroke="#0000FF" stroke-width="1.7"/>
<circle cx="334.8" cy="1497.5" r="3.6" fill="none" stroke="#0000FF" stroke-width="1.7"/>
<circle cx="343.1" cy="1502.3" r="3.6" fill="none" stroke="#0000FF" stroke-width="1.7"/>
<circle cx="351.4" cy="1505.1" r="3.6" fill="none" stroke="#0000FF" stroke-width="1.7"/>
<circle cx="359.6" cy="1508.2" r="3.6" fill="none" stroke="#0000FF" stroke-width="1.7"/>
<circle cx="367.9" cy="1510.6" r="3.6" fill="none" stroke="#0000FF" stroke-width="1.7"/>
<circle cx="376.2" cy="1512.3" r="3.6" fill="none" stroke="#0000FF" stroke-width="1.7"/>
<circle cx="384.4" cy="1514.4" r="3.6" fill="none" stroke="#0000FF" stroke-width="1.7"/>
<circle cx="392.7" cy="1515.8" r="3.6" fill="none" stroke="#0000FF" stroke-width="1.7"/>
<circle cx="401" cy="1517.1" r="3.6" fill="none" stroke="#0000FF" stroke-width="1.7"/>
<circle cx="409.2" cy="1518.1" r="3.6" fill="none" stroke="#0000FF" stroke-width="1.7"/>
<circle cx="417.5" cy="1519.2" r="3.6" fill="none" stroke="#0000FF" stroke-width="1.7"/>
<circle cx="425.8" cy="1519.9" r="3.6" fill="none" stroke="#0000FF" stroke-width="1.7"/>
<circle cx="434" cy="1520.9" r="3.6" fill="none" stroke="#0000FF" stroke-width="1.7"/>
<circle cx="442.3" cy="1521.7" r="3.6" fill="none" stroke="#0000FF" stroke-width="1.7"/>
<circle cx="450.6" cy="1522.6" r="3.6" fill="none" stroke="#0000FF" stroke-width="1.7"/>
<circle cx="458.8" cy="1523.1" r="3.6" fill="none" stroke="#0000FF" stroke-width="1.7"/>
<circle cx="467.1" cy="1523.6" r="3.6" fill="none" stroke="#0000FF" stroke-width="1.7"/>
<circle cx="475.4" cy="1524.3" r="3.6" fill="none" stroke="#0000FF" stroke-width="1.7"/>
<circle cx="483.6" cy="1525" r="3.6" fill="none" stroke="#0000FF" stroke-width="1.7"/>
<circle cx="491.9" cy="1525.8" r="3.6" fill="none" stroke="#0000FF" stroke-width="1.7"/>
<circle cx="500.2" cy="1526.8" r="3.6" fill="none" stroke="#0000FF" stroke-width="1.7"/>
<circle cx="508.4" cy="1527.9" r="3.6" fill="none" stroke="#0000FF" stroke-width="1.7"/>
<circle cx="516.7" cy="1528.6" r="3.6" fill="none" stroke="#0000FF" stroke-width="1.7"/>
<circle cx="525" cy="1529.5" r="3.6" fill="none" stroke="#0000FF" stroke-width="1.7"/>
<circle cx="533.2" cy="1530.3" r="3.6" fill="none" stroke="#0000FF" stroke-width="1.7"/>
<circle cx="541.5" cy="1531.2" r="3.6" fill="none" stroke="#0000FF" stroke-width="1.7"/>
<circle cx="549.8" cy="1532" r="3.6" fill="none" stroke="#0000FF" stroke-width="1.7"/>
<circle cx="558" cy="1532.9" r="3.6" fill="none" stroke="#0000FF" stroke-width="1.7"/>
<circle cx="566.3" cy="1533.7" r="3.6" fill="none" stroke="#0000FF" stroke-width="1.7"/>
<circle cx="574.6" cy="1534.6" r="3.6" fill="none" stroke="#0000FF" stroke-width="1.7"/>
<circle cx="582.8" cy="1535.5" r="3.6" fill="none" stroke="#0000FF" stroke-width="1.7"/>
<circle cx="591.1" cy="1536.3" r="3.6" fill="none" stroke="#0000FF" stroke-width="1.7"/>
<circle cx="599.4" cy="1537.2" r="3.6" fill="none" stroke="#0000FF" stroke-width="1.7"/>
<circle cx="607.6" cy="1538" r="3.6" fill="none" stroke="#0000FF" stroke-width="1.7"/>
<circle cx="615.9" cy="1538.9" r="3.6" fill="none" stroke="#0000FF" stroke-width="1.7"/>
<circle cx="624.2" cy="1539.7" r="3.6" fill="none" stroke="#0000FF" stroke-width="1.7"/>
<circle cx="632.4" cy="1540.6" r="3.6" fill="none" stroke="#0000FF" stroke-width="1.7"/>
<line x1="161.2" y1="1440.5" x2="161.2" y2="1439" stroke="#FF9030" stroke-width="1.7" stroke-linecap="butt"/>
<line x1="157.8" y1="1439" x2="164.6" y2="1439" stroke="#FF9030" stroke-width="1.7" stroke-linecap="butt"/>
<line x1="169.5" y1="1366.6" x2="169.5" y2="1365.3" stroke="#FF9030" stroke-width="1.7" stroke-linecap="butt"/>
<line x1="166.1" y1="1365.3" x2="172.9" y2="1365.3" stroke="#FF9030" stroke-width="1.7" stroke-linecap="butt"/>
<line x1="177.8" y1="1301.3" x2="177.8" y2="1300.5" stroke="#FF9030" stroke-width="1.7" stroke-linecap="butt"/>
<line x1="174.4" y1="1300.5" x2="181.2" y2="1300.5" stroke="#FF9030" stroke-width="1.7" stroke-linecap="butt"/>
<line x1="186" y1="1251.7" x2="186" y2="1248.1" stroke="#FF9030" stroke-width="1.7" stroke-linecap="butt"/>
<line x1="182.6" y1="1248.1" x2="189.4" y2="1248.1" stroke="#FF9030" stroke-width="1.7" stroke-linecap="butt"/>
<line x1="194.3" y1="1223.4" x2="194.3" y2="1219.1" stroke="#FF9030" stroke-width="1.7" stroke-linecap="butt"/>
<line x1="190.9" y1="1219.1" x2="197.7" y2="1219.1" stroke="#FF9030" stroke-width="1.7" stroke-linecap="butt"/>
<line x1="202.6" y1="1220.1" x2="202.6" y2="1215.7" stroke="#FF9030" stroke-width="1.7" stroke-linecap="butt"/>
<line x1="199.2" y1="1215.7" x2="206" y2="1215.7" stroke="#FF9030" stroke-width="1.7" stroke-linecap="butt"/>
<line x1="210.8" y1="1228.4" x2="210.8" y2="1222.6" stroke="#FF9030" stroke-width="1.7" stroke-linecap="butt"/>
<line x1="207.4" y1="1222.6" x2="214.2" y2="1222.6" stroke="#FF9030" stroke-width="1.7" stroke-linecap="butt"/>
<line x1="219.1" y1="1249.1" x2="219.1" y2="1244" stroke="#FF9030" stroke-width="1.7" stroke-linecap="butt"/>
<line x1="215.7" y1="1244" x2="222.5" y2="1244" stroke="#FF9030" stroke-width="1.7" stroke-linecap="butt"/>
<line x1="227.4" y1="1275.8" x2="227.4" y2="1270.9" stroke="#FF9030" stroke-width="1.7" stroke-linecap="butt"/>
<line x1="224" y1="1270.9" x2="230.8" y2="1270.9" stroke="#FF9030" stroke-width="1.7" stroke-linecap="butt"/>
<line x1="235.6" y1="1305.5" x2="235.6" y2="1299.8" stroke="#FF9030" stroke-width="1.7" stroke-linecap="butt"/>
<line x1="232.2" y1="1299.8" x2="239" y2="1299.8" stroke="#FF9030" stroke-width="1.7" stroke-linecap="butt"/>
<line x1="243.9" y1="1333.5" x2="243.9" y2="1329.5" stroke="#FF9030" stroke-width="1.7" stroke-linecap="butt"/>
<line x1="240.5" y1="1329.5" x2="247.3" y2="1329.5" stroke="#FF9030" stroke-width="1.7" stroke-linecap="butt"/>
<line x1="260.4" y1="1381.7" x2="260.4" y2="1379.1" stroke="#FF9030" stroke-width="1.7" stroke-linecap="butt"/>
<line x1="257" y1="1379.1" x2="263.8" y2="1379.1" stroke="#FF9030" stroke-width="1.7" stroke-linecap="butt"/>
<circle cx="144.7" cy="1558.6" r="3.6" fill="none" stroke="#FF9030" stroke-width="1.7"/>
<circle cx="153" cy="1509.7" r="3.6" fill="none" stroke="#FF9030" stroke-width="1.7"/>
<circle cx="161.2" cy="1444.1" r="3.6" fill="none" stroke="#FF9030" stroke-width="1.7"/>
<circle cx="169.5" cy="1370.2" r="3.6" fill="none" stroke="#FF9030" stroke-width="1.7"/>
<circle cx="177.8" cy="1304.9" r="3.6" fill="none" stroke="#FF9030" stroke-width="1.7"/>
<circle cx="186" cy="1255.3" r="3.6" fill="none" stroke="#FF9030" stroke-width="1.7"/>
<circle cx="194.3" cy="1227" r="3.6" fill="none" stroke="#FF9030" stroke-width="1.7"/>
<circle cx="202.6" cy="1223.7" r="3.6" fill="none" stroke="#FF9030" stroke-width="1.7"/>
<circle cx="210.8" cy="1232" r="3.6" fill="none" stroke="#FF9030" stroke-width="1.7"/>
<circle cx="219.1" cy="1252.7" r="3.6" fill="none" stroke="#FF9030" stroke-width="1.7"/>
<circle cx="227.4" cy="1279.4" r="3.6" fill="none" stroke="#FF9030" stroke-width="1.7"/>
<circle cx="235.6" cy="1309.1" r="3.6" fill="none" stroke="#FF9030" stroke-width="1.7"/>
<circle cx="243.9" cy="1337.1" r="3.6" fill="none" stroke="#FF9030" stroke-width="1.7"/>
<circle cx="252.2" cy="1362.3" r="3.6" fill="none" stroke="#FF9030" stroke-width="1.7"/>
<circle cx="260.4" cy="1385.3" r="3.6" fill="none" stroke="#FF9030" stroke-width="1.7"/>
<circle cx="268.7" cy="1405.5" r="3.6" fill="none" stroke="#FF9030" stroke-width="1.7"/>
<circle cx="277" cy="1423.4" r="3.6" fill="none" stroke="#FF9030" stroke-width="1.7"/>
<circle cx="285.2" cy="1437.2" r="3.6" fill="none" stroke="#FF9030" stroke-width="1.7"/>
<circle cx="293.5" cy="1450.3" r="3.6" fill="none" stroke="#FF9030" stroke-width="1.7"/>
<circle cx="301.8" cy="1461.4" r="3.6" fill="none" stroke="#FF9030" stroke-width="1.7"/>
<circle cx="310" cy="1469.7" r="3.6" fill="none" stroke="#FF9030" stroke-width="1.7"/>
<circle cx="318.3" cy="1478.6" r="3.6" fill="none" stroke="#FF9030" stroke-width="1.7"/>
<circle cx="326.6" cy="1485.4" r="3.6" fill="none" stroke="#FF9030" stroke-width="1.7"/>
<circle cx="334.8" cy="1490.2" r="3.6" fill="none" stroke="#FF9030" stroke-width="1.7"/>
<circle cx="343.1" cy="1495" r="3.6" fill="none" stroke="#FF9030" stroke-width="1.7"/>
<circle cx="351.4" cy="1498.9" r="3.6" fill="none" stroke="#FF9030" stroke-width="1.7"/>
<circle cx="359.6" cy="1503.7" r="3.6" fill="none" stroke="#FF9030" stroke-width="1.7"/>
<circle cx="367.9" cy="1506.1" r="3.6" fill="none" stroke="#FF9030" stroke-width="1.7"/>
<circle cx="376.2" cy="1508.6" r="3.6" fill="none" stroke="#FF9030" stroke-width="1.7"/>
<circle cx="384.4" cy="1511" r="3.6" fill="none" stroke="#FF9030" stroke-width="1.7"/>
<circle cx="392.7" cy="1513.4" r="3.6" fill="none" stroke="#FF9030" stroke-width="1.7"/>
<circle cx="401" cy="1515.7" r="3.6" fill="none" stroke="#FF9030" stroke-width="1.7"/>
<circle cx="409.2" cy="1516.7" r="3.6" fill="none" stroke="#FF9030" stroke-width="1.7"/>
<circle cx="417.5" cy="1517.8" r="3.6" fill="none" stroke="#FF9030" stroke-width="1.7"/>
<circle cx="425.8" cy="1518.5" r="3.6" fill="none" stroke="#FF9030" stroke-width="1.7"/>
<circle cx="434" cy="1519.5" r="3.6" fill="none" stroke="#FF9030" stroke-width="1.7"/>
<circle cx="442.3" cy="1520.3" r="3.6" fill="none" stroke="#FF9030" stroke-width="1.7"/>
<circle cx="450.6" cy="1521.2" r="3.6" fill="none" stroke="#FF9030" stroke-width="1.7"/>
<circle cx="458.8" cy="1521.7" r="3.6" fill="none" stroke="#FF9030" stroke-width="1.7"/>
<circle cx="467.1" cy="1522.2" r="3.6" fill="none" stroke="#FF9030" stroke-width="1.7"/>
<circle cx="475.4" cy="1522.9" r="3.6" fill="none" stroke="#FF9030" stroke-width="1.7"/>
<circle cx="483.6" cy="1523.6" r="3.6" fill="none" stroke="#FF9030" stroke-width="1.7"/>
<circle cx="491.9" cy="1524.4" r="3.6" fill="none" stroke="#FF9030" stroke-width="1.7"/>
<circle cx="500.2" cy="1525.4" r="3.6" fill="none" stroke="#FF9030" stroke-width="1.7"/>
<circle cx="508.4" cy="1526.5" r="3.6" fill="none" stroke="#FF9030" stroke-width="1.7"/>
<circle cx="516.7" cy="1527.2" r="3.6" fill="none" stroke="#FF9030" stroke-width="1.7"/>
<circle cx="525" cy="1528.1" r="3.6" fill="none" stroke="#FF9030" stroke-width="1.7"/>
<circle cx="533.2" cy="1528.9" r="3.6" fill="none" stroke="#FF9030" stroke-width="1.7"/>
<circle cx="541.5" cy="1529.8" r="3.6" fill="none" stroke="#FF9030" stroke-width="1.7"/>
<circle cx="549.8" cy="1530.6" r="3.6" fill="none" stroke="#FF9030" stroke-width="1.7"/>
<circle cx="558" cy="1531.5" r="3.6" fill="none" stroke="#FF9030" stroke-width="1.7"/>
<circle cx="566.3" cy="1532.3" r="3.6" fill="none" stroke="#FF9030" stroke-width="1.7"/>
<circle cx="574.6" cy="1533.2" r="3.6" fill="none" stroke="#FF9030" stroke-width="1.7"/>
<circle cx="582.8" cy="1534.1" r="3.6" fill="none" stroke="#FF9030" stroke-width="1.7"/>
<circle cx="591.1" cy="1534.9" r="3.6" fill="none" stroke="#FF9030" stroke-width="1.7"/>
<circle cx="599.4" cy="1535.8" r="3.6" fill="none" stroke="#FF9030" stroke-width="1.7"/>
<circle cx="607.6" cy="1536.6" r="3.6" fill="none" stroke="#FF9030" stroke-width="1.7"/>
<circle cx="615.9" cy="1537.5" r="3.6" fill="none" stroke="#FF9030" stroke-width="1.7"/>
<circle cx="624.2" cy="1538.3" r="3.6" fill="none" stroke="#FF9030" stroke-width="1.7"/>
<circle cx="632.4" cy="1539.2" r="3.6" fill="none" stroke="#FF9030" stroke-width="1.7"/>
<line x1="161.2" y1="1499.5" x2="161.2" y2="1501.5" stroke="#D2B4A0" stroke-width="1.7" stroke-linecap="butt"/>
<line x1="157.8" y1="1501.5" x2="164.6" y2="1501.5" stroke="#D2B4A0" stroke-width="1.7" stroke-linecap="butt"/>
<line x1="169.5" y1="1438.8" x2="169.5" y2="1446.2" stroke="#D2B4A0" stroke-width="1.7" stroke-linecap="butt"/>
<line x1="166.1" y1="1446.2" x2="172.9" y2="1446.2" stroke="#D2B4A0" stroke-width="1.7" stroke-linecap="butt"/>
<line x1="177.8" y1="1382.7" x2="177.8" y2="1393.8" stroke="#D2B4A0" stroke-width="1.7" stroke-linecap="butt"/>
<line x1="174.4" y1="1393.8" x2="181.2" y2="1393.8" stroke="#D2B4A0" stroke-width="1.7" stroke-linecap="butt"/>
<line x1="186" y1="1331.7" x2="186" y2="1347.4" stroke="#D2B4A0" stroke-width="1.7" stroke-linecap="butt"/>
<line x1="182.6" y1="1347.4" x2="189.4" y2="1347.4" stroke="#D2B4A0" stroke-width="1.7" stroke-linecap="butt"/>
<line x1="194.3" y1="1294.5" x2="194.3" y2="1316.1" stroke="#D2B4A0" stroke-width="1.7" stroke-linecap="butt"/>
<line x1="190.9" y1="1316.1" x2="197.7" y2="1316.1" stroke="#D2B4A0" stroke-width="1.7" stroke-linecap="butt"/>
<line x1="202.6" y1="1278.6" x2="202.6" y2="1293.6" stroke="#D2B4A0" stroke-width="1.7" stroke-linecap="butt"/>
<line x1="199.2" y1="1293.6" x2="206" y2="1293.6" stroke="#D2B4A0" stroke-width="1.7" stroke-linecap="butt"/>
<line x1="210.8" y1="1267.6" x2="210.8" y2="1292.2" stroke="#D2B4A0" stroke-width="1.7" stroke-linecap="butt"/>
<line x1="207.4" y1="1292.2" x2="214.2" y2="1292.2" stroke="#D2B4A0" stroke-width="1.7" stroke-linecap="butt"/>
<line x1="219.1" y1="1269.6" x2="219.1" y2="1283.3" stroke="#D2B4A0" stroke-width="1.7" stroke-linecap="butt"/>
<line x1="215.7" y1="1283.3" x2="222.5" y2="1283.3" stroke="#D2B4A0" stroke-width="1.7" stroke-linecap="butt"/>
<line x1="227.4" y1="1289.6" x2="227.4" y2="1305.3" stroke="#D2B4A0" stroke-width="1.7" stroke-linecap="butt"/>
<line x1="224" y1="1305.3" x2="230.8" y2="1305.3" stroke="#D2B4A0" stroke-width="1.7" stroke-linecap="butt"/>
<line x1="235.6" y1="1305.5" x2="235.6" y2="1329.5" stroke="#D2B4A0" stroke-width="1.7" stroke-linecap="butt"/>
<line x1="232.2" y1="1329.5" x2="239" y2="1329.5" stroke="#D2B4A0" stroke-width="1.7" stroke-linecap="butt"/>
<line x1="243.9" y1="1330.3" x2="243.9" y2="1353.6" stroke="#D2B4A0" stroke-width="1.7" stroke-linecap="butt"/>
<line x1="240.5" y1="1353.6" x2="247.3" y2="1353.6" stroke="#D2B4A0" stroke-width="1.7" stroke-linecap="butt"/>
<line x1="252.2" y1="1356.5" x2="252.2" y2="1377" stroke="#D2B4A0" stroke-width="1.7" stroke-linecap="butt"/>
<line x1="248.8" y1="1377" x2="255.6" y2="1377" stroke="#D2B4A0" stroke-width="1.7" stroke-linecap="butt"/>
<line x1="260.4" y1="1376.5" x2="260.4" y2="1393.6" stroke="#D2B4A0" stroke-width="1.7" stroke-linecap="butt"/>
<line x1="257" y1="1393.6" x2="263.8" y2="1393.6" stroke="#D2B4A0" stroke-width="1.7" stroke-linecap="butt"/>
<line x1="268.7" y1="1397.2" x2="268.7" y2="1410" stroke="#D2B4A0" stroke-width="1.7" stroke-linecap="butt"/>
<line x1="265.3" y1="1410" x2="272.1" y2="1410" stroke="#D2B4A0" stroke-width="1.7" stroke-linecap="butt"/>
<line x1="277" y1="1415" x2="277" y2="1431" stroke="#D2B4A0" stroke-width="1.7" stroke-linecap="butt"/>
<line x1="273.6" y1="1431" x2="280.4" y2="1431" stroke="#D2B4A0" stroke-width="1.7" stroke-linecap="butt"/>
<line x1="285.2" y1="1431.9" x2="285.2" y2="1440" stroke="#D2B4A0" stroke-width="1.7" stroke-linecap="butt"/>
<line x1="281.8" y1="1440" x2="288.6" y2="1440" stroke="#D2B4A0" stroke-width="1.7" stroke-linecap="butt"/>
<line x1="351.4" y1="1502.5" x2="351.4" y2="1509.9" stroke="#D2B4A0" stroke-width="1.7" stroke-linecap="butt"/>
<line x1="348" y1="1509.9" x2="354.8" y2="1509.9" stroke="#D2B4A0" stroke-width="1.7" stroke-linecap="butt"/>
<line x1="359.6" y1="1506.4" x2="359.6" y2="1513" stroke="#D2B4A0" stroke-width="1.7" stroke-linecap="butt"/>
<line x1="356.2" y1="1513" x2="363" y2="1513" stroke="#D2B4A0" stroke-width="1.7" stroke-linecap="butt"/>
<line x1="367.9" y1="1510.2" x2="367.9" y2="1515.4" stroke="#D2B4A0" stroke-width="1.7" stroke-linecap="butt"/>
<line x1="364.5" y1="1515.4" x2="371.3" y2="1515.4" stroke="#D2B4A0" stroke-width="1.7" stroke-linecap="butt"/>
<line x1="376.2" y1="1513.1" x2="376.2" y2="1517.1" stroke="#D2B4A0" stroke-width="1.7" stroke-linecap="butt"/>
<line x1="372.8" y1="1517.1" x2="379.6" y2="1517.1" stroke="#D2B4A0" stroke-width="1.7" stroke-linecap="butt"/>
<line x1="384.4" y1="1516" x2="384.4" y2="1519.2" stroke="#D2B4A0" stroke-width="1.7" stroke-linecap="butt"/>
<line x1="381" y1="1519.2" x2="387.8" y2="1519.2" stroke="#D2B4A0" stroke-width="1.7" stroke-linecap="butt"/>
<line x1="392.7" y1="1517.9" x2="392.7" y2="1520.6" stroke="#D2B4A0" stroke-width="1.7" stroke-linecap="butt"/>
<line x1="389.3" y1="1520.6" x2="396.1" y2="1520.6" stroke="#D2B4A0" stroke-width="1.7" stroke-linecap="butt"/>
<line x1="401" y1="1519.7" x2="401" y2="1521.9" stroke="#D2B4A0" stroke-width="1.7" stroke-linecap="butt"/>
<line x1="397.6" y1="1521.9" x2="404.4" y2="1521.9" stroke="#D2B4A0" stroke-width="1.7" stroke-linecap="butt"/>
<line x1="409.2" y1="1520.7" x2="409.2" y2="1522.9" stroke="#D2B4A0" stroke-width="1.7" stroke-linecap="butt"/>
<line x1="405.8" y1="1522.9" x2="412.6" y2="1522.9" stroke="#D2B4A0" stroke-width="1.7" stroke-linecap="butt"/>
<line x1="417.5" y1="1521.8" x2="417.5" y2="1524" stroke="#D2B4A0" stroke-width="1.7" stroke-linecap="butt"/>
<line x1="414.1" y1="1524" x2="420.9" y2="1524" stroke="#D2B4A0" stroke-width="1.7" stroke-linecap="butt"/>
<line x1="425.8" y1="1522.5" x2="425.8" y2="1524.7" stroke="#D2B4A0" stroke-width="1.7" stroke-linecap="butt"/>
<line x1="422.4" y1="1524.7" x2="429.2" y2="1524.7" stroke="#D2B4A0" stroke-width="1.7" stroke-linecap="butt"/>
<line x1="434" y1="1523.5" x2="434" y2="1525.7" stroke="#D2B4A0" stroke-width="1.7" stroke-linecap="butt"/>
<line x1="430.6" y1="1525.7" x2="437.4" y2="1525.7" stroke="#D2B4A0" stroke-width="1.7" stroke-linecap="butt"/>
<line x1="442.3" y1="1524.3" x2="442.3" y2="1526.5" stroke="#D2B4A0" stroke-width="1.7" stroke-linecap="butt"/>
<line x1="438.9" y1="1526.5" x2="445.7" y2="1526.5" stroke="#D2B4A0" stroke-width="1.7" stroke-linecap="butt"/>
<line x1="450.6" y1="1525.2" x2="450.6" y2="1527.4" stroke="#D2B4A0" stroke-width="1.7" stroke-linecap="butt"/>
<line x1="447.2" y1="1527.4" x2="454" y2="1527.4" stroke="#D2B4A0" stroke-width="1.7" stroke-linecap="butt"/>
<line x1="458.8" y1="1525.7" x2="458.8" y2="1527.9" stroke="#D2B4A0" stroke-width="1.7" stroke-linecap="butt"/>
<line x1="455.4" y1="1527.9" x2="462.2" y2="1527.9" stroke="#D2B4A0" stroke-width="1.7" stroke-linecap="butt"/>
<line x1="467.1" y1="1526.2" x2="467.1" y2="1528.4" stroke="#D2B4A0" stroke-width="1.7" stroke-linecap="butt"/>
<line x1="463.7" y1="1528.4" x2="470.5" y2="1528.4" stroke="#D2B4A0" stroke-width="1.7" stroke-linecap="butt"/>
<line x1="475.4" y1="1526.9" x2="475.4" y2="1529.1" stroke="#D2B4A0" stroke-width="1.7" stroke-linecap="butt"/>
<line x1="472" y1="1529.1" x2="478.8" y2="1529.1" stroke="#D2B4A0" stroke-width="1.7" stroke-linecap="butt"/>
<line x1="483.6" y1="1527.6" x2="483.6" y2="1529.8" stroke="#D2B4A0" stroke-width="1.7" stroke-linecap="butt"/>
<line x1="480.2" y1="1529.8" x2="487" y2="1529.8" stroke="#D2B4A0" stroke-width="1.7" stroke-linecap="butt"/>
<line x1="491.9" y1="1528.4" x2="491.9" y2="1530.6" stroke="#D2B4A0" stroke-width="1.7" stroke-linecap="butt"/>
<line x1="488.5" y1="1530.6" x2="495.3" y2="1530.6" stroke="#D2B4A0" stroke-width="1.7" stroke-linecap="butt"/>
<line x1="500.2" y1="1529.4" x2="500.2" y2="1531.6" stroke="#D2B4A0" stroke-width="1.7" stroke-linecap="butt"/>
<line x1="496.8" y1="1531.6" x2="503.6" y2="1531.6" stroke="#D2B4A0" stroke-width="1.7" stroke-linecap="butt"/>
<line x1="508.4" y1="1530.5" x2="508.4" y2="1532.7" stroke="#D2B4A0" stroke-width="1.7" stroke-linecap="butt"/>
<line x1="505" y1="1532.7" x2="511.8" y2="1532.7" stroke="#D2B4A0" stroke-width="1.7" stroke-linecap="butt"/>
<line x1="516.7" y1="1531.2" x2="516.7" y2="1533.4" stroke="#D2B4A0" stroke-width="1.7" stroke-linecap="butt"/>
<line x1="513.3" y1="1533.4" x2="520.1" y2="1533.4" stroke="#D2B4A0" stroke-width="1.7" stroke-linecap="butt"/>
<line x1="525" y1="1532.1" x2="525" y2="1534.3" stroke="#D2B4A0" stroke-width="1.7" stroke-linecap="butt"/>
<line x1="521.6" y1="1534.3" x2="528.4" y2="1534.3" stroke="#D2B4A0" stroke-width="1.7" stroke-linecap="butt"/>
<line x1="533.2" y1="1532.9" x2="533.2" y2="1535.1" stroke="#D2B4A0" stroke-width="1.7" stroke-linecap="butt"/>
<line x1="529.8" y1="1535.1" x2="536.6" y2="1535.1" stroke="#D2B4A0" stroke-width="1.7" stroke-linecap="butt"/>
<line x1="541.5" y1="1533.8" x2="541.5" y2="1536" stroke="#D2B4A0" stroke-width="1.7" stroke-linecap="butt"/>
<line x1="538.1" y1="1536" x2="544.9" y2="1536" stroke="#D2B4A0" stroke-width="1.7" stroke-linecap="butt"/>
<line x1="549.8" y1="1534.6" x2="549.8" y2="1536.8" stroke="#D2B4A0" stroke-width="1.7" stroke-linecap="butt"/>
<line x1="546.4" y1="1536.8" x2="553.2" y2="1536.8" stroke="#D2B4A0" stroke-width="1.7" stroke-linecap="butt"/>
<line x1="558" y1="1535.5" x2="558" y2="1537.7" stroke="#D2B4A0" stroke-width="1.7" stroke-linecap="butt"/>
<line x1="554.6" y1="1537.7" x2="561.4" y2="1537.7" stroke="#D2B4A0" stroke-width="1.7" stroke-linecap="butt"/>
<line x1="566.3" y1="1536.3" x2="566.3" y2="1538.5" stroke="#D2B4A0" stroke-width="1.7" stroke-linecap="butt"/>
<line x1="562.9" y1="1538.5" x2="569.7" y2="1538.5" stroke="#D2B4A0" stroke-width="1.7" stroke-linecap="butt"/>
<line x1="574.6" y1="1537.2" x2="574.6" y2="1539.4" stroke="#D2B4A0" stroke-width="1.7" stroke-linecap="butt"/>
<line x1="571.2" y1="1539.4" x2="578" y2="1539.4" stroke="#D2B4A0" stroke-width="1.7" stroke-linecap="butt"/>
<line x1="582.8" y1="1538.1" x2="582.8" y2="1540.3" stroke="#D2B4A0" stroke-width="1.7" stroke-linecap="butt"/>
<line x1="579.4" y1="1540.3" x2="586.2" y2="1540.3" stroke="#D2B4A0" stroke-width="1.7" stroke-linecap="butt"/>
<line x1="591.1" y1="1538.9" x2="591.1" y2="1541.1" stroke="#D2B4A0" stroke-width="1.7" stroke-linecap="butt"/>
<line x1="587.7" y1="1541.1" x2="594.5" y2="1541.1" stroke="#D2B4A0" stroke-width="1.7" stroke-linecap="butt"/>
<line x1="599.4" y1="1539.8" x2="599.4" y2="1542" stroke="#D2B4A0" stroke-width="1.7" stroke-linecap="butt"/>
<line x1="596" y1="1542" x2="602.8" y2="1542" stroke="#D2B4A0" stroke-width="1.7" stroke-linecap="butt"/>
<line x1="607.6" y1="1540.6" x2="607.6" y2="1542.8" stroke="#D2B4A0" stroke-width="1.7" stroke-linecap="butt"/>
<line x1="604.2" y1="1542.8" x2="611" y2="1542.8" stroke="#D2B4A0" stroke-width="1.7" stroke-linecap="butt"/>
<line x1="615.9" y1="1541.5" x2="615.9" y2="1543.7" stroke="#D2B4A0" stroke-width="1.7" stroke-linecap="butt"/>
<line x1="612.5" y1="1543.7" x2="619.3" y2="1543.7" stroke="#D2B4A0" stroke-width="1.7" stroke-linecap="butt"/>
<line x1="624.2" y1="1542.3" x2="624.2" y2="1544.5" stroke="#D2B4A0" stroke-width="1.7" stroke-linecap="butt"/>
<line x1="620.8" y1="1544.5" x2="627.6" y2="1544.5" stroke="#D2B4A0" stroke-width="1.7" stroke-linecap="butt"/>
<line x1="632.4" y1="1543.2" x2="632.4" y2="1545.4" stroke="#D2B4A0" stroke-width="1.7" stroke-linecap="butt"/>
<line x1="629" y1="1545.4" x2="635.8" y2="1545.4" stroke="#D2B4A0" stroke-width="1.7" stroke-linecap="butt"/>
<circle cx="144.7" cy="1572.4" r="3.6" fill="none" stroke="#D2B4A0" stroke-width="1.7"/>
<circle cx="153" cy="1544.1" r="3.6" fill="none" stroke="#D2B4A0" stroke-width="1.7"/>
<circle cx="161.2" cy="1495.9" r="3.6" fill="none" stroke="#D2B4A0" stroke-width="1.7"/>
<circle cx="169.5" cy="1435.2" r="3.6" fill="none" stroke="#D2B4A0" stroke-width="1.7"/>
<circle cx="177.8" cy="1379.1" r="3.6" fill="none" stroke="#D2B4A0" stroke-width="1.7"/>
<circle cx="186" cy="1328.1" r="3.6" fill="none" stroke="#D2B4A0" stroke-width="1.7"/>
<circle cx="194.3" cy="1290.9" r="3.6" fill="none" stroke="#D2B4A0" stroke-width="1.7"/>
<circle cx="202.6" cy="1275" r="3.6" fill="none" stroke="#D2B4A0" stroke-width="1.7"/>
<circle cx="210.8" cy="1264" r="3.6" fill="none" stroke="#D2B4A0" stroke-width="1.7"/>
<circle cx="219.1" cy="1266" r="3.6" fill="none" stroke="#D2B4A0" stroke-width="1.7"/>
<circle cx="227.4" cy="1286" r="3.6" fill="none" stroke="#D2B4A0" stroke-width="1.7"/>
<circle cx="235.6" cy="1301.9" r="3.6" fill="none" stroke="#D2B4A0" stroke-width="1.7"/>
<circle cx="243.9" cy="1326.7" r="3.6" fill="none" stroke="#D2B4A0" stroke-width="1.7"/>
<circle cx="252.2" cy="1352.9" r="3.6" fill="none" stroke="#D2B4A0" stroke-width="1.7"/>
<circle cx="260.4" cy="1372.9" r="3.6" fill="none" stroke="#D2B4A0" stroke-width="1.7"/>
<circle cx="268.7" cy="1393.6" r="3.6" fill="none" stroke="#D2B4A0" stroke-width="1.7"/>
<circle cx="277" cy="1411.4" r="3.6" fill="none" stroke="#D2B4A0" stroke-width="1.7"/>
<circle cx="285.2" cy="1428.3" r="3.6" fill="none" stroke="#D2B4A0" stroke-width="1.7"/>
<circle cx="293.5" cy="1442.1" r="3.6" fill="none" stroke="#D2B4A0" stroke-width="1.7"/>
<circle cx="301.8" cy="1455.6" r="3.6" fill="none" stroke="#D2B4A0" stroke-width="1.7"/>
<circle cx="310" cy="1466.9" r="3.6" fill="none" stroke="#D2B4A0" stroke-width="1.7"/>
<circle cx="318.3" cy="1473.8" r="3.6" fill="none" stroke="#D2B4A0" stroke-width="1.7"/>
<circle cx="326.6" cy="1480" r="3.6" fill="none" stroke="#D2B4A0" stroke-width="1.7"/>
<circle cx="334.8" cy="1487.3" r="3.6" fill="none" stroke="#D2B4A0" stroke-width="1.7"/>
<circle cx="343.1" cy="1493.1" r="3.6" fill="none" stroke="#D2B4A0" stroke-width="1.7"/>
<circle cx="351.4" cy="1498.9" r="3.6" fill="none" stroke="#D2B4A0" stroke-width="1.7"/>
<circle cx="359.6" cy="1502.8" r="3.6" fill="none" stroke="#D2B4A0" stroke-width="1.7"/>
<circle cx="367.9" cy="1506.6" r="3.6" fill="none" stroke="#D2B4A0" stroke-width="1.7"/>
<circle cx="376.2" cy="1509.5" r="3.6" fill="none" stroke="#D2B4A0" stroke-width="1.7"/>
<circle cx="384.4" cy="1512.4" r="3.6" fill="none" stroke="#D2B4A0" stroke-width="1.7"/>
<circle cx="392.7" cy="1514.3" r="3.6" fill="none" stroke="#D2B4A0" stroke-width="1.7"/>
<circle cx="401" cy="1516.1" r="3.6" fill="none" stroke="#D2B4A0" stroke-width="1.7"/>
<circle cx="409.2" cy="1517.1" r="3.6" fill="none" stroke="#D2B4A0" stroke-width="1.7"/>
<circle cx="417.5" cy="1518.2" r="3.6" fill="none" stroke="#D2B4A0" stroke-width="1.7"/>
<circle cx="425.8" cy="1518.9" r="3.6" fill="none" stroke="#D2B4A0" stroke-width="1.7"/>
<circle cx="434" cy="1519.9" r="3.6" fill="none" stroke="#D2B4A0" stroke-width="1.7"/>
<circle cx="442.3" cy="1520.7" r="3.6" fill="none" stroke="#D2B4A0" stroke-width="1.7"/>
<circle cx="450.6" cy="1521.6" r="3.6" fill="none" stroke="#D2B4A0" stroke-width="1.7"/>
<circle cx="458.8" cy="1522.1" r="3.6" fill="none" stroke="#D2B4A0" stroke-width="1.7"/>
<circle cx="467.1" cy="1522.6" r="3.6" fill="none" stroke="#D2B4A0" stroke-width="1.7"/>
<circle cx="475.4" cy="1523.3" r="3.6" fill="none" stroke="#D2B4A0" stroke-width="1.7"/>
<circle cx="483.6" cy="1524" r="3.6" fill="none" stroke="#D2B4A0" stroke-width="1.7"/>
<circle cx="491.9" cy="1524.8" r="3.6" fill="none" stroke="#D2B4A0" stroke-width="1.7"/>
<circle cx="500.2" cy="1525.8" r="3.6" fill="none" stroke="#D2B4A0" stroke-width="1.7"/>
<circle cx="508.4" cy="1526.9" r="3.6" fill="none" stroke="#D2B4A0" stroke-width="1.7"/>
<circle cx="516.7" cy="1527.6" r="3.6" fill="none" stroke="#D2B4A0" stroke-width="1.7"/>
<circle cx="525" cy="1528.5" r="3.6" fill="none" stroke="#D2B4A0" stroke-width="1.7"/>
<circle cx="533.2" cy="1529.3" r="3.6" fill="none" stroke="#D2B4A0" stroke-width="1.7"/>
<circle cx="541.5" cy="1530.2" r="3.6" fill="none" stroke="#D2B4A0" stroke-width="1.7"/>
<circle cx="549.8" cy="1531" r="3.6" fill="none" stroke="#D2B4A0" stroke-width="1.7"/>
<circle cx="558" cy="1531.9" r="3.6" fill="none" stroke="#D2B4A0" stroke-width="1.7"/>
<circle cx="566.3" cy="1532.7" r="3.6" fill="none" stroke="#D2B4A0" stroke-width="1.7"/>
<circle cx="574.6" cy="1533.6" r="3.6" fill="none" stroke="#D2B4A0" stroke-width="1.7"/>
<circle cx="582.8" cy="1534.5" r="3.6" fill="none" stroke="#D2B4A0" stroke-width="1.7"/>
<circle cx="591.1" cy="1535.3" r="3.6" fill="none" stroke="#D2B4A0" stroke-width="1.7"/>
<circle cx="599.4" cy="1536.2" r="3.6" fill="none" stroke="#D2B4A0" stroke-width="1.7"/>
<circle cx="607.6" cy="1537" r="3.6" fill="none" stroke="#D2B4A0" stroke-width="1.7"/>
<circle cx="615.9" cy="1537.9" r="3.6" fill="none" stroke="#D2B4A0" stroke-width="1.7"/>
<circle cx="624.2" cy="1538.7" r="3.6" fill="none" stroke="#D2B4A0" stroke-width="1.7"/>
<circle cx="632.4" cy="1539.6" r="3.6" fill="none" stroke="#D2B4A0" stroke-width="1.7"/>
<line x1="177.8" y1="1345.9" x2="177.8" y2="1345.3" stroke="#000000" stroke-width="1.7" stroke-linecap="butt"/>
<line x1="174.4" y1="1345.3" x2="181.2" y2="1345.3" stroke="#000000" stroke-width="1.7" stroke-linecap="butt"/>
<line x1="186" y1="1301.3" x2="186" y2="1298.4" stroke="#000000" stroke-width="1.7" stroke-linecap="butt"/>
<line x1="182.6" y1="1298.4" x2="189.4" y2="1298.4" stroke="#000000" stroke-width="1.7" stroke-linecap="butt"/>
<line x1="194.3" y1="1274.2" x2="194.3" y2="1270.9" stroke="#000000" stroke-width="1.7" stroke-linecap="butt"/>
<line x1="190.9" y1="1270.9" x2="197.7" y2="1270.9" stroke="#000000" stroke-width="1.7" stroke-linecap="butt"/>
<line x1="202.6" y1="1265.9" x2="202.6" y2="1259.1" stroke="#000000" stroke-width="1.7" stroke-linecap="butt"/>
<line x1="199.2" y1="1259.1" x2="206" y2="1259.1" stroke="#000000" stroke-width="1.7" stroke-linecap="butt"/>
<line x1="210.8" y1="1273.7" x2="210.8" y2="1268.8" stroke="#000000" stroke-width="1.7" stroke-linecap="butt"/>
<line x1="207.4" y1="1268.8" x2="214.2" y2="1268.8" stroke="#000000" stroke-width="1.7" stroke-linecap="butt"/>
<line x1="219.1" y1="1287.3" x2="219.1" y2="1283.3" stroke="#000000" stroke-width="1.7" stroke-linecap="butt"/>
<line x1="215.7" y1="1283.3" x2="222.5" y2="1283.3" stroke="#000000" stroke-width="1.7" stroke-linecap="butt"/>
<line x1="227.4" y1="1311.4" x2="227.4" y2="1306.7" stroke="#000000" stroke-width="1.7" stroke-linecap="butt"/>
<line x1="224" y1="1306.7" x2="230.8" y2="1306.7" stroke="#000000" stroke-width="1.7" stroke-linecap="butt"/>
<line x1="235.6" y1="1333.5" x2="235.6" y2="1331.6" stroke="#000000" stroke-width="1.7" stroke-linecap="butt"/>
<line x1="232.2" y1="1331.6" x2="239" y2="1331.6" stroke="#000000" stroke-width="1.7" stroke-linecap="butt"/>
<line x1="243.9" y1="1356.9" x2="243.9" y2="1355.7" stroke="#000000" stroke-width="1.7" stroke-linecap="butt"/>
<line x1="240.5" y1="1355.7" x2="247.3" y2="1355.7" stroke="#000000" stroke-width="1.7" stroke-linecap="butt"/>
<line x1="260.4" y1="1399.6" x2="260.4" y2="1398.6" stroke="#000000" stroke-width="1.7" stroke-linecap="butt"/>
<line x1="257" y1="1398.6" x2="263.8" y2="1398.6" stroke="#000000" stroke-width="1.7" stroke-linecap="butt"/>
<circle cx="144.7" cy="1568.3" r="3.6" fill="none" stroke="#000000" stroke-width="1.7"/>
<circle cx="153" cy="1530.1" r="3.6" fill="none" stroke="#000000" stroke-width="1.7"/>
<circle cx="161.2" cy="1470.3" r="3.6" fill="none" stroke="#000000" stroke-width="1.7"/>
<circle cx="169.5" cy="1408.3" r="3.6" fill="none" stroke="#000000" stroke-width="1.7"/>
<circle cx="177.8" cy="1349.5" r="3.6" fill="none" stroke="#000000" stroke-width="1.7"/>
<circle cx="186" cy="1304.9" r="3.6" fill="none" stroke="#000000" stroke-width="1.7"/>
<circle cx="194.3" cy="1277.8" r="3.6" fill="none" stroke="#000000" stroke-width="1.7"/>
<circle cx="202.6" cy="1269.5" r="3.6" fill="none" stroke="#000000" stroke-width="1.7"/>
<circle cx="210.8" cy="1277.3" r="3.6" fill="none" stroke="#000000" stroke-width="1.7"/>
<circle cx="219.1" cy="1290.9" r="3.6" fill="none" stroke="#000000" stroke-width="1.7"/>
<circle cx="227.4" cy="1315" r="3.6" fill="none" stroke="#000000" stroke-width="1.7"/>
<circle cx="235.6" cy="1337.1" r="3.6" fill="none" stroke="#000000" stroke-width="1.7"/>
<circle cx="243.9" cy="1360.5" r="3.6" fill="none" stroke="#000000" stroke-width="1.7"/>
<circle cx="252.2" cy="1383.3" r="3.6" fill="none" stroke="#000000" stroke-width="1.7"/>
<circle cx="260.4" cy="1403.2" r="3.6" fill="none" stroke="#000000" stroke-width="1.7"/>
<circle cx="268.7" cy="1420.7" r="3.6" fill="none" stroke="#000000" stroke-width="1.7"/>
<circle cx="277" cy="1437.7" r="3.6" fill="none" stroke="#000000" stroke-width="1.7"/>
<circle cx="285.2" cy="1448.3" r="3.6" fill="none" stroke="#000000" stroke-width="1.7"/>
<circle cx="293.5" cy="1461.4" r="3.6" fill="none" stroke="#000000" stroke-width="1.7"/>
<circle cx="301.8" cy="1471" r="3.6" fill="none" stroke="#000000" stroke-width="1.7"/>
<circle cx="310" cy="1478.2" r="3.6" fill="none" stroke="#000000" stroke-width="1.7"/>
<circle cx="318.3" cy="1487.6" r="3.6" fill="none" stroke="#000000" stroke-width="1.7"/>
<circle cx="326.6" cy="1492.4" r="3.6" fill="none" stroke="#000000" stroke-width="1.7"/>
<circle cx="334.8" cy="1497.2" r="3.6" fill="none" stroke="#000000" stroke-width="1.7"/>
<circle cx="343.1" cy="1502.5" r="3.6" fill="none" stroke="#000000" stroke-width="1.7"/>
<circle cx="351.4" cy="1505.9" r="3.6" fill="none" stroke="#000000" stroke-width="1.7"/>
<circle cx="359.6" cy="1509" r="3.6" fill="none" stroke="#000000" stroke-width="1.7"/>
<circle cx="367.9" cy="1511.4" r="3.6" fill="none" stroke="#000000" stroke-width="1.7"/>
<circle cx="376.2" cy="1513.1" r="3.6" fill="none" stroke="#000000" stroke-width="1.7"/>
<circle cx="384.4" cy="1515.2" r="3.6" fill="none" stroke="#000000" stroke-width="1.7"/>
<circle cx="392.7" cy="1516.6" r="3.6" fill="none" stroke="#000000" stroke-width="1.7"/>
<circle cx="401" cy="1517.9" r="3.6" fill="none" stroke="#000000" stroke-width="1.7"/>
<circle cx="409.2" cy="1518.9" r="3.6" fill="none" stroke="#000000" stroke-width="1.7"/>
<circle cx="417.5" cy="1520" r="3.6" fill="none" stroke="#000000" stroke-width="1.7"/>
<circle cx="425.8" cy="1520.7" r="3.6" fill="none" stroke="#000000" stroke-width="1.7"/>
<circle cx="434" cy="1521.7" r="3.6" fill="none" stroke="#000000" stroke-width="1.7"/>
<circle cx="442.3" cy="1522.5" r="3.6" fill="none" stroke="#000000" stroke-width="1.7"/>
<circle cx="450.6" cy="1523.4" r="3.6" fill="none" stroke="#000000" stroke-width="1.7"/>
<circle cx="458.8" cy="1523.9" r="3.6" fill="none" stroke="#000000" stroke-width="1.7"/>
<circle cx="467.1" cy="1524.4" r="3.6" fill="none" stroke="#000000" stroke-width="1.7"/>
<circle cx="475.4" cy="1525.1" r="3.6" fill="none" stroke="#000000" stroke-width="1.7"/>
<circle cx="483.6" cy="1525.8" r="3.6" fill="none" stroke="#000000" stroke-width="1.7"/>
<circle cx="491.9" cy="1526.6" r="3.6" fill="none" stroke="#000000" stroke-width="1.7"/>
<circle cx="500.2" cy="1527.6" r="3.6" fill="none" stroke="#000000" stroke-width="1.7"/>
<circle cx="508.4" cy="1528.7" r="3.6" fill="none" stroke="#000000" stroke-width="1.7"/>
<circle cx="516.7" cy="1529.4" r="3.6" fill="none" stroke="#000000" stroke-width="1.7"/>
<circle cx="525" cy="1530.3" r="3.6" fill="none" stroke="#000000" stroke-width="1.7"/>
<circle cx="533.2" cy="1531.1" r="3.6" fill="none" stroke="#000000" stroke-width="1.7"/>
<circle cx="541.5" cy="1532" r="3.6" fill="none" stroke="#000000" stroke-width="1.7"/>
<circle cx="549.8" cy="1532.8" r="3.6" fill="none" stroke="#000000" stroke-width="1.7"/>
<circle cx="558" cy="1533.7" r="3.6" fill="none" stroke="#000000" stroke-width="1.7"/>
<circle cx="566.3" cy="1534.5" r="3.6" fill="none" stroke="#000000" stroke-width="1.7"/>
<circle cx="574.6" cy="1535.4" r="3.6" fill="none" stroke="#000000" stroke-width="1.7"/>
<circle cx="582.8" cy="1536.3" r="3.6" fill="none" stroke="#000000" stroke-width="1.7"/>
<circle cx="591.1" cy="1537.1" r="3.6" fill="none" stroke="#000000" stroke-width="1.7"/>
<circle cx="599.4" cy="1538" r="3.6" fill="none" stroke="#000000" stroke-width="1.7"/>
<circle cx="607.6" cy="1538.8" r="3.6" fill="none" stroke="#000000" stroke-width="1.7"/>
<circle cx="615.9" cy="1539.7" r="3.6" fill="none" stroke="#000000" stroke-width="1.7"/>
<circle cx="624.2" cy="1540.5" r="3.6" fill="none" stroke="#000000" stroke-width="1.7"/>
<circle cx="632.4" cy="1541.4" r="3.6" fill="none" stroke="#000000" stroke-width="1.7"/>
<circle cx="692.7" cy="1202.2" r="3.6" fill="none" stroke="#000000" stroke-width="1.7"/>
<text x="735.3" y="1210.3" font-size="24" text-anchor="start" fill="#000">control</text>
<circle cx="692.7" cy="1246" r="3.6" fill="none" stroke="#D2B4A0" stroke-width="1.7"/>
<text x="735.3" y="1254" font-size="24" text-anchor="start" fill="#000">0.1 nM</text>
<circle cx="692.7" cy="1289.7" r="3.6" fill="none" stroke="#FF9030" stroke-width="1.7"/>
<text x="735.3" y="1297.8" font-size="24" text-anchor="start" fill="#000">1 nM</text>
<circle cx="692.7" cy="1333.5" r="3.6" fill="none" stroke="#0000FF" stroke-width="1.7"/>
<text x="735.3" y="1341.5" font-size="24" text-anchor="start" fill="#000">5 nM</text>
<circle cx="692.7" cy="1377.2" r="3.6" fill="none" stroke="#FF2E3A" stroke-width="1.7"/>
<text x="735.3" y="1385.3" font-size="24" text-anchor="start" fill="#000">10 nM</text>
<circle cx="692.7" cy="1421" r="3.6" fill="none" stroke="#009557" stroke-width="1.7"/>
<text x="735.3" y="1429" font-size="24" text-anchor="start" fill="#000">100 nM</text>
<circle cx="692.7" cy="1464.7" r="3.6" fill="none" stroke="#33EE9E" stroke-width="1.7"/>
<text x="735.3" y="1472.8" font-size="24" text-anchor="start" fill="#000">500 nM</text>
<circle cx="692.7" cy="1508.5" r="3.6" fill="none" stroke="#FF38E0" stroke-width="1.7"/>
<text x="735.3" y="1516.5" font-size="24" text-anchor="start" fill="#000">1 &#181;M</text>
<circle cx="692.7" cy="1552.2" r="3.6" fill="none" stroke="#999999" stroke-width="1.7"/>
<text x="735.3" y="1560.3" font-size="24" text-anchor="start" fill="#000">10 &#181;M</text>
<line x1="992.7" y1="1250.4" x2="992.7" y2="1561" stroke="#000" stroke-width="2.8" stroke-linecap="butt"/>
<line x1="984.2" y1="1552" x2="1445.2" y2="1552" stroke="#000" stroke-width="2.8" stroke-linecap="butt"/>
<line x1="984.2" y1="1552" x2="992.7" y2="1552" stroke="#000" stroke-width="2.8" stroke-linecap="butt"/>
<text x="979.3" y="1560" font-size="21" font-weight="bold" text-anchor="end" fill="#000">0</text>
<line x1="987.4" y1="1514.3" x2="992.7" y2="1514.3" stroke="#000" stroke-width="2.8" stroke-linecap="butt"/>
<line x1="984.2" y1="1476.6" x2="992.7" y2="1476.6" stroke="#000" stroke-width="2.8" stroke-linecap="butt"/>
<text x="970.8" y="1484.6" font-size="21" font-weight="bold" text-anchor="end" textLength="47" lengthAdjust="spacingAndGlyphs" fill="#000">2&#215;10</text>
<text x="972.8" y="1477.6" font-size="13" font-weight="bold" text-anchor="start" fill="#000">7</text>
<line x1="987.4" y1="1438.9" x2="992.7" y2="1438.9" stroke="#000" stroke-width="2.8" stroke-linecap="butt"/>
<line x1="984.2" y1="1401.2" x2="992.7" y2="1401.2" stroke="#000" stroke-width="2.8" stroke-linecap="butt"/>
<text x="970.8" y="1409.2" font-size="21" font-weight="bold" text-anchor="end" textLength="47" lengthAdjust="spacingAndGlyphs" fill="#000">4&#215;10</text>
<text x="972.8" y="1402.2" font-size="13" font-weight="bold" text-anchor="start" fill="#000">7</text>
<line x1="987.4" y1="1363.5" x2="992.7" y2="1363.5" stroke="#000" stroke-width="2.8" stroke-linecap="butt"/>
<line x1="984.2" y1="1325.8" x2="992.7" y2="1325.8" stroke="#000" stroke-width="2.8" stroke-linecap="butt"/>
<text x="970.8" y="1333.8" font-size="21" font-weight="bold" text-anchor="end" textLength="47" lengthAdjust="spacingAndGlyphs" fill="#000">6&#215;10</text>
<text x="972.8" y="1326.8" font-size="13" font-weight="bold" text-anchor="start" fill="#000">7</text>
<line x1="987.4" y1="1288.1" x2="992.7" y2="1288.1" stroke="#000" stroke-width="2.8" stroke-linecap="butt"/>
<line x1="984.2" y1="1250.4" x2="992.7" y2="1250.4" stroke="#000" stroke-width="2.8" stroke-linecap="butt"/>
<text x="970.8" y="1258.4" font-size="21" font-weight="bold" text-anchor="end" textLength="47" lengthAdjust="spacingAndGlyphs" fill="#000">8&#215;10</text>
<text x="972.8" y="1251.4" font-size="13" font-weight="bold" text-anchor="start" fill="#000">7</text>
<line x1="992.7" y1="1552" x2="992.7" y2="1561" stroke="#000" stroke-width="2.8" stroke-linecap="butt"/>
<text x="992.7" y="1584.4" font-size="20.5" font-weight="bold" text-anchor="middle" fill="#000">-10</text>
<line x1="1083" y1="1552" x2="1083" y2="1556.5" stroke="#000" stroke-width="2.8" stroke-linecap="butt"/>
<line x1="1173.3" y1="1552" x2="1173.3" y2="1561" stroke="#000" stroke-width="2.8" stroke-linecap="butt"/>
<text x="1173.3" y="1584.4" font-size="20.5" font-weight="bold" text-anchor="middle" fill="#000">-8</text>
<line x1="1263.6" y1="1552" x2="1263.6" y2="1556.5" stroke="#000" stroke-width="2.8" stroke-linecap="butt"/>
<line x1="1353.9" y1="1552" x2="1353.9" y2="1561" stroke="#000" stroke-width="2.8" stroke-linecap="butt"/>
<text x="1353.9" y="1584.4" font-size="20.5" font-weight="bold" text-anchor="middle" fill="#000">-6</text>
<line x1="1444.2" y1="1552" x2="1444.2" y2="1556.5" stroke="#000" stroke-width="2.8" stroke-linecap="butt"/>
<text x="1221.7" y="1629" font-size="21" font-weight="bold" text-anchor="middle" textLength="129.5" lengthAdjust="spacingAndGlyphs" fill="#000">log [CPA] (M)</text>
<text transform="translate(877.5,1402.5) rotate(-90)" font-size="18.5" font-weight="bold" text-anchor="middle" textLength="189" lengthAdjust="spacingAndGlyphs" fill="#000">cAMP accumulation</text>
<text transform="translate(902.5,1402.5) rotate(-90)" font-size="20" font-weight="bold" text-anchor="middle" textLength="57" lengthAdjust="spacingAndGlyphs" fill="#000">(AUC)</text>
<text x="1255.3" y="1336.4" font-size="20" text-anchor="start" textLength="21" lengthAdjust="spacingAndGlyphs" fill="#000">IC</text>
<text x="1276.3" y="1340.9" font-size="15.2" text-anchor="start" textLength="17.2" lengthAdjust="spacingAndGlyphs" fill="#000">50</text>
<text x="1299.8" y="1336.4" font-size="20" text-anchor="start" textLength="76.6" lengthAdjust="spacingAndGlyphs" fill="#000">= 16 nM</text>
<polyline points="992.7,1301 994.2,1301.1 995.7,1301.1 997.2,1301.1 998.7,1301.2 1000.2,1301.2 1001.7,1301.3 1003.2,1301.3 1004.7,1301.4 1006.2,1301.4 1007.8,1301.5 1009.3,1301.5 1010.8,1301.6 1012.3,1301.6 1013.8,1301.7 1015.3,1301.7 1016.8,1301.8 1018.3,1301.9 1019.8,1301.9 1021.3,1302 1022.8,1302.1 1024.3,1302.2 1025.8,1302.2 1027.3,1302.3 1028.8,1302.4 1030.3,1302.5 1031.8,1302.6 1033.3,1302.7 1034.8,1302.8 1036.3,1302.9 1037.9,1303 1039.4,1303.1 1040.9,1303.3 1042.4,1303.4 1043.9,1303.5 1045.4,1303.6 1046.9,1303.8 1048.4,1303.9 1049.9,1304.1 1051.4,1304.2 1052.9,1304.4 1054.4,1304.6 1055.9,1304.7 1057.4,1304.9 1058.9,1305.1 1060.4,1305.3 1061.9,1305.5 1063.4,1305.7 1064.9,1306 1066.4,1306.2 1068,1306.4 1069.5,1306.7 1071,1306.9 1072.5,1307.2 1074,1307.5 1075.5,1307.8 1077,1308.1 1078.5,1308.4 1080,1308.7 1081.5,1309 1083,1309.4 1084.5,1309.7 1086,1310.1 1087.5,1310.5 1089,1310.9 1090.5,1311.3 1092,1311.7 1093.5,1312.2 1095,1312.6 1096.5,1313.1 1098,1313.6 1099.6,1314.1 1101.1,1314.6 1102.6,1315.2 1104.1,1315.7 1105.6,1316.3 1107.1,1316.9 1108.6,1317.5 1110.1,1318.2 1111.6,1318.8 1113.1,1319.5 1114.6,1320.2 1116.1,1321 1117.6,1321.7 1119.1,1322.5 1120.6,1323.3 1122.1,1324.1 1123.6,1325 1125.1,1325.8 1126.6,1326.7 1128.2,1327.7 1129.7,1328.6 1131.2,1329.6 1132.7,1330.6 1134.2,1331.6 1135.7,1332.7 1137.2,1333.7 1138.7,1334.9 1140.2,1336 1141.7,1337.2 1143.2,1338.3 1144.7,1339.6 1146.2,1340.8 1147.7,1342.1 1149.2,1343.4 1150.7,1344.7 1152.2,1346.1 1153.7,1347.5 1155.2,1348.9 1156.7,1350.3 1158.2,1351.8 1159.8,1353.2 1161.3,1354.8 1162.8,1356.3 1164.3,1357.8 1165.8,1359.4 1167.3,1361 1168.8,1362.6 1170.3,1364.3 1171.8,1365.9 1173.3,1367.6 1174.8,1369.3 1176.3,1371 1177.8,1372.7 1179.3,1374.4 1180.8,1376.2 1182.3,1377.9 1183.8,1379.7 1185.3,1381.5 1186.8,1383.2 1188.3,1385 1189.9,1386.8 1191.4,1388.6 1192.9,1390.4 1194.4,1392.1 1195.9,1393.9 1197.4,1395.7 1198.9,1397.4 1200.4,1399.2 1201.9,1401 1203.4,1402.7 1204.9,1404.4 1206.4,1406.1 1207.9,1407.8 1209.4,1409.5 1210.9,1411.2 1212.4,1412.9 1213.9,1414.5 1215.4,1416.1 1216.9,1417.7 1218.5,1419.3 1220,1420.9 1221.5,1422.4 1223,1423.9 1224.5,1425.4 1226,1426.8 1227.5,1428.3 1229,1429.7 1230.5,1431.1 1232,1432.4 1233.5,1433.7 1235,1435.1 1236.5,1436.3 1238,1437.6 1239.5,1438.8 1241,1440 1242.5,1441.2 1244,1442.3 1245.5,1443.4 1247,1444.5 1248.6,1445.5 1250.1,1446.6 1251.6,1447.6 1253.1,1448.5 1254.6,1449.5 1256.1,1450.4 1257.6,1451.3 1259.1,1452.2 1260.6,1453 1262.1,1453.8 1263.6,1454.6 1265.1,1455.4 1266.6,1456.2 1268.1,1456.9 1269.6,1457.6 1271.1,1458.3 1272.6,1459 1274.1,1459.6 1275.6,1460.2 1277.1,1460.8 1278.7,1461.4 1280.2,1462 1281.7,1462.5 1283.2,1463 1284.7,1463.5 1286.2,1464 1287.7,1464.5 1289.2,1465 1290.7,1465.4 1292.2,1465.8 1293.7,1466.3 1295.2,1466.7 1296.7,1467 1298.2,1467.4 1299.7,1467.8 1301.2,1468.1 1302.7,1468.4 1304.2,1468.8 1305.7,1469.1 1307.2,1469.4 1308.8,1469.7 1310.3,1469.9 1311.8,1470.2 1313.3,1470.5 1314.8,1470.7 1316.3,1471 1317.8,1471.2 1319.3,1471.4 1320.8,1471.6 1322.3,1471.8 1323.8,1472 1325.3,1472.2 1326.8,1472.4 1328.3,1472.6 1329.8,1472.7 1331.3,1472.9 1332.8,1473.1 1334.3,1473.2 1335.8,1473.4 1337.3,1473.5 1338.9,1473.6 1340.4,1473.8 1341.9,1473.9 1343.4,1474 1344.9,1474.1 1346.4,1474.2 1347.9,1474.3 1349.4,1474.4 1350.9,1474.5 1352.4,1474.6 1353.9,1474.7 1355.4,1474.8 1356.9,1474.9 1358.4,1475 1359.9,1475.1 1361.4,1475.1 1362.9,1475.2 1364.4,1475.3 1365.9,1475.3 1367.4,1475.4 1369,1475.5 1370.5,1475.5 1372,1475.6 1373.5,1475.6 1375,1475.7 1376.5,1475.7 1378,1475.8 1379.5,1475.8 1381,1475.9 1382.5,1475.9 1384,1476 1385.5,1476 1387,1476 1388.5,1476.1 1390,1476.1 1391.5,1476.1 1393,1476.2 1394.5,1476.2 1396,1476.2 1397.5,1476.3 1399,1476.3 1400.6,1476.3 1402.1,1476.4 1403.6,1476.4 1405.1,1476.4 1406.6,1476.4 1408.1,1476.4 1409.6,1476.5 1411.1,1476.5 1412.6,1476.5 1414.1,1476.5 1415.6,1476.5 1417.1,1476.6 1418.6,1476.6 1420.1,1476.6 1421.6,1476.6 1423.1,1476.6 1424.6,1476.6 1426.1,1476.6 1427.6,1476.7 1429.2,1476.7 1430.7,1476.7 1432.2,1476.7 1433.7,1476.7 1435.2,1476.7 1436.7,1476.7 1438.2,1476.7 1439.7,1476.7 1441.2,1476.8 1442.7,1476.8 1444.2,1476.8" fill="none" stroke="#000" stroke-width="1.6"/>
<line x1="992.7" y1="1288.7" x2="992.7" y2="1339.7" stroke="#000" stroke-width="2.6" stroke-linecap="butt"/>
<line x1="987.9" y1="1288.7" x2="997.5" y2="1288.7" stroke="#000" stroke-width="2.6" stroke-linecap="butt"/>
<line x1="987.9" y1="1339.7" x2="997.5" y2="1339.7" stroke="#000" stroke-width="2.6" stroke-linecap="butt"/>
<circle cx="992.7" cy="1314.1" r="4.7" fill="#000" stroke="#000" stroke-width="0"/>
<line x1="1083" y1="1293.7" x2="1083" y2="1307.2" stroke="#000" stroke-width="2.6" stroke-linecap="butt"/>
<line x1="1078.2" y1="1293.7" x2="1087.8" y2="1293.7" stroke="#000" stroke-width="2.6" stroke-linecap="butt"/>
<line x1="1078.2" y1="1307.2" x2="1087.8" y2="1307.2" stroke="#000" stroke-width="2.6" stroke-linecap="butt"/>
<circle cx="1083" cy="1300.4" r="4.7" fill="#000" stroke="#000" stroke-width="0"/>
<line x1="1146.2" y1="1312.8" x2="1146.2" y2="1341.7" stroke="#000" stroke-width="2.6" stroke-linecap="butt"/>
<line x1="1141.4" y1="1312.8" x2="1151" y2="1312.8" stroke="#000" stroke-width="2.6" stroke-linecap="butt"/>
<line x1="1141.4" y1="1341.7" x2="1151" y2="1341.7" stroke="#000" stroke-width="2.6" stroke-linecap="butt"/>
<circle cx="1146.2" cy="1327.2" r="4.7" fill="#000" stroke="#000" stroke-width="0"/>
<circle cx="1173.3" cy="1378.1" r="4.7" fill="#000" stroke="#000" stroke-width="0"/>
<line x1="1263.6" y1="1443.1" x2="1263.6" y2="1463.8" stroke="#000" stroke-width="2.6" stroke-linecap="butt"/>
<line x1="1258.8" y1="1443.1" x2="1268.4" y2="1443.1" stroke="#000" stroke-width="2.6" stroke-linecap="butt"/>
<line x1="1258.8" y1="1463.8" x2="1268.4" y2="1463.8" stroke="#000" stroke-width="2.6" stroke-linecap="butt"/>
<circle cx="1263.6" cy="1453.9" r="4.7" fill="#000" stroke="#000" stroke-width="0"/>
<circle cx="1326.8" cy="1472.5" r="4.7" fill="#000" stroke="#000" stroke-width="0"/>
<circle cx="1353.9" cy="1488.6" r="4.7" fill="#000" stroke="#000" stroke-width="0"/>
<line x1="1444.2" y1="1454.2" x2="1444.2" y2="1463.6" stroke="#000" stroke-width="2.6" stroke-linecap="butt"/>
<line x1="1439.4" y1="1454.2" x2="1449" y2="1454.2" stroke="#000" stroke-width="2.6" stroke-linecap="butt"/>
<line x1="1439.4" y1="1463.6" x2="1449" y2="1463.6" stroke="#000" stroke-width="2.6" stroke-linecap="butt"/>
<circle cx="1444.2" cy="1458.8" r="4.7" fill="#000" stroke="#000" stroke-width="0"/>
</svg></body></html>
